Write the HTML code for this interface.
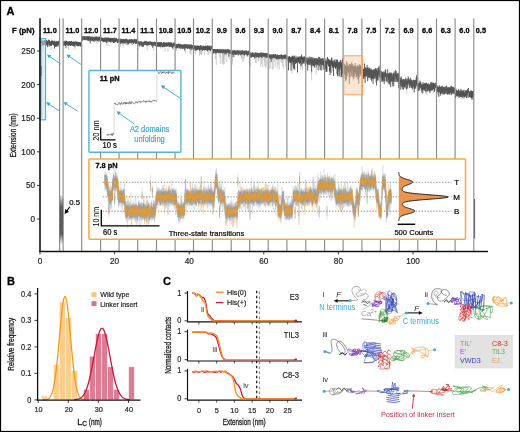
<!DOCTYPE html>
<html><head><meta charset="utf-8"><style>
html,body{margin:0;padding:0;background:#fff;}
svg{display:block;font-family:"Liberation Sans", sans-serif;will-change:transform;}
</style></head><body>
<svg width="520" height="432" viewBox="0 0 520 432">
<rect x="0" y="0" width="520" height="432" fill="#fff"/>
<path d="M40.5,45.3V49.1M42.0,45.2V50.2M51.0,44.8V50.0M68.5,45.3V50.1M75.0,46.6V49.8M96.8,39.8V44.4M98.3,39.8V42.2M106.5,41.9V45.3M108.0,41.4V46.2M120.6,43.5V46.8M123.1,43.1V47.7M138.2,44.0V49.8M147.2,44.7V50.4M153.7,45.0V51.0M160.5,46.3V48.7M165.0,45.7V51.4M168.0,45.6V51.7M173.5,45.5V49.5M176.6,47.4V51.4M180.6,46.8V50.3M185.6,47.5V53.2M190.1,48.3V54.1M191.1,49.7V54.6M195.5,49.1V54.4M199.5,50.2V55.9M200.0,49.5V53.4M200.5,49.3V54.3M201.5,49.2V54.5M202.0,49.4V55.0M204.5,49.7V55.4M208.0,49.2V55.0M209.0,49.2V53.8M215.3,53.2V59.0M216.3,53.0V65.1M219.8,51.9V58.0M220.3,52.1V64.0M222.3,52.9V64.3M222.8,52.1V63.3M223.3,52.5V64.8M223.8,52.1V60.2M224.8,53.8V64.0M225.3,51.7V55.9M226.8,52.9V62.1M229.3,52.5V59.7M232.2,54.3V64.5M232.7,53.4V62.6M234.2,53.4V57.7M241.2,53.9V58.3M241.7,53.9V58.0M242.2,53.9V62.3M243.7,53.8V61.2M244.2,54.8V58.8M249.2,54.8V60.4M250.2,56.1V67.0M255.2,57.0V63.0M256.2,56.1V63.1M258.2,56.3V60.9M258.7,57.1V61.0M260.7,55.8V66.7M261.7,57.1V63.9M262.7,55.7V67.0M264.2,56.5V60.5M264.7,56.0V66.2M265.7,57.2V68.3M266.2,57.0V66.2M269.2,57.5V68.8M270.2,58.4V68.6M272.2,58.0V69.8M273.2,57.8V68.9M274.2,57.1V61.6M275.2,57.3V67.3M277.2,58.4V68.4M278.2,58.1V64.8M279.2,58.5V70.0M280.7,57.8V62.4M281.7,58.5V62.6M282.7,58.1V66.8M283.7,58.4V69.0M285.7,58.0V66.8M292.0,64.1V73.8M292.5,61.1V66.8M293.0,61.5V70.1M295.0,60.2V70.8M300.5,62.6V69.5M301.5,59.6V67.5M302.5,61.9V70.7M305.0,61.9V66.1M311.2,65.8V73.6M311.7,71.2V80.4M316.2,66.8V74.3M330.5,67.9V72.9M332.5,67.3V71.4M338.0,71.1V77.9M339.5,69.6V74.2M353.2,78.2V81.5M354.2,75.5V79.7M354.7,73.1V78.4M360.7,72.9V76.6M364.6,76.6V79.2M368.1,77.1V80.5M379.1,73.6V77.8M379.6,76.8V81.7M388.7,79.5V84.4M392.7,85.0V87.2M406.7,88.9V93.8M425.9,91.6V94.0M426.9,90.4V94.8M433.4,88.7V93.2M462.0,95.1V100.0" stroke="#a6a6a6" stroke-width="0.55" fill="none"/>
<path d="M40.5,41.1V45.8M41.0,40.8V44.5M41.5,39.4V43.3M42.0,41.1V45.7M42.5,40.5V44.3M43.0,40.9V45.5M43.5,40.8V44.7M44.0,40.7V45.3M44.5,40.5V45.0M45.0,40.2V44.3M45.5,41.7V46.1M46.0,40.3V45.4M46.5,40.1V45.1M47.0,40.4V44.1M47.5,41.0V47.1M48.0,41.4V45.2M48.5,39.7V43.5M49.0,41.6V46.6M49.5,39.9V45.1M50.0,41.9V45.8M50.5,41.5V45.7M51.0,40.9V45.3M51.5,41.1V46.0M52.0,39.7V44.3M52.5,40.8V44.4M53.0,41.1V44.7M53.5,40.9V45.1M54.0,41.5V45.9M54.5,40.7V48.5M55.0,41.4V45.2M55.5,42.3V47.0M56.0,40.8V45.7M56.5,41.2V46.4M57.0,42.2V47.0M57.5,41.2V45.3M58.0,41.1V45.4M58.5,40.8V44.8M59.0,41.4V46.5M63.5,41.3V45.7M64.0,41.2V45.2M64.5,41.6V45.5M65.0,40.6V44.2M65.5,41.4V46.0M66.0,41.2V48.3M66.5,40.7V44.7M67.0,41.3V45.0M67.5,41.4V44.9M68.0,41.8V46.0M68.5,41.7V45.8M69.0,41.5V45.1M69.5,41.3V45.5M70.0,41.8V45.5M70.5,41.1V45.8M71.0,41.4V45.4M71.5,40.9V45.2M72.0,41.7V45.8M72.5,41.8V45.3M73.0,41.8V46.3M73.5,41.5V46.2M74.0,41.5V45.4M74.5,41.8V45.9M75.0,42.7V47.1M75.5,41.4V44.9M76.0,41.5V44.9M76.5,41.7V45.7M77.0,41.9V45.4M77.5,41.9V46.2M78.0,41.8V46.1M78.5,42.3V46.3M79.0,42.1V45.8M79.5,42.0V45.4M80.0,42.0V46.4M80.5,42.8V46.5M81.0,41.9V46.0M81.5,41.6V46.2M82.3,36.4V40.9M82.8,36.3V39.9M83.3,36.1V39.6M83.8,36.7V40.2M84.3,36.0V39.4M84.8,36.8V40.2M85.3,36.3V39.4M85.8,36.5V39.6M86.3,37.2V40.3M86.8,36.0V40.0M87.3,36.4V39.9M87.8,36.4V40.7M88.3,36.4V40.7M88.8,36.8V41.1M89.3,36.1V40.1M89.8,36.5V40.7M90.3,36.7V43.3M90.8,37.2V41.2M91.3,36.6V40.1M91.8,37.0V40.6M92.3,36.6V40.6M92.8,36.6V41.2M93.3,37.2V41.2M93.8,37.5V41.3M94.3,37.3V41.7M94.8,36.5V39.9M95.3,36.8V40.1M95.8,36.9V41.3M96.3,36.4V40.2M96.8,36.7V40.3M97.3,37.0V41.2M97.8,37.0V40.6M98.3,36.7V40.3M98.8,37.0V41.4M99.3,36.7V40.0M99.8,37.0V41.4M100.3,36.5V39.7M101.0,37.4V40.6M101.5,37.4V41.0M102.0,37.6V41.1M102.5,38.1V41.4M103.0,37.8V42.3M103.5,38.3V41.6M104.0,37.7V42.0M104.5,38.1V41.9M105.0,37.6V40.9M105.5,38.5V41.9M106.0,37.1V42.3M106.5,38.0V42.4M107.0,38.3V42.6M107.5,37.6V40.9M108.0,37.8V41.9M108.5,37.4V40.9M109.0,38.0V42.0M109.5,38.1V41.9M110.0,37.9V41.4M110.5,37.9V42.2M111.0,39.0V42.6M111.5,37.8V41.3M112.0,38.2V41.9M112.5,38.0V42.2M113.0,37.8V41.2M113.5,38.5V43.0M114.0,37.7V42.1M114.5,38.3V42.8M115.0,37.6V41.9M115.5,38.5V42.1M116.0,38.5V42.2M116.5,38.2V41.3M117.0,38.7V42.1M117.5,39.3V43.0M118.0,38.8V43.2M118.5,38.5V41.7M119.6,39.0V42.6M120.1,38.4V41.9M120.6,39.5V44.0M121.1,39.1V42.9M121.6,39.1V43.0M122.1,39.4V43.6M122.6,39.0V42.7M123.1,39.4V43.6M123.6,38.8V43.2M124.1,39.9V43.2M124.6,39.2V43.3M125.1,39.5V43.6M125.6,38.9V43.2M126.1,39.1V42.5M126.6,38.5V42.4M127.1,40.5V45.1M127.6,39.6V43.2M128.1,39.2V43.8M128.6,40.1V44.6M129.1,39.8V43.5M129.6,39.4V42.9M130.1,39.1V42.7M130.6,39.5V43.2M131.1,39.4V42.8M131.6,39.1V42.8M132.1,40.1V44.5M132.6,39.4V42.6M133.1,39.3V43.0M133.6,39.9V44.0M134.1,39.5V43.2M134.6,38.8V42.2M135.1,39.4V42.9M135.6,39.4V44.0M136.1,39.6V43.9M136.6,39.1V43.5M137.1,39.9V43.8M138.2,41.3V44.5M138.7,40.8V44.1M139.2,41.3V45.3M139.7,42.6V46.4M140.2,41.5V45.3M140.7,41.0V44.3M141.2,42.4V46.5M141.7,41.5V44.8M142.2,41.9V46.5M142.7,42.0V46.6M143.2,42.3V46.8M143.7,42.0V46.5M144.2,40.9V44.4M144.7,41.6V44.8M145.2,41.4V44.8M145.7,41.1V45.2M146.2,41.1V44.4M146.7,41.4V45.7M147.2,41.4V45.2M147.7,42.1V45.6M148.2,41.8V45.0M148.7,41.5V45.4M149.2,41.7V44.9M149.7,41.7V45.2M150.2,41.6V44.9M150.7,41.6V44.9M151.2,41.6V44.8M151.7,42.0V46.1M152.2,41.9V45.1M152.7,42.5V47.8M153.2,42.0V46.1M153.7,42.1V45.5M154.2,42.0V45.2M154.7,41.5V45.7M155.2,42.0V45.6M155.7,42.1V46.3M157.0,42.3V45.8M157.5,42.2V46.7M158.0,42.7V46.3M158.5,42.1V46.6M159.0,42.6V47.0M159.5,42.2V46.5M160.0,42.2V46.7M160.5,42.2V46.8M161.0,42.2V46.4M161.5,42.0V45.7M162.0,42.9V47.4M162.5,43.7V47.1M163.0,42.7V46.3M163.5,42.0V47.1M164.0,42.4V46.0M164.5,42.7V46.8M165.0,42.2V46.2M165.5,43.1V46.6M166.0,42.9V46.7M166.5,42.5V46.2M167.0,42.5V46.7M167.5,42.8V46.0M168.0,42.4V46.1M168.5,42.4V45.6M169.0,42.3V46.8M169.5,42.6V46.9M170.0,42.6V47.0M170.5,42.8V46.6M171.0,42.1V45.6M171.5,42.8V47.2M172.0,42.5V45.9M172.5,44.3V48.5M173.0,43.3V47.5M173.5,42.7V46.0M174.0,42.9V46.8M174.5,42.4V46.4M175.6,43.8V48.1M176.1,44.4V48.8M176.6,44.1V47.9M177.1,43.9V48.2M177.6,44.0V48.0M178.1,44.4V47.9M178.6,43.5V46.7M179.1,44.4V48.9M179.6,43.9V47.8M180.1,44.2V48.0M180.6,44.0V47.3M181.1,45.3V49.0M181.6,44.3V47.8M182.1,44.6V48.1M182.6,44.8V49.1M183.1,44.8V48.3M183.6,44.7V48.6M184.1,44.0V48.4M184.6,44.3V50.5M185.1,44.7V48.2M185.6,44.3V48.0M186.1,44.2V48.7M186.6,44.5V47.7M187.1,44.6V47.9M187.6,44.5V49.0M188.1,44.8V48.8M188.6,44.8V48.2M189.1,44.1V47.9M189.6,45.3V49.2M190.1,44.9V48.8M190.6,44.3V48.5M191.1,45.7V50.2M191.6,44.5V48.1M192.1,45.1V49.6M192.6,45.0V48.8M194.0,45.4V49.2M194.5,45.5V49.2M195.0,46.2V50.8M195.5,45.5V49.6M196.0,45.9V50.4M196.5,45.9V50.4M197.0,45.7V50.2M197.5,45.6V49.7M198.0,45.6V49.9M198.5,46.1V49.8M199.0,45.5V49.1M199.5,46.1V50.7M200.0,46.0V50.0M200.5,45.2V49.8M201.0,45.4V49.8M201.5,46.4V49.7M202.0,46.4V49.9M202.5,46.6V50.8M203.0,45.3V49.9M203.5,46.0V50.1M204.0,45.9V50.2M204.5,46.2V50.2M205.0,46.1V49.8M205.5,45.6V50.1M206.0,46.4V49.6M206.5,45.8V50.4M207.0,46.4V50.2M207.5,45.5V51.3M208.0,45.7V49.7M208.5,46.3V50.3M209.0,45.5V49.7M209.5,46.2V50.4M210.0,45.9V50.1M210.5,47.2V51.1M211.0,45.6V49.7M211.5,45.8V49.2M212.8,49.1V52.6M213.3,49.1V53.5M213.8,49.1V53.2M214.3,49.0V52.1M214.8,49.1V52.9M215.3,49.6V53.7M215.8,49.0V52.3M216.3,49.2V53.5M216.8,49.3V52.7M217.3,49.0V52.7M217.8,49.2V52.6M218.3,49.7V52.7M218.8,49.1V53.5M219.3,49.1V52.9M219.8,49.0V52.4M220.3,49.5V52.6M220.8,49.6V53.0M221.3,49.5V52.7M221.8,49.6V53.2M222.3,50.1V53.4M222.8,49.2V52.6M223.3,49.3V53.0M223.8,49.5V52.6M224.3,49.3V52.6M224.8,50.0V54.3M225.3,49.2V52.2M225.8,50.2V54.4M226.3,49.6V53.4M226.8,49.4V53.4M227.3,49.2V52.6M227.8,49.5V53.3M228.3,49.1V52.2M228.8,49.8V56.8M229.3,49.7V53.0M229.8,50.1V53.9M230.3,49.9V54.1M231.7,50.7V54.5M232.2,50.8V54.8M232.7,50.3V53.9M233.2,50.6V57.0M233.7,50.5V54.5M234.2,50.5V53.9M234.7,50.4V54.3M235.2,50.8V55.1M235.7,50.8V54.7M236.2,50.0V54.4M236.7,51.0V54.9M237.2,50.8V54.1M237.7,50.1V53.7M238.2,50.5V55.6M238.7,50.6V55.0M239.2,51.1V54.4M239.7,50.3V53.9M240.2,50.7V54.6M240.7,51.1V55.3M241.2,50.5V54.4M241.7,50.7V54.4M242.2,50.2V54.4M242.7,50.6V54.5M243.2,50.7V54.3M243.7,51.0V54.3M244.2,50.6V55.3M244.7,50.9V55.4M245.2,50.4V53.8M245.7,51.1V54.5M246.2,50.5V54.9M246.7,50.5V54.9M247.2,52.1V56.6M247.7,50.9V55.5M248.2,51.3V55.1M248.7,50.7V54.4M249.2,50.8V55.3M250.2,53.1V56.6M250.7,52.4V56.9M251.2,53.2V57.9M251.7,53.1V57.2M252.2,52.4V56.8M252.7,52.3V56.6M253.2,53.3V57.2M253.7,53.1V57.0M254.2,52.7V56.8M254.7,54.5V58.6M255.2,52.7V57.5M255.7,52.4V56.0M256.2,52.8V56.6M256.7,53.3V57.7M257.2,52.6V56.9M257.7,52.8V56.9M258.2,53.3V56.8M258.7,53.1V57.6M259.2,53.2V57.7M259.7,53.0V56.5M260.2,53.1V57.1M260.7,52.3V56.3M261.2,52.6V57.2M261.7,52.9V57.6M262.2,53.4V57.8M262.7,52.5V56.2M263.2,53.1V56.9M263.7,52.8V56.2M264.2,53.3V57.0M264.7,53.0V56.5M265.2,52.9V56.4M265.7,53.3V57.7M266.2,53.4V57.5M266.7,53.1V57.3M267.2,53.8V57.5M267.7,53.0V57.5M269.2,54.3V58.0M269.7,54.2V57.6M270.2,55.3V58.9M270.7,54.4V59.0M271.2,54.8V62.1M271.7,54.3V58.5M272.2,54.7V58.5M272.7,54.7V58.0M273.2,54.5V58.3M273.7,54.1V57.7M274.2,54.4V57.6M274.7,54.8V58.1M275.2,54.3V57.8M275.7,54.2V58.7M276.2,54.9V58.8M276.7,55.8V59.7M277.2,54.3V58.9M277.7,54.8V58.8M278.2,55.0V58.6M278.7,55.0V59.3M279.2,55.1V59.0M279.7,55.0V58.7M280.2,55.1V58.6M280.7,54.8V58.3M281.2,54.2V57.9M281.7,55.0V59.0M282.2,55.0V59.7M282.7,55.2V58.6M283.2,54.8V58.1M283.7,55.3V58.9M284.2,54.7V59.2M284.7,55.3V58.8M285.2,54.4V58.1M285.7,54.7V58.5M286.2,55.3V59.4M286.7,55.3V59.3M288.0,56.3V61.2M288.5,56.8V70.4M289.0,56.7V63.1M289.5,56.1V61.7M290.0,57.0V62.3M290.5,57.2V62.9M291.0,57.0V70.7M291.5,56.4V63.2M292.0,58.0V64.6M292.5,56.1V61.6M293.0,55.4V62.0M293.5,56.8V68.6M294.0,56.4V61.2M294.5,56.5V69.4M295.0,55.6V60.7M295.5,58.5V64.0M296.0,57.1V62.7M296.5,58.2V63.2M297.0,56.2V62.6M297.5,58.0V72.5M298.0,56.7V61.9M298.5,57.1V62.0M299.0,57.1V63.2M299.5,57.2V63.9M300.0,56.1V62.5M300.5,56.6V63.1M301.0,57.1V66.0M301.5,54.6V60.1M302.0,57.6V64.4M302.5,56.5V62.4M303.0,57.1V63.4M303.5,56.7V63.1M304.0,57.6V63.9M304.5,56.4V61.3M305.0,56.9V62.4M305.5,57.8V66.5M306.7,57.4V63.5M307.2,58.9V64.5M307.7,57.5V70.6M308.2,58.0V63.4M308.7,58.7V65.1M309.2,56.3V64.1M309.7,59.3V65.1M310.2,58.6V64.8M310.7,57.0V63.2M311.2,59.7V66.3M311.7,57.0V71.7M312.2,57.3V64.2M312.7,58.7V65.9M313.2,57.7V65.5M313.7,60.6V66.3M314.2,58.3V65.5M314.7,58.2V67.9M315.2,58.7V64.2M315.7,58.1V65.1M316.2,60.1V67.3M316.7,58.1V64.5M317.2,58.3V64.8M317.7,59.0V65.1M318.2,59.4V70.3M318.7,57.2V64.8M319.2,57.0V62.9M319.7,57.6V66.4M320.2,58.6V70.0M320.7,58.5V64.1M321.2,58.7V70.6M321.7,58.5V65.0M322.2,59.2V64.9M322.7,57.9V65.2M323.2,58.2V69.8M323.7,60.2V65.7M324.2,59.8V66.8M325.5,60.6V69.2M326.0,58.4V72.1M326.5,60.4V71.2M327.0,63.2V71.8M327.5,57.0V64.0M328.0,58.3V65.0M328.5,59.1V66.3M329.0,59.9V66.6M329.5,59.9V71.6M330.0,59.6V75.1M330.5,60.5V68.4M331.0,61.5V72.9M331.5,57.8V65.4M332.0,57.6V66.0M332.5,61.0V67.8M333.0,60.5V67.1M333.5,62.3V76.1M334.0,60.2V66.4M334.5,60.2V67.5M335.0,59.1V65.8M335.5,61.8V68.9M336.0,62.0V68.2M336.5,60.0V67.3M337.0,59.3V74.3M337.5,59.7V75.9M338.0,63.9V71.6M338.5,61.7V69.0M339.0,64.0V76.2M339.5,61.6V70.1M340.0,62.0V76.6M340.5,59.9V67.3M341.0,62.4V70.1M341.5,62.9V77.1M342.0,60.3V74.4M342.5,58.6V73.4M343.0,61.4V77.4M344.2,63.7V73.9M344.7,64.3V74.7M345.2,66.2V78.5M345.7,65.0V81.3M346.2,66.5V79.8M346.7,61.1V76.3M347.2,65.9V76.2M347.7,63.4V70.9M348.2,65.7V73.2M348.7,66.0V73.3M349.2,68.8V83.9M349.7,63.7V71.2M350.2,64.0V77.7M350.7,64.7V72.5M351.2,66.0V76.0M351.7,62.5V70.1M352.2,65.8V76.9M352.7,63.8V71.0M353.2,65.8V78.7M353.7,66.8V76.9M354.2,66.5V76.0M354.7,65.2V73.6M355.2,63.0V71.6M355.7,66.4V74.1M356.2,66.6V77.1M356.7,67.3V76.6M357.2,65.1V79.4M357.7,66.0V75.9M358.2,65.5V75.3M358.7,66.6V83.8M359.2,65.4V77.8M359.7,64.0V73.4M360.2,66.1V75.6M360.7,65.0V73.4M361.2,67.0V74.3M362.6,68.5V79.4M363.1,69.4V78.9M363.6,68.7V78.6M364.1,68.6V76.5M364.6,63.5V77.1M365.1,68.9V83.0M365.6,67.1V76.0M366.1,68.3V75.8M366.6,68.2V76.7M367.1,64.8V73.2M367.6,67.5V81.3M368.1,67.2V77.6M368.6,69.0V77.1M369.1,67.7V78.1M369.6,68.3V77.7M370.1,68.7V77.1M370.6,69.9V78.2M371.1,68.5V80.0M371.6,69.7V81.3M372.1,69.6V78.3M372.6,70.1V78.8M373.1,70.5V84.0M373.6,69.2V79.1M374.1,70.6V78.6M374.6,69.4V77.6M375.1,68.8V78.6M375.6,67.9V76.3M376.1,68.8V82.4M376.6,70.1V85.5M377.1,68.2V78.1M377.6,70.9V80.6M378.1,68.1V80.1M378.6,67.2V75.1M379.1,65.7V74.1M379.6,69.9V77.3M380.1,70.0V77.5M381.2,72.4V81.7M381.7,70.8V77.8M382.2,72.0V80.7M382.7,72.0V81.5M383.2,73.4V81.8M383.7,71.4V79.7M384.2,73.0V84.1M384.7,72.0V81.1M385.2,69.9V77.0M385.7,69.4V77.1M386.2,73.7V81.7M386.7,73.3V80.5M387.2,73.8V82.1M387.7,69.3V76.8M388.2,74.2V83.4M388.7,73.1V80.0M389.2,73.5V83.6M389.7,72.3V84.7M390.2,73.0V81.7M390.7,73.6V87.3M391.2,72.4V81.4M391.7,73.5V81.8M392.2,73.6V81.1M392.7,76.4V85.5M393.2,73.5V81.1M393.7,72.9V86.5M394.2,71.4V78.7M394.7,75.0V81.8M395.2,72.7V82.1M395.7,69.8V76.7M396.2,71.2V78.7M396.7,74.5V81.6M397.2,73.0V82.3M397.7,74.5V81.3M398.2,72.7V81.4M398.7,73.9V88.2M399.7,77.4V84.0M400.2,79.8V89.8M400.7,77.9V86.2M401.2,76.3V83.2M401.7,78.4V86.7M402.2,80.4V88.8M402.7,79.6V87.2M403.2,79.0V89.9M403.7,79.3V89.1M404.2,79.1V87.1M404.7,80.5V87.2M405.2,79.4V87.4M405.7,77.6V84.7M406.2,79.3V88.7M406.7,81.3V89.4M407.2,78.4V85.1M407.7,79.8V88.5M408.2,76.4V83.0M408.7,78.0V84.3M409.2,79.1V85.6M409.7,79.8V88.2M410.2,79.8V86.4M410.7,77.7V85.5M411.2,79.7V88.1M411.7,79.9V87.2M412.2,80.5V88.2M412.7,81.1V89.6M413.2,79.7V86.5M413.7,80.3V87.3M414.2,79.9V92.6M414.7,80.5V88.7M415.2,79.7V87.6M415.7,80.1V88.7M416.2,77.3V85.8M416.7,75.0V85.4M417.2,78.6V87.4M418.4,83.3V91.1M418.9,82.6V91.2M419.4,83.0V89.9M419.9,80.5V87.8M420.4,81.6V87.2M420.9,82.3V88.7M421.4,84.4V90.8M421.9,85.0V92.8M422.4,84.1V90.8M422.9,82.1V93.4M423.4,83.7V89.7M423.9,84.3V89.9M424.4,83.2V89.8M424.9,83.1V90.9M425.4,83.5V91.2M425.9,83.1V92.1M426.4,82.6V88.2M426.9,83.8V90.9M427.4,83.7V91.5M427.9,84.0V91.1M428.4,83.3V90.2M428.9,84.8V90.3M429.4,84.4V91.5M429.9,85.5V93.1M430.4,82.4V90.4M430.9,84.2V91.3M431.4,82.1V89.8M431.9,83.5V90.7M432.4,83.0V90.2M432.9,82.3V89.4M433.4,83.1V89.2M433.9,83.1V89.0M434.4,84.0V92.0M434.9,83.3V90.7M435.4,82.5V88.0M436.8,87.6V94.8M437.3,85.6V91.5M437.8,86.5V91.7M438.3,86.7V92.8M438.8,87.2V96.9M439.3,85.1V92.4M439.8,86.8V92.0M440.3,87.0V95.7M440.8,86.8V94.0M441.3,86.0V93.3M441.8,87.0V94.1M442.3,85.6V92.3M442.8,87.5V94.5M443.3,87.2V94.2M443.8,86.7V92.2M444.3,88.1V94.5M444.8,86.9V93.8M445.3,86.5V92.1M445.8,87.1V93.8M446.3,86.6V93.6M446.8,85.6V90.9M447.3,87.7V94.8M447.8,87.5V94.0M448.3,87.2V94.2M448.8,87.3V94.4M449.3,87.2V93.2M449.8,87.8V94.9M450.3,87.7V92.9M450.8,86.3V92.3M451.3,85.7V95.2M451.8,87.0V93.7M452.3,86.7V93.4M452.8,87.5V93.5M453.3,86.8V93.6M453.8,87.7V93.1M454.3,87.8V94.1M455.5,93.0V98.1M456.0,88.8V94.7M456.5,90.4V96.4M457.0,90.2V94.9M457.5,90.6V95.9M458.0,90.9V97.1M458.5,89.4V95.8M459.0,91.8V97.9M459.5,91.2V96.6M460.0,89.8V96.4M460.5,91.2V97.0M461.0,88.9V95.9M461.5,90.9V97.0M462.0,90.0V95.6M462.5,91.6V97.9M463.0,90.2V96.0M463.5,91.0V96.5M464.0,89.8V98.5M464.5,92.3V97.0M465.0,91.4V97.2M465.5,90.4V95.9M466.0,90.3V96.9M466.5,90.5V98.1M467.0,90.9V96.2M467.5,89.0V94.9M468.0,92.6V98.1M468.5,88.0V92.7M469.0,91.2V97.2M469.5,91.4V97.0M470.0,92.1V97.2M470.5,91.0V97.6M471.0,90.3V96.9M471.5,90.7V98.4M472.0,91.0V100.0M472.5,91.0V97.1M473.0,92.7V98.7M473.5,90.6V97.0" stroke="#4c4c4c" stroke-width="0.9" fill="none"/>
<line x1="474.6" y1="199" x2="474.6" y2="238.5" stroke="#333" stroke-width="0.9" />
<line x1="59.6" y1="18.5" x2="59.6" y2="251.4" stroke="#8c8c8c" stroke-width="1.15" />
<line x1="63.1" y1="18.5" x2="63.1" y2="251.4" stroke="#8c8c8c" stroke-width="1.15" />
<line x1="81.7" y1="18.5" x2="81.7" y2="251.4" stroke="#8c8c8c" stroke-width="1.15" />
<line x1="100.6" y1="18.5" x2="100.6" y2="251.4" stroke="#8c8c8c" stroke-width="1.15" />
<line x1="119.1" y1="18.5" x2="119.1" y2="251.4" stroke="#8c8c8c" stroke-width="1.15" />
<line x1="137.7" y1="18.5" x2="137.7" y2="251.4" stroke="#8c8c8c" stroke-width="1.15" />
<line x1="156.5" y1="18.5" x2="156.5" y2="251.4" stroke="#8c8c8c" stroke-width="1.15" />
<line x1="175.1" y1="18.5" x2="175.1" y2="251.4" stroke="#8c8c8c" stroke-width="1.15" />
<line x1="193.5" y1="18.5" x2="193.5" y2="251.4" stroke="#8c8c8c" stroke-width="1.15" />
<line x1="212.3" y1="18.5" x2="212.3" y2="251.4" stroke="#8c8c8c" stroke-width="1.15" />
<line x1="231.2" y1="18.5" x2="231.2" y2="251.4" stroke="#8c8c8c" stroke-width="1.15" />
<line x1="249.7" y1="18.5" x2="249.7" y2="251.4" stroke="#8c8c8c" stroke-width="1.15" />
<line x1="268.2" y1="18.5" x2="268.2" y2="251.4" stroke="#8c8c8c" stroke-width="1.15" />
<line x1="286.9" y1="18.5" x2="286.9" y2="251.4" stroke="#8c8c8c" stroke-width="1.15" />
<line x1="305.8" y1="18.5" x2="305.8" y2="251.4" stroke="#8c8c8c" stroke-width="1.15" />
<line x1="324.6" y1="18.5" x2="324.6" y2="251.4" stroke="#8c8c8c" stroke-width="1.15" />
<line x1="343.1" y1="18.5" x2="343.1" y2="251.4" stroke="#8c8c8c" stroke-width="1.15" />
<line x1="361.9" y1="18.5" x2="361.9" y2="251.4" stroke="#8c8c8c" stroke-width="1.15" />
<line x1="380.4" y1="18.5" x2="380.4" y2="251.4" stroke="#8c8c8c" stroke-width="1.15" />
<line x1="399.3" y1="18.5" x2="399.3" y2="251.4" stroke="#8c8c8c" stroke-width="1.15" />
<line x1="417.8" y1="18.5" x2="417.8" y2="251.4" stroke="#8c8c8c" stroke-width="1.15" />
<line x1="436.5" y1="18.5" x2="436.5" y2="251.4" stroke="#8c8c8c" stroke-width="1.15" />
<line x1="455.1" y1="18.5" x2="455.1" y2="251.4" stroke="#8c8c8c" stroke-width="1.15" />
<line x1="473.8" y1="18.5" x2="473.8" y2="251.4" stroke="#8c8c8c" stroke-width="1.15" />
<defs><linearGradient id="g05" x1="0" y1="0" x2="0" y2="1"><stop offset="0" stop-color="#777" stop-opacity="0"/><stop offset="0.12" stop-color="#666" stop-opacity="0.6"/><stop offset="0.25" stop-color="#555" stop-opacity="1"/><stop offset="0.8" stop-color="#555" stop-opacity="1"/><stop offset="1" stop-color="#777" stop-opacity="0"/></linearGradient></defs>
<rect x="59.6" y="195" width="3.6" height="49" fill="url(#g05)"/>
<path d="M60.6,196.0h0.9M60.4,196.7h0.8M60.1,197.4h0.9M61.1,198.1h0.6M62.4,198.8h0.4M62.4,199.5h0.9M60.0,200.2h0.9M61.3,200.9h0.9M61.4,201.6h0.7M62.4,202.3h0.5M61.9,203.0h0.5M60.4,203.7h0.5M62.2,204.4h0.7M61.8,205.1h0.6M61.8,205.8h0.8M59.9,206.5h0.7M61.8,207.2h0.5M61.6,207.9h0.6M60.7,208.6h1.0M62.4,209.3h1.0M60.9,210.0h0.7M62.0,210.7h0.9M61.0,211.4h0.9M60.8,212.1h1.0M61.0,212.8h0.5M61.8,213.5h0.5M61.6,214.2h0.4M62.6,214.9h0.7M61.8,215.6h0.5M61.5,216.3h0.6M60.3,217.0h0.9M59.7,217.7h0.7M59.9,218.4h0.9M62.3,219.1h0.4M61.0,219.8h0.7M61.8,220.5h0.8M60.6,221.2h1.0M60.2,221.9h0.5M62.0,222.6h0.5M60.2,223.3h0.7M60.6,224.0h0.5M62.4,224.7h0.7M62.0,225.4h0.6M62.3,226.1h0.5M62.3,226.8h0.8M62.5,227.5h0.9M61.5,228.2h0.7M62.2,228.9h0.7M59.9,229.6h0.9M62.0,230.3h0.8M61.8,231.0h0.5M61.0,231.7h0.9M62.5,232.4h1.0M60.1,233.1h0.8M61.3,233.8h0.6M60.1,234.5h0.5M61.0,235.2h0.7M60.4,235.9h0.6M61.3,236.6h0.9M61.4,237.3h0.5M62.3,238.0h0.6M62.5,238.7h1.0M60.0,239.4h0.7M62.5,240.1h0.6M61.2,240.8h0.6M59.7,241.5h0.5M60.0,242.2h0.6M61.5,242.9h0.7" stroke="#888" stroke-width="0.5" fill="none"/>
<rect x="39.6" y="38.6" width="6" height="81.2" fill="#b8dcef" fill-opacity="0.55" stroke="#4fb0d6" stroke-width="1.1"/>
<line x1="41.5" y1="44" x2="41.5" y2="118" stroke="#9ab" stroke-width="0.6" />
<line x1="41.5" y1="66" x2="41.5" y2="76" stroke="#777" stroke-width="0.8" />
<line x1="40" y1="18.3" x2="40" y2="252.1" stroke="#111" stroke-width="1.6" />
<line x1="37" y1="51.0" x2="40" y2="51.0" stroke="#222" stroke-width="0.9" />
<text x="35" y="53.9" font-size="8.2" fill="#1e1e1e" font-weight="normal" text-anchor="end" stroke="#1e1e1e" stroke-width="0.2" >250</text>
<line x1="37" y1="84.6" x2="40" y2="84.6" stroke="#222" stroke-width="0.9" />
<text x="35" y="87.5" font-size="8.2" fill="#1e1e1e" font-weight="normal" text-anchor="end" stroke="#1e1e1e" stroke-width="0.2" >200</text>
<line x1="37" y1="118.2" x2="40" y2="118.2" stroke="#222" stroke-width="0.9" />
<text x="35" y="121.10000000000001" font-size="8.2" fill="#1e1e1e" font-weight="normal" text-anchor="end" stroke="#1e1e1e" stroke-width="0.2" >150</text>
<line x1="37" y1="151.8" x2="40" y2="151.8" stroke="#222" stroke-width="0.9" />
<text x="35" y="154.70000000000002" font-size="8.2" fill="#1e1e1e" font-weight="normal" text-anchor="end" stroke="#1e1e1e" stroke-width="0.2" >100</text>
<line x1="37" y1="185.4" x2="40" y2="185.4" stroke="#222" stroke-width="0.9" />
<text x="35" y="188.3" font-size="8.2" fill="#1e1e1e" font-weight="normal" text-anchor="end" stroke="#1e1e1e" stroke-width="0.2" >50</text>
<line x1="37" y1="219.0" x2="40" y2="219.0" stroke="#222" stroke-width="0.9" />
<text x="35" y="221.9" font-size="8.2" fill="#1e1e1e" font-weight="normal" text-anchor="end" stroke="#1e1e1e" stroke-width="0.2" >0</text>
<text transform="translate(15.6,135.4) rotate(-90)" font-size="8.8" fill="#1a1a1a" stroke="#1a1a1a" stroke-width="0.3" text-anchor="middle" textLength="44" lengthAdjust="spacingAndGlyphs">Extension (nm)</text>
<line x1="39.2" y1="251.4" x2="488" y2="251.4" stroke="#111" stroke-width="1.5" />
<line x1="40.0" y1="251.4" x2="40.0" y2="254.4" stroke="#222" stroke-width="0.9" />
<text x="40.0" y="264" font-size="8.2" fill="#1e1e1e" font-weight="normal" text-anchor="middle" stroke="#1e1e1e" stroke-width="0.2" >0</text>
<line x1="114.6" y1="251.4" x2="114.6" y2="254.4" stroke="#222" stroke-width="0.9" />
<text x="114.6" y="264" font-size="8.2" fill="#1e1e1e" font-weight="normal" text-anchor="middle" stroke="#1e1e1e" stroke-width="0.2" >20</text>
<line x1="189.2" y1="251.4" x2="189.2" y2="254.4" stroke="#222" stroke-width="0.9" />
<text x="189.2" y="264" font-size="8.2" fill="#1e1e1e" font-weight="normal" text-anchor="middle" stroke="#1e1e1e" stroke-width="0.2" >40</text>
<line x1="263.8" y1="251.4" x2="263.8" y2="254.4" stroke="#222" stroke-width="0.9" />
<text x="263.8" y="264" font-size="8.2" fill="#1e1e1e" font-weight="normal" text-anchor="middle" stroke="#1e1e1e" stroke-width="0.2" >60</text>
<line x1="338.4" y1="251.4" x2="338.4" y2="254.4" stroke="#222" stroke-width="0.9" />
<text x="338.4" y="264" font-size="8.2" fill="#1e1e1e" font-weight="normal" text-anchor="middle" stroke="#1e1e1e" stroke-width="0.2" >80</text>
<line x1="413.0" y1="251.4" x2="413.0" y2="254.4" stroke="#222" stroke-width="0.9" />
<text x="413.0" y="264" font-size="8.2" fill="#1e1e1e" font-weight="normal" text-anchor="middle" stroke="#1e1e1e" stroke-width="0.2" >100</text>
<text x="6.6" y="15.0" font-size="11" fill="#000" font-weight="bold" text-anchor="start" stroke="#000" stroke-width="0.28" >A</text>
<text x="12" y="33" font-size="7.8" fill="#000" font-weight="bold" text-anchor="start" stroke="#000" stroke-width="0.28" >F (pN)</text>
<text x="49.8" y="32.9" font-size="7.3" fill="#000" font-weight="bold" text-anchor="middle" stroke="#000" stroke-width="0.28" >11.0</text>
<text x="72.4" y="32.9" font-size="7.3" fill="#000" font-weight="bold" text-anchor="middle" stroke="#000" stroke-width="0.28" >11.0</text>
<text x="91.15" y="32.9" font-size="7.3" fill="#000" font-weight="bold" text-anchor="middle" stroke="#000" stroke-width="0.28" >12.0</text>
<text x="109.85" y="32.9" font-size="7.3" fill="#000" font-weight="bold" text-anchor="middle" stroke="#000" stroke-width="0.28" >11.7</text>
<text x="128.39999999999998" y="32.9" font-size="7.3" fill="#000" font-weight="bold" text-anchor="middle" stroke="#000" stroke-width="0.28" >11.4</text>
<text x="147.1" y="32.9" font-size="7.3" fill="#000" font-weight="bold" text-anchor="middle" stroke="#000" stroke-width="0.28" >11.1</text>
<text x="165.8" y="32.9" font-size="7.3" fill="#000" font-weight="bold" text-anchor="middle" stroke="#000" stroke-width="0.28" >10.8</text>
<text x="184.3" y="32.9" font-size="7.3" fill="#000" font-weight="bold" text-anchor="middle" stroke="#000" stroke-width="0.28" >10.5</text>
<text x="202.9" y="32.9" font-size="7.3" fill="#000" font-weight="bold" text-anchor="middle" stroke="#000" stroke-width="0.28" >10.2</text>
<text x="221.75" y="32.9" font-size="7.3" fill="#000" font-weight="bold" text-anchor="middle" stroke="#000" stroke-width="0.28" >9.9</text>
<text x="240.45" y="32.9" font-size="7.3" fill="#000" font-weight="bold" text-anchor="middle" stroke="#000" stroke-width="0.28" >9.6</text>
<text x="258.95" y="32.9" font-size="7.3" fill="#000" font-weight="bold" text-anchor="middle" stroke="#000" stroke-width="0.28" >9.3</text>
<text x="277.54999999999995" y="32.9" font-size="7.3" fill="#000" font-weight="bold" text-anchor="middle" stroke="#000" stroke-width="0.28" >9.0</text>
<text x="296.35" y="32.9" font-size="7.3" fill="#000" font-weight="bold" text-anchor="middle" stroke="#000" stroke-width="0.28" >8.7</text>
<text x="315.20000000000005" y="32.9" font-size="7.3" fill="#000" font-weight="bold" text-anchor="middle" stroke="#000" stroke-width="0.28" >8.4</text>
<text x="333.85" y="32.9" font-size="7.3" fill="#000" font-weight="bold" text-anchor="middle" stroke="#000" stroke-width="0.28" >8.1</text>
<text x="352.5" y="32.9" font-size="7.3" fill="#000" font-weight="bold" text-anchor="middle" stroke="#000" stroke-width="0.28" >7.8</text>
<text x="371.15" y="32.9" font-size="7.3" fill="#000" font-weight="bold" text-anchor="middle" stroke="#000" stroke-width="0.28" >7.5</text>
<text x="389.85" y="32.9" font-size="7.3" fill="#000" font-weight="bold" text-anchor="middle" stroke="#000" stroke-width="0.28" >7.2</text>
<text x="408.55" y="32.9" font-size="7.3" fill="#000" font-weight="bold" text-anchor="middle" stroke="#000" stroke-width="0.28" >6.9</text>
<text x="427.15" y="32.9" font-size="7.3" fill="#000" font-weight="bold" text-anchor="middle" stroke="#000" stroke-width="0.28" >6.6</text>
<text x="445.8" y="32.9" font-size="7.3" fill="#000" font-weight="bold" text-anchor="middle" stroke="#000" stroke-width="0.28" >6.3</text>
<text x="464.45000000000005" y="32.9" font-size="7.3" fill="#000" font-weight="bold" text-anchor="middle" stroke="#000" stroke-width="0.28" >6.0</text>
<text x="475.8" y="32.9" font-size="7.3" fill="#000" font-weight="bold" text-anchor="start" stroke="#000" stroke-width="0.28" >0.5</text>
<line x1="60.8" y1="64.1" x2="49.779908482366146" y2="56.489001541778066" stroke="#3ea6d4" stroke-width="0.9" />
<polygon points="46.90,54.50 51.33,55.13 49.05,58.42" fill="#3ea6d4"/>
<line x1="81" y1="64.4" x2="69.29682353493233" y2="56.46428445176919" stroke="#3ea6d4" stroke-width="0.9" />
<polygon points="66.40,54.50 70.83,55.09 68.59,58.40" fill="#3ea6d4"/>
<line x1="59.4" y1="111" x2="49.02900562593625" y2="104.21596608613874" stroke="#3ea6d4" stroke-width="0.9" />
<polygon points="46.10,102.30 50.54,102.82 48.35,106.16" fill="#3ea6d4"/>
<line x1="77.8" y1="111.3" x2="66.3401378221907" y2="103.89883901016482" stroke="#3ea6d4" stroke-width="0.9" />
<polygon points="63.40,102.00 67.85,102.49 65.68,105.85" fill="#3ea6d4"/>
<rect x="343.7" y="55.8" width="18.8" height="39" fill="#f9c9a0" fill-opacity="0.45" stroke="#f3a35a" stroke-width="1"/>
<rect x="88.9" y="70.5" width="92" height="81.8" rx="1" fill="#fff" stroke="#55b4da" stroke-width="1.4"/>
<text x="99.8" y="80.9" font-size="7.4" fill="#000" font-weight="bold" text-anchor="start" stroke="#000" stroke-width="0.28" >11 pN</text>
<line x1="114.1" y1="133.5" x2="114.1" y2="104.8" stroke="#c4c4c4" stroke-width="0.6" />
<line x1="156.9" y1="101.5" x2="156.9" y2="74" stroke="#c4c4c4" stroke-width="0.6" />
<polyline points="106.7,135.5 107.2,134.8 107.6,133.9 108.1,135.5 108.5,134.6 109.0,134.4 109.4,135.2 109.9,134.7 110.3,133.9 110.8,134.6 111.2,133.8 111.7,135.5 112.1,133.6 112.6,135.5 113.0,133.2 113.5,133.0 113.9,134.4" fill="none" stroke="#5a5a5a" stroke-width="0.6"/>
<polyline points="114.3,103.2 114.8,104.0 115.2,102.9 115.7,104.8 116.1,104.3 116.6,104.3 117.0,104.9 117.5,105.0 117.9,104.2 118.4,104.2 118.8,102.4 119.3,102.5 119.7,103.4 120.2,104.8 120.6,103.0 121.1,103.7 121.5,102.2 122.0,103.2 122.4,104.4 122.9,103.6 123.3,104.2 123.8,102.0 124.2,102.5 124.7,102.4 125.1,104.1 125.6,102.1 126.0,104.2 126.5,102.5 126.9,104.0 127.4,103.1 127.8,102.5 128.3,104.2 128.7,102.7 129.2,103.4 129.6,101.7 130.1,103.7 130.5,104.0 131.0,101.7 131.4,103.4 131.8,102.1 132.3,101.7 132.7,102.3 133.2,103.0 133.6,103.7 134.1,103.8 134.5,103.8 135.0,102.8 135.4,102.8 135.9,101.5 136.3,102.9 136.8,102.4 137.2,101.9 137.7,103.3 138.1,101.6 138.6,101.2 139.0,101.2 139.5,101.2 139.9,102.3 140.4,102.8 140.8,101.1 141.3,102.0 141.7,102.1 142.2,102.1 142.6,101.6 143.1,101.9 143.5,100.5 144.0,100.6 144.4,101.5 144.9,101.0 145.3,102.3 145.8,101.0 146.2,102.4 146.7,100.9 147.1,100.5 147.6,101.4 148.0,101.2 148.5,101.0 148.9,102.1 149.4,100.6 149.8,101.8 150.3,102.2 150.7,101.1 151.2,101.2 151.6,102.3 152.1,101.4 152.5,100.3 153.0,100.0 153.4,100.0 153.9,100.6 154.3,99.9 154.8,101.3 155.2,100.7 155.7,100.4 156.1,100.9 156.6,102.0" fill="none" stroke="#5a5a5a" stroke-width="0.6"/>
<polyline points="157.0,72.1 157.4,71.9 157.9,72.3 158.3,72.3 158.8,73.9 159.2,73.3 159.7,72.6 160.1,71.9 160.6,71.6 161.0,71.8 161.5,73.7 161.9,73.2 162.4,71.9 162.8,73.1 163.3,71.7 163.7,72.8 164.2,72.4 164.6,71.8 165.1,73.4 165.5,73.4 166.0,72.8 166.4,71.9 166.9,73.2 167.3,72.6 167.8,73.2 168.2,71.7 168.7,73.8 169.1,71.5 169.6,72.1 170.0,72.5 170.5,72.0 170.9,71.7 171.4,73.3 171.8,74.1 172.3,72.4 172.7,72.2 173.2,73.2 173.6,72.1 174.1,72.5 174.5,73.3" fill="none" stroke="#5a5a5a" stroke-width="0.6"/>
<line x1="134.2" y1="124" x2="119.34371844358247" y2="113.34040814878516" stroke="#3ea6d4" stroke-width="0.9" />
<polygon points="116.50,111.30 120.92,112.01 118.58,115.26" fill="#3ea6d4"/>
<line x1="180.5" y1="98.5" x2="163.7076266701472" y2="87.24825746426104" stroke="#3ea6d4" stroke-width="0.9" />
<polygon points="160.80,85.30 165.24,85.87 163.01,89.19" fill="#3ea6d4"/>
<text x="149.6" y="132.2" font-size="8.2" fill="#3ea6d4" font-weight="normal" text-anchor="middle" textLength="39.4" lengthAdjust="spacingAndGlyphs" stroke="#3ea6d4" stroke-width="0.2" >A2 domains</text>
<text x="149.5" y="141.8" font-size="8.2" fill="#3ea6d4" font-weight="normal" text-anchor="middle" textLength="30.5" lengthAdjust="spacingAndGlyphs" stroke="#3ea6d4" stroke-width="0.2" >unfolding</text>
<path d="M100.7,127.6 V139.8 H115.5" fill="none" stroke="#000" stroke-width="1.2"/>
<text transform="translate(99.2,130.5) rotate(-90)" font-size="8.2" fill="#000" text-anchor="middle" textLength="20.6" lengthAdjust="spacingAndGlyphs">20 nm</text>
<text x="109.7" y="147.6" font-size="8.4" fill="#000" font-weight="normal" text-anchor="middle" textLength="14.4" lengthAdjust="spacingAndGlyphs" stroke="#000" stroke-width="0.2" >10 s</text>
<rect x="88.9" y="159" width="376.6" height="80.2" rx="1" fill="#fff" stroke="#f5a843" stroke-width="1.5"/>
<text x="95.4" y="167.8" font-size="7.4" fill="#000" font-weight="bold" text-anchor="start" stroke="#000" stroke-width="0.28" >7.8 pN</text>
<line x1="102.7" y1="182.3" x2="451.5" y2="182.3" stroke="#444" stroke-width="0.6" stroke-dasharray="1.4,1.5"/>
<line x1="102.7" y1="196.9" x2="451.5" y2="196.9" stroke="#444" stroke-width="0.6" stroke-dasharray="1.4,1.5"/>
<line x1="102.7" y1="211.2" x2="451.5" y2="211.2" stroke="#444" stroke-width="0.6" stroke-dasharray="1.4,1.5"/>
<path d="M104.8,173.9V191.6M105.1,170.3V189.0M105.4,170.6V188.2M105.7,173.1V186.2M106.0,176.8V188.4M106.3,175.1V192.1M106.6,173.2V191.3M106.9,175.0V188.8M107.2,176.9V190.2M107.5,175.7V190.5M107.8,183.8V196.0M108.0,181.1V197.6M108.3,182.9V197.5M108.6,187.3V207.2M108.9,204.7V218.8M109.2,189.7V203.3M109.5,191.8V206.0M109.8,188.9V206.0M110.1,186.7V205.8M110.4,188.5V204.8M110.7,189.0V203.2M111.0,188.8V205.7M111.3,185.7V204.3M111.6,189.6V203.7M111.9,187.8V202.1M112.2,188.4V200.6M112.5,184.2V200.2M112.5,178.2V195.2M112.8,180.6V195.8M113.1,175.2V188.0M113.4,174.0V188.6M113.7,177.6V190.2M114.0,177.1V190.4M114.3,175.7V191.6M114.6,192.2V207.6M114.9,174.8V191.1M115.2,177.6V191.7M115.5,176.8V193.5M115.8,172.5V184.8M116.1,177.2V189.5M116.4,173.5V191.6M116.7,175.2V190.4M117.0,172.4V187.5M117.3,175.4V193.3M117.6,177.8V190.5M117.9,181.1V195.4M118.0,181.9V200.0M118.3,184.8V200.2M118.6,189.1V202.4M118.9,189.6V206.0M119.2,187.2V203.1M119.5,190.4V206.7M119.8,191.2V202.1M120.1,189.4V204.0M120.4,187.8V204.3M120.7,190.6V205.9M121.0,188.2V203.4M121.3,190.5V207.1M121.6,191.0V204.9M121.9,186.8V202.6M122.2,192.2V205.8M122.5,191.9V207.5M122.8,193.3V207.5M123.1,192.3V206.0M123.4,188.2V204.6M123.7,190.0V202.2M124.0,188.9V201.1M124.3,187.8V203.9M124.6,193.5V205.4M124.9,195.8V208.5M125.0,200.0V213.0M125.3,200.0V212.6M125.6,204.6V217.0M125.9,203.1V219.3M126.2,204.0V220.1M126.5,205.5V217.6M126.8,201.6V216.2M127.1,205.6V217.1M127.4,200.4V217.8M127.7,205.6V220.6M128.0,200.9V218.6M128.3,201.2V218.3M128.6,205.7V220.2M128.9,204.8V220.9M129.2,207.0V218.8M129.5,205.7V220.8M129.8,201.8V216.9M130.1,204.6V218.9M130.4,205.3V219.3M130.7,202.9V220.1M131.0,203.4V219.4M131.3,205.6V218.5M131.6,203.9V219.9M131.9,203.6V218.7M132.2,206.5V217.0M132.5,203.9V215.2M132.8,200.9V219.2M133.1,203.8V218.8M133.4,205.9V220.1M133.7,200.5V216.9M134.0,202.5V218.6M134.3,204.1V218.0M134.6,204.1V218.6M134.9,204.4V219.6M135.2,204.9V220.3M135.5,203.9V219.0M135.8,205.0V217.3M136.1,203.2V219.4M136.4,203.5V217.0M136.7,206.5V221.4M137.0,204.5V219.5M137.3,204.3V220.2M137.6,206.3V223.3M137.9,206.2V223.2M138.2,205.5V220.8M138.5,201.8V217.8M138.8,200.2V216.1M139.1,199.9V216.9M139.4,202.1V219.7M139.7,202.2V220.3M140.0,202.0V219.5M140.3,205.0V219.9M140.6,203.2V216.3M140.9,202.5V218.2M141.2,201.2V219.1M141.5,202.5V221.6M141.8,202.2V217.1M142.1,186.9V201.8M142.4,204.5V218.8M142.7,203.6V219.2M143.0,204.0V216.7M143.3,201.2V219.4M143.6,204.2V219.7M143.9,201.6V216.3M144.2,198.8V217.6M144.5,205.1V220.2M144.8,201.3V220.5M145.1,205.4V219.1M145.4,205.0V218.9M145.7,205.0V217.9M146.0,204.9V222.3M146.3,201.2V217.2M146.6,202.4V216.5M146.9,201.2V218.7M147.2,200.2V215.3M147.5,202.5V217.1M147.8,200.2V218.9M148.1,205.8V220.7M148.4,203.1V213.9M148.7,202.4V219.0M149.0,202.3V214.6M149.3,204.6V222.0M149.6,205.6V221.3M149.9,206.2V221.1M150.2,202.0V219.6M150.5,174.4V190.4M150.8,207.8V223.2M151.1,201.4V218.2M151.4,202.8V219.0M151.7,205.7V220.5M152.0,207.1V220.0M152.3,186.1V198.0M152.6,205.5V219.5M152.9,203.7V218.8M153.2,204.4V219.6M153.5,200.2V218.6M153.8,202.5V216.5M154.1,204.5V216.8M154.4,203.8V219.0M154.7,205.3V223.2M155.0,202.0V217.9M155.3,201.3V215.9M155.6,201.3V216.2M155.9,197.1V211.7M156.0,195.3V208.5M156.3,189.5V204.7M156.6,191.1V204.7M156.9,185.8V199.5M157.2,190.0V203.3M157.5,192.1V204.3M157.8,187.1V201.2M158.1,190.1V202.1M158.4,188.3V205.8M158.7,191.4V202.4M159.0,188.9V204.8M159.3,187.2V201.7M159.6,188.3V206.3M159.9,192.2V203.7M160.2,189.9V205.5M160.5,189.1V205.8M160.8,190.0V206.0M161.1,186.9V203.8M161.4,189.3V203.1M161.7,189.4V204.5M162.0,189.3V205.0M162.3,188.9V206.3M162.6,187.2V202.7M162.9,190.3V206.1M163.2,189.8V207.0M163.5,187.3V206.4M163.8,185.8V205.1M164.1,188.8V203.0M164.4,190.7V205.6M164.7,189.1V204.8M165.0,192.9V206.1M165.3,188.0V207.7M165.6,190.7V204.4M165.9,188.0V207.0M166.2,188.5V205.2M166.5,186.0V204.2M166.8,185.8V200.9M167.1,190.5V205.4M167.4,189.9V203.2M167.7,190.1V205.0M168.0,190.0V205.7M168.3,190.2V202.6M168.6,188.6V206.2M168.9,187.6V205.5M169.2,193.2V204.4M169.5,187.2V203.0M169.8,186.8V203.0M170.1,191.4V207.2M170.4,188.0V202.4M170.7,190.1V205.5M171.0,190.0V203.8M171.3,190.3V205.5M171.6,192.4V204.7M171.9,190.3V206.4M172.2,188.2V205.2M172.5,190.5V204.7M172.8,189.0V207.1M173.1,189.9V205.8M173.4,188.3V202.1M173.7,191.1V209.5M174.0,187.2V204.9M174.3,189.8V205.9M174.6,191.8V205.6M174.9,189.5V203.4M175.2,188.0V204.5M175.5,189.7V207.6M175.8,189.8V201.5M176.1,188.3V207.2M176.4,191.3V204.1M176.7,193.0V208.2M177.0,199.3V214.9M177.3,202.5V217.2M177.6,201.8V216.7M177.9,199.5V214.9M178.2,206.7V217.7M178.5,202.0V217.4M178.8,205.2V222.7M179.1,203.6V216.0M179.4,202.6V216.8M179.7,203.9V218.8M180.0,205.4V219.5M180.3,201.1V218.7M180.6,206.8V217.9M180.9,200.6V213.9M181.2,205.0V218.4M181.5,202.6V218.6M181.8,199.3V215.1M182.1,205.0V219.4M182.4,203.1V218.4M182.7,203.5V219.2M183.0,201.8V216.6M183.3,204.4V219.3M183.6,203.1V221.4M183.9,201.3V216.1M184.2,202.0V218.5M184.5,199.9V215.8M184.8,197.7V215.7M185.0,189.2V201.6M185.3,192.4V203.1M185.6,177.6V192.7M185.9,192.9V205.9M186.2,191.3V205.3M186.5,189.8V205.5M186.8,191.1V205.9M187.1,191.8V205.5M187.4,188.8V206.2M187.7,190.6V205.3M188.0,187.9V204.5M188.3,189.1V204.5M188.6,190.8V204.3M188.9,191.2V203.1M189.2,195.5V209.4M189.5,189.5V203.3M189.8,191.7V204.4M190.1,189.8V204.9M190.4,190.9V202.6M190.7,190.7V202.8M191.0,192.2V205.8M191.3,190.9V209.4M191.6,190.5V204.0M191.9,187.7V202.7M192.2,188.9V203.1M192.5,186.5V204.6M192.8,191.3V204.9M193.1,187.7V204.5M193.4,189.8V202.8M193.7,191.8V203.6M194.0,187.9V203.5M194.3,188.1V203.4M194.6,190.2V203.6M194.9,188.6V206.3M195.2,186.9V202.2M195.5,190.2V204.9M195.8,188.1V206.2M196.1,185.7V204.7M196.4,191.6V206.4M196.7,188.7V204.9M197.0,190.8V203.3M197.3,189.2V204.5M197.6,186.6V203.0M197.9,186.8V201.3M198.2,187.5V202.9M198.5,189.1V206.9M198.8,191.3V203.4M199.1,189.9V206.3M199.4,187.6V205.1M199.7,186.9V206.2M200.0,189.5V202.9M200.3,189.6V204.0M200.6,188.6V200.9M200.9,185.2V203.3M201.2,177.0V189.2M201.5,189.4V204.6M201.8,190.8V205.4M202.1,188.6V203.1M202.4,190.3V206.0M202.7,189.9V204.8M203.0,188.6V204.3M203.3,192.1V206.8M203.6,188.5V202.2M203.9,187.6V199.9M204.2,191.4V204.5M204.5,192.4V205.9M204.8,190.3V206.0M205.1,189.5V206.1M205.4,188.8V203.4M205.7,188.5V204.3M206.0,188.5V205.8M206.3,189.0V202.9M206.6,188.1V205.5M206.9,189.2V203.6M207.2,186.5V201.9M207.5,187.4V201.6M207.8,190.1V207.0M208.1,190.9V205.6M208.4,189.2V206.5M208.7,186.0V202.9M209.0,187.3V204.8M209.3,189.3V202.4M209.6,190.0V204.6M209.9,188.1V207.1M210.2,186.1V205.8M210.5,190.5V203.9M210.8,188.4V201.8M211.1,191.0V205.3M211.4,189.2V203.0M211.7,187.4V201.3M212.0,191.4V209.2M212.3,188.2V207.3M212.6,191.6V202.6M212.9,191.1V204.7M213.2,189.7V204.3M213.5,192.7V206.1M213.8,190.6V203.9M214.1,190.1V204.7M214.4,188.3V205.4M214.7,181.7V199.9M215.0,181.3V194.5M215.3,173.4V188.1M215.6,171.9V188.0M215.9,173.8V189.4M216.2,171.7V187.1M216.5,173.4V189.5M216.8,175.6V187.9M217.1,173.6V189.9M217.4,180.3V197.3M217.7,178.8V196.4M218.0,181.7V198.6M218.3,187.1V204.0M218.6,189.9V203.3M218.9,186.6V202.6M219.2,185.0V200.7M219.5,202.0V218.6M219.8,190.3V201.6M220.1,187.4V200.4M220.4,187.3V203.1M220.7,192.9V208.9M221.0,189.5V204.9M221.3,190.2V203.0M221.6,190.0V207.6M221.9,189.9V202.4M222.2,190.4V202.6M222.5,190.5V206.5M222.8,192.4V204.5M223.1,186.7V204.6M223.4,190.0V202.2M223.7,190.2V204.4M224.0,189.3V203.2M224.3,189.0V206.0M224.6,195.0V209.5M224.9,196.2V210.9M225.0,195.4V214.7M225.3,204.0V216.1M225.6,203.0V219.1M225.9,205.1V218.5M226.2,207.8V222.4M226.5,201.1V216.0M226.8,206.2V221.2M227.1,207.5V219.1M227.4,206.4V221.6M227.7,203.0V216.4M228.0,202.5V220.0M228.3,205.5V220.8M228.6,203.8V218.4M228.9,202.1V218.1M229.2,204.7V221.0M229.5,207.8V219.9M229.8,204.9V219.3M230.1,207.6V221.5M230.4,201.6V220.8M230.7,201.1V217.2M231.0,201.9V219.3M231.3,203.6V217.5M231.6,203.7V218.0M231.9,204.2V221.0M232.2,202.4V219.1M232.5,204.4V219.3M232.8,201.4V218.9M233.1,204.0V218.6M233.4,204.4V218.8M233.7,207.3V221.6M234.0,202.6V218.0M234.3,202.9V218.0M234.6,206.4V219.9M234.9,202.9V216.9M235.2,202.5V218.2M235.5,202.8V217.7M235.8,201.5V217.6M236.1,201.0V217.5M236.4,202.1V218.6M236.7,205.4V218.6M237.0,204.5V217.3M237.3,200.9V220.2M237.6,198.3V212.7M237.9,173.8V189.0M238.0,193.0V208.2M238.3,194.6V211.4M238.6,188.4V207.1M238.9,191.0V207.5M239.2,193.5V208.5M239.5,190.8V202.6M239.8,193.2V203.7M240.1,190.9V207.0M240.4,190.7V206.0M240.7,190.2V201.8M241.0,188.7V205.7M241.3,186.6V203.9M241.6,190.5V202.9M241.9,192.4V204.6M242.2,190.6V204.1M242.5,187.8V204.2M242.8,190.4V202.9M243.1,188.1V201.7M243.4,187.0V202.1M243.7,189.0V203.5M244.0,191.4V209.3M244.3,191.9V207.0M244.6,189.5V203.0M244.9,187.9V206.1M245.2,188.6V202.9M245.5,190.9V205.8M245.8,188.6V203.8M246.1,188.6V202.8M246.4,185.6V204.0M246.7,190.6V206.5M247.0,190.6V201.6M247.3,188.0V204.5M247.6,188.6V204.1M247.9,191.9V203.6M248.2,189.6V204.6M248.5,188.8V206.4M248.8,191.1V204.7M249.1,193.4V205.3M249.4,186.6V201.6M249.7,191.3V206.2M250.0,204.7V220.9M250.3,189.3V204.0M250.6,191.4V205.9M250.9,189.0V204.8M251.2,189.6V202.7M251.5,186.7V205.8M251.8,190.4V204.7M252.1,187.3V203.0M252.4,188.2V202.2M252.7,191.0V203.2M253.0,189.6V205.1M253.3,187.4V204.3M253.6,192.0V205.2M253.9,190.5V206.3M254.2,189.3V207.3M254.5,189.0V205.6M254.8,188.0V201.3M255.1,188.7V200.4M255.4,189.1V202.1M255.7,191.2V201.9M256.0,190.9V205.5M256.3,187.5V202.8M256.6,185.5V205.1M256.9,192.5V206.6M257.2,188.0V206.1M257.5,191.4V201.7M257.8,191.0V207.5M258.1,188.8V203.8M258.4,190.8V206.1M258.7,188.6V206.3M259.0,190.5V202.2M259.3,188.9V202.2M259.6,190.6V206.4M259.9,190.7V207.0M260.2,186.7V205.4M260.5,189.2V203.6M260.8,193.3V209.8M261.1,188.8V205.5M261.4,189.7V204.3M261.7,188.1V204.0M262.0,186.3V203.7M262.3,191.3V202.6M262.6,188.8V204.6M262.9,189.7V205.5M263.2,187.7V201.1M263.5,193.2V204.6M263.8,186.7V200.6M264.1,190.1V203.7M264.4,191.6V205.0M264.7,191.2V205.4M265.0,188.7V203.0M265.3,191.1V206.3M265.6,190.4V205.7M265.9,188.5V205.0M266.2,188.2V205.4M266.5,190.6V203.3M266.8,190.0V205.8M267.1,184.3V200.9M267.4,191.0V203.2M267.7,188.9V204.6M268.0,191.6V206.6M268.3,190.7V205.6M268.6,193.6V204.6M268.9,190.9V202.9M269.2,190.9V205.4M269.5,191.3V205.4M269.8,189.9V206.1M270.1,191.3V202.7M270.4,190.7V207.5M270.7,188.0V203.4M271.0,188.4V204.9M271.3,190.2V203.6M271.6,187.1V205.7M271.9,190.5V206.3M272.2,189.2V204.0M272.5,192.4V204.6M272.8,183.5V198.4M273.1,188.0V200.9M273.4,189.1V203.4M273.7,191.3V203.6M274.0,190.4V200.8M274.3,191.4V205.7M274.6,190.1V201.2M274.9,187.7V203.0M275.2,191.2V203.0M275.5,191.5V209.7M275.8,193.6V206.9M276.1,190.8V207.6M276.4,191.2V206.2M276.7,189.9V202.9M277.0,188.3V207.3M277.3,191.6V202.5M277.6,192.5V208.7M277.9,191.8V206.6M278.0,196.7V214.2M278.3,199.6V216.4M278.6,204.6V220.6M278.9,200.7V219.0M279.2,203.0V215.1M279.5,205.0V218.4M279.8,201.7V220.0M280.1,203.9V221.1M280.4,206.1V221.5M280.7,205.0V219.2M281.0,204.8V220.2M281.3,203.9V218.5M281.6,203.9V218.8M281.9,200.3V215.4M282.0,196.8V214.0M282.3,188.4V203.6M282.6,191.7V203.8M282.9,191.5V204.1M283.2,192.8V206.8M283.5,190.3V205.4M283.8,192.9V212.4M284.0,197.5V213.1M284.3,197.9V211.6M284.6,206.0V220.3M284.9,199.1V216.7M285.2,205.2V219.6M285.5,204.6V217.4M285.8,204.3V220.3M286.1,203.0V217.5M286.4,201.9V218.1M286.7,204.0V217.7M287.0,203.2V220.9M287.3,203.4V219.3M287.6,204.8V219.9M287.9,204.2V216.7M288.2,205.8V220.1M288.5,203.0V216.2M288.8,204.5V219.8M289.1,206.6V221.9M289.4,203.6V217.0M289.7,206.3V219.0M290.0,202.0V217.1M290.3,201.8V217.6M290.6,200.2V216.2M290.9,205.2V219.6M291.2,202.4V214.7M291.5,200.8V216.1M291.8,205.7V218.6M292.1,205.0V218.3M292.4,199.6V214.8M292.7,200.8V214.0M293.0,194.2V209.1M293.3,191.3V207.0M293.6,191.3V207.5M293.9,189.9V204.9M294.2,187.8V203.2M294.5,186.7V202.1M294.8,186.7V203.5M295.1,203.5V218.5M295.4,186.1V202.0M295.7,189.2V207.9M296.0,188.3V207.0M296.3,186.6V205.6M296.6,192.9V206.2M296.9,186.7V204.4M297.2,188.7V203.9M297.5,191.5V205.6M297.8,191.7V203.2M298.1,189.3V203.4M298.4,188.7V204.8M298.7,191.9V205.2M299.0,202.7V220.1M299.3,186.4V201.5M299.6,177.3V190.8M299.9,190.8V205.1M300.2,190.9V204.9M300.5,191.6V202.9M300.8,188.8V202.2M301.1,188.1V204.7M301.4,188.6V203.0M301.7,186.7V201.3M302.0,188.5V205.5M302.3,190.9V205.0M302.6,191.8V204.4M302.9,190.0V205.9M303.2,192.6V206.7M303.5,189.0V204.7M303.8,190.2V202.9M304.1,191.2V201.4M304.4,187.6V202.0M304.7,188.6V206.0M305.0,189.0V206.9M305.3,188.1V205.9M305.6,189.7V205.3M305.9,188.1V199.3M306.2,188.6V205.2M306.5,187.2V202.7M306.8,187.3V204.4M307.1,186.8V206.2M307.4,188.9V203.9M307.7,193.0V206.4M308.0,187.8V204.9M308.3,187.7V204.1M308.6,191.0V202.5M308.9,191.8V206.1M309.2,190.6V205.9M309.5,186.3V204.2M309.8,187.5V202.7M310.1,187.8V202.2M310.4,189.6V201.4M310.7,188.2V200.9M311.0,189.5V201.4M311.3,189.7V202.8M311.6,190.0V203.5M311.9,190.8V207.6M312.2,191.3V204.0M312.5,191.2V206.8M312.8,189.8V204.5M313.1,178.4V194.4M313.4,188.0V202.9M313.7,188.7V203.7M314.0,191.1V206.3M314.3,189.4V201.4M314.6,188.0V203.2M314.9,188.2V203.7M315.2,190.4V204.3M315.5,188.2V203.6M315.8,190.2V205.0M316.1,190.0V206.0M316.4,192.4V206.2M316.7,188.8V205.8M317.0,188.1V204.7M317.3,190.4V202.9M317.6,187.3V197.7M317.9,187.2V202.3M318.0,181.6V199.5M318.3,182.7V198.3M318.6,177.0V191.9M318.9,177.4V192.7M319.2,205.0V219.5M319.5,178.0V193.4M319.8,178.5V193.4M320.1,180.2V191.1M320.4,179.3V193.0M320.7,175.3V190.3M321.0,180.0V192.2M321.3,176.9V192.6M321.6,182.1V194.2M321.9,175.8V191.2M322.2,174.4V188.2M322.5,178.8V191.7M322.8,179.1V193.7M323.1,178.0V191.9M323.4,179.7V192.0M323.7,177.6V195.6M324.0,177.7V192.2M324.3,175.0V192.1M324.6,180.3V192.9M324.9,176.7V194.5M325.2,174.1V190.2M325.5,177.4V195.1M325.8,178.6V193.9M326.1,179.3V192.9M326.4,177.8V192.3M326.7,176.8V192.0M327.0,202.1V219.7M327.3,178.6V194.0M327.6,179.7V190.8M327.9,177.9V190.6M328.2,178.6V193.5M328.5,180.5V194.4M328.8,179.4V190.8M329.1,176.0V188.2M329.4,177.4V192.5M329.7,176.6V193.4M330.0,178.2V196.1M330.3,178.0V195.4M330.6,174.2V190.5M330.9,180.1V192.3M331.2,177.3V192.6M331.5,176.8V190.2M331.8,179.9V192.9M332.1,176.1V194.7M332.4,179.1V193.3M332.7,176.9V196.0M333.0,177.5V195.2M333.3,175.2V189.1M333.6,178.6V191.8M333.9,180.5V193.5M334.2,174.7V194.0M334.5,178.6V196.5M334.8,186.6V201.7M335.0,181.1V198.2M335.3,183.4V198.5M335.6,186.9V202.0M335.9,194.3V208.0M336.2,187.4V201.0M336.5,190.0V205.1M336.8,189.5V207.0M337.1,190.7V203.2M337.4,193.1V204.6M337.7,190.6V205.7M338.0,187.9V207.1M338.3,190.7V207.4M338.6,190.7V207.1M338.9,188.2V203.7M339.2,187.4V204.1M339.5,189.7V203.2M339.8,190.6V208.0M340.1,189.1V200.6M340.4,188.3V206.1M340.7,188.5V203.4M341.0,190.3V204.9M341.3,187.8V207.4M341.6,189.5V201.9M341.9,189.3V203.9M342.2,190.5V203.9M342.5,190.0V204.8M342.8,187.9V204.8M343.1,187.5V201.5M343.4,185.6V201.1M343.7,189.6V208.8M344.0,187.9V204.6M344.3,191.1V206.6M344.6,189.9V203.0M344.9,189.6V203.0M345.2,191.7V207.0M345.5,192.3V203.6M345.8,187.5V200.7M346.1,190.5V204.7M346.4,190.1V206.5M346.7,191.3V206.0M347.0,192.5V204.7M347.3,193.2V207.3M347.6,191.0V204.2M347.9,188.2V202.5M348.2,190.2V205.2M348.5,191.6V205.7M348.8,190.1V203.5M349.1,189.9V201.5M349.4,188.8V202.3M349.7,187.3V204.7M350.0,189.3V201.0M350.3,184.3V199.5M350.6,187.1V205.4M350.9,191.4V206.6M351.2,185.4V204.3M351.5,188.7V205.8M351.8,186.9V205.0M352.1,186.3V202.8M352.4,195.3V206.7M352.7,197.3V212.2M353.0,197.7V213.8M353.3,198.7V216.0M353.6,199.1V214.3M353.9,202.2V217.3M354.2,205.5V219.5M354.5,204.5V219.6M354.8,201.3V217.0M355.1,205.4V221.9M355.4,200.4V216.2M355.7,200.3V217.3M356.0,197.8V212.6M356.3,190.9V205.2M356.6,188.7V204.9M356.9,187.2V203.7M357.2,186.3V204.0M357.5,189.4V205.4M357.8,190.5V205.3M358.1,201.5V213.3M358.4,201.3V217.2M358.7,190.3V206.1M359.0,192.4V205.4M359.3,192.4V205.1M359.6,184.6V201.9M359.9,186.2V201.4M360.0,180.1V193.7M360.3,174.8V192.5M360.6,175.9V189.3M360.9,175.5V189.6M361.2,175.3V190.0M361.5,175.2V187.5M361.8,173.2V189.5M362.1,174.3V187.9M362.4,176.4V191.2M362.7,173.4V185.4M363.0,174.2V187.7M363.3,172.3V186.7M363.6,173.1V187.7M363.9,170.9V186.6M364.2,176.1V189.8M364.5,175.6V187.2M364.8,172.4V187.4M365.1,175.8V190.1M365.4,174.6V194.5M365.7,177.8V190.4M366.0,171.8V190.5M366.3,174.6V188.2M366.6,173.3V192.7M366.9,172.1V191.1M367.2,190.0V202.1M367.5,179.7V190.9M367.8,170.2V188.5M368.1,176.8V192.1M368.4,171.2V186.8M368.7,172.8V188.1M369.0,173.5V191.3M369.3,177.2V191.6M369.6,175.7V189.8M369.9,174.6V189.7M370.2,174.5V191.2M370.5,175.5V190.4M370.8,173.9V188.8M371.1,173.4V190.3M371.4,172.5V191.1M371.7,172.4V190.8M372.0,171.7V188.5M372.3,173.7V186.9M372.6,174.5V187.0M372.9,175.1V188.6M373.2,173.5V189.9M373.5,174.4V191.3M373.8,174.1V190.8M374.1,173.6V192.0M374.4,171.2V186.7M374.7,174.6V187.2M375.0,175.2V188.8M375.3,173.4V191.6M375.6,177.0V193.7M375.9,179.1V195.7M376.0,183.7V199.3M376.3,188.9V200.0M376.6,192.7V203.0M376.9,188.8V206.2M377.2,190.2V206.4M377.5,190.1V207.2M377.8,189.8V204.4M378.1,188.7V202.2M378.4,188.9V207.0M378.7,196.1V212.6M379.0,199.1V217.1M379.3,201.6V218.3M379.6,203.6V218.3M379.9,205.4V217.1M380.2,203.0V219.0M380.5,206.6V218.3M380.8,202.2V220.4M381.1,204.0V218.0M381.4,196.6V213.5M381.7,194.8V207.5M382.0,187.8V199.5M382.3,178.5V195.9M382.6,175.0V190.5M382.9,174.9V188.0M383.2,173.7V189.2M383.5,174.0V187.0M383.8,173.4V189.1M384.1,176.0V188.9M384.4,175.7V192.4M384.7,172.9V190.8M385.0,175.5V193.8M385.3,176.9V193.4M385.6,182.9V199.0M385.9,190.1V204.5M386.0,190.0V205.6M386.3,197.4V212.1M386.6,204.4V216.5M386.9,206.2V222.8M387.2,204.7V216.3M387.5,203.4V217.4M387.8,196.2V211.8M388.0,194.5V211.2M388.3,192.0V206.3M388.6,191.4V205.8M388.9,189.5V204.7M389.2,187.8V205.1M389.5,191.7V204.8M389.8,190.7V204.8M390.1,188.9V204.4M390.4,186.1V199.3M390.7,184.7V201.2M391.0,190.2V202.0M391.3,191.5V203.2" stroke="#d0d3d7" stroke-width="0.5" fill="none"/>
<path d="M106.6,183.2V173.6M107.2,182.9V191.7M108.0,190.4V198.3M108.3,191.3V200.6M108.6,197.2V182.6M108.9,210.2V197.4M109.5,197.0V186.4M110.4,198.1V208.7M110.7,196.8V182.7M111.0,195.9V211.3M111.6,195.4V207.5M112.5,192.7V179.2M112.5,185.9V179.0M113.4,181.7V172.4M114.0,182.9V165.2M114.9,183.9V200.3M115.8,179.2V166.4M117.3,183.8V199.7M117.6,183.5V176.7M117.9,187.6V202.3M118.6,194.8V207.6M121.0,197.5V183.6M121.6,198.0V191.0M122.2,198.0V214.2M122.8,199.5V192.8M124.0,195.5V203.2M124.3,196.5V202.9M124.6,199.7V183.1M126.8,210.7V222.0M127.1,210.7V200.8M127.7,211.2V228.2M128.9,211.5V202.5M131.0,210.2V192.5M131.3,211.7V226.6M132.5,210.0V218.2M134.9,210.9V220.8M135.8,211.6V197.2M136.1,212.5V202.4M136.4,211.1V226.3M139.4,211.4V225.6M140.3,212.1V205.9M140.9,212.1V227.8M141.5,212.0V220.7M142.4,212.5V204.2M143.6,211.7V196.8M144.8,210.7V221.1M145.1,213.3V221.5M145.4,210.5V218.5M146.0,213.0V205.8M146.3,210.6V226.5M148.1,212.4V224.1M148.4,208.3V225.2M151.7,212.8V200.3M152.0,213.0V203.9M152.3,192.7V185.5M153.2,212.5V198.9M154.4,210.1V200.5M161.1,196.6V204.6M162.3,196.8V184.6M163.5,196.6V187.8M163.8,195.4V205.2M164.1,195.7V183.7M165.0,198.5V209.3M165.9,197.9V189.7M166.5,196.0V208.1M167.7,197.6V215.0M168.6,197.9V214.3M168.9,197.4V185.8M171.9,196.7V179.3M173.1,196.5V203.2M175.5,198.4V215.2M179.1,208.6V223.7M180.0,211.4V222.2M180.9,208.9V193.6M181.2,210.7V198.4M181.8,209.1V198.8M183.6,211.6V202.4M184.5,208.3V199.2M185.3,197.6V180.7M186.5,196.6V212.3M187.1,198.0V188.0M190.1,198.2V180.6M192.2,198.0V205.1M192.5,196.1V183.4M194.0,197.6V189.3M194.3,198.1V210.6M195.2,196.7V183.5M197.9,193.8V202.1M198.2,196.4V210.5M200.9,195.1V211.7M201.5,195.6V204.8M204.2,198.7V180.7M205.4,196.5V186.2M207.8,197.3V204.3M208.4,198.0V184.3M210.5,197.2V184.1M211.1,198.0V187.3M212.6,197.0V214.0M212.9,197.0V190.3M213.2,198.7V214.8M213.5,200.5V207.7M214.1,198.3V208.1M214.4,196.8V190.0M215.9,183.6V169.4M216.5,181.8V167.9M218.0,189.8V200.8M219.2,193.9V181.6M219.8,195.8V183.0M220.4,195.8V211.6M221.0,197.7V180.7M221.3,197.0V184.4M222.8,197.5V210.4M223.1,195.4V201.4M224.9,202.4V187.1M225.3,209.1V225.1M226.2,213.6V223.6M227.4,212.7V205.2M229.8,213.7V223.4M231.3,211.3V224.9M231.6,212.1V199.5M232.8,210.5V219.2M233.4,211.6V226.7M234.3,211.7V223.3M237.0,211.9V228.8M237.3,210.7V221.4M238.6,197.4V206.1M239.5,197.2V209.0M240.1,198.0V180.2M240.4,199.0V209.0M241.0,197.8V204.9M241.9,198.4V210.5M245.5,196.1V210.8M247.3,195.1V208.4M247.6,196.9V209.0M248.2,198.0V209.6M248.8,198.5V210.9M249.1,199.7V206.8M250.3,196.8V206.4M251.2,195.6V178.5M251.8,198.4V187.6M252.4,196.6V214.0M253.0,196.4V204.4M253.6,198.9V185.2M253.9,198.4V182.9M254.5,196.4V182.7M255.1,193.7V186.5M257.5,196.6V188.2M257.8,198.3V186.9M258.1,197.5V180.9M259.0,195.7V208.7M263.2,195.8V202.3M263.5,198.4V187.4M265.9,196.4V181.7M268.0,199.2V191.5M268.9,196.9V205.7M272.2,196.2V184.8M273.1,194.6V211.9M274.9,193.1V204.9M275.5,199.9V187.9M275.8,198.7V215.2M277.6,200.1V215.9M277.9,201.4V183.9M279.8,210.5V194.3M280.1,211.7V195.5M281.3,210.9V196.9M282.0,204.5V186.9M282.3,196.8V204.0M283.8,202.9V209.1M285.2,210.7V201.7M286.1,211.9V218.5M287.6,211.2V197.9M287.9,210.5V196.2M289.1,212.1V220.0M290.9,210.4V219.1M291.5,210.7V196.4M293.0,202.6V185.6M295.4,195.9V185.8M296.9,196.4V185.0M297.2,196.2V188.2M298.1,197.5V183.3M299.6,183.0V172.0M302.3,197.3V211.6M303.8,195.4V205.7M305.0,197.3V215.1M305.3,196.9V180.1M305.6,196.8V179.7M307.7,198.1V206.3M309.8,195.2V202.7M310.1,194.6V204.0M310.4,196.3V186.4M311.6,197.2V187.5M314.3,196.2V183.1M315.5,197.9V185.6M316.7,198.0V188.2M317.0,197.9V180.6M317.3,197.5V213.1M318.0,189.8V173.2M318.9,187.2V201.6M319.8,186.9V202.2M320.4,186.0V195.4M320.7,183.6V171.4M323.7,186.9V196.2M324.0,186.8V169.0M325.2,182.3V192.5M325.8,185.0V194.7M326.1,184.4V194.5M328.2,186.3V196.4M330.3,185.5V195.8M331.2,184.0V201.0M331.5,184.3V200.0M332.4,185.4V199.0M334.2,184.2V199.8M335.0,190.7V174.4M336.2,195.6V205.7M336.5,196.3V205.0M338.0,197.3V186.7M338.6,198.1V184.4M338.9,196.3V183.5M339.5,196.3V188.3M340.4,196.8V212.1M341.3,197.8V181.4M342.2,197.7V215.3M342.5,196.8V211.0M343.7,199.0V208.5M344.6,197.2V182.4M345.8,195.0V181.1M347.6,196.9V182.4M349.7,195.6V207.1M355.4,209.5V220.2M356.0,202.9V188.7M356.6,197.7V208.7M359.6,194.2V207.7M361.5,182.2V173.2M361.8,180.3V190.2M362.1,182.0V166.2M364.5,182.1V171.4M366.0,181.0V196.2M368.1,183.7V175.5M371.4,182.3V169.6M372.3,181.3V168.2M375.3,182.8V175.6M378.1,195.7V208.5M379.3,209.5V198.3M379.9,211.0V202.2M380.8,211.1V219.9M382.9,182.0V165.1M383.8,182.6V175.7M384.4,182.7V192.1M385.3,184.2V173.7M386.3,205.3V222.4M388.3,198.7V215.3M389.8,196.6V208.3M390.1,197.1V214.8M390.4,194.1V182.1" stroke="#b3b8be" stroke-width="0.5" fill="none"/>
<path d="M104.8,174.4V185.5M105.1,174.5V184.0M105.4,175.2V184.0M105.7,176.2V185.9M106.0,178.1V189.3M106.3,175.6V189.1M106.6,177.0V187.2M106.9,175.4V188.1M107.2,178.0V187.6M107.5,180.4V189.1M107.8,183.8V196.9M108.0,185.2V195.2M108.3,187.6V195.5M108.6,192.2V201.5M108.9,203.3V214.7M109.2,191.3V203.3M109.5,190.2V201.5M109.8,192.1V203.6M110.1,191.7V203.4M110.4,193.1V204.4M110.7,190.2V202.8M111.0,190.9V201.0M111.3,191.5V200.3M111.6,189.2V200.0M111.9,191.9V201.2M112.2,188.0V200.4M112.5,188.6V199.4M112.5,181.6V193.0M112.8,183.3V191.5M113.1,179.2V187.6M113.4,175.0V188.5M113.7,176.4V188.4M114.0,175.7V190.1M114.3,178.6V187.1M114.6,192.8V204.4M114.9,177.7V191.2M115.2,176.2V187.2M115.5,178.0V188.0M115.8,172.5V186.7M116.1,176.4V187.8M116.4,178.3V188.8M116.7,175.6V188.8M117.0,177.8V185.8M117.3,178.6V187.4M117.6,180.0V188.2M117.9,180.9V191.6M118.0,186.6V195.9M118.3,187.8V199.1M118.6,189.6V202.1M118.9,191.0V204.8M119.2,189.6V200.2M119.5,191.6V202.7M119.8,191.3V202.3M120.1,192.0V202.5M120.4,190.2V202.3M120.7,190.9V201.2M121.0,193.0V203.5M121.3,190.3V202.7M121.6,192.9V202.0M121.9,189.6V201.6M122.2,193.6V202.8M122.5,190.7V202.3M122.8,194.2V204.7M123.1,190.7V203.7M123.4,190.2V202.8M123.7,189.2V202.8M124.0,189.6V202.3M124.3,192.8V203.3M124.6,196.0V204.8M124.9,198.3V205.7M125.0,202.9V212.4M125.3,201.1V212.9M125.6,202.6V214.6M125.9,205.2V218.9M126.2,206.9V215.2M126.5,204.9V218.1M126.8,205.4V217.7M127.1,205.3V218.0M127.4,206.4V217.1M127.7,207.1V215.9M128.0,203.7V216.5M128.3,205.8V214.9M128.6,204.7V216.0M128.9,207.4V215.3M129.2,207.7V218.8M129.5,207.7V216.9M129.8,202.1V213.6M130.1,205.1V219.0M130.4,207.6V218.3M130.7,206.3V217.5M131.0,205.9V216.7M131.3,205.5V217.9M131.6,207.3V217.7M131.9,205.0V217.9M132.2,205.5V218.0M132.5,204.6V213.7M132.8,206.4V216.8M133.1,205.9V214.3M133.4,206.2V217.4M133.7,202.4V214.5M134.0,205.3V218.2M134.3,206.3V217.7M134.6,206.0V216.5M134.9,204.6V216.6M135.2,205.5V216.3M135.5,207.1V217.4M135.8,204.6V217.6M136.1,208.8V218.7M136.4,204.4V215.0M136.7,208.9V218.0M137.0,205.8V214.8M137.3,205.8V218.0M137.6,206.2V220.8M137.9,209.5V217.8M138.2,207.0V215.1M138.5,202.8V215.8M138.8,202.0V214.6M139.1,203.8V216.8M139.4,204.4V215.8M139.7,203.9V215.3M140.0,203.8V216.0M140.3,207.2V217.2M140.6,206.5V217.1M140.9,205.9V217.4M141.2,202.9V214.5M141.5,206.0V215.9M141.8,205.7V218.5M142.1,191.5V199.1M142.4,205.8V216.6M142.7,205.8V220.1M143.0,203.3V217.5M143.3,202.9V214.0M143.6,204.3V218.5M143.9,204.9V217.9M144.2,203.7V215.4M144.5,209.0V219.6M144.8,205.1V215.3M145.1,208.3V217.1M145.4,203.8V215.6M145.7,206.7V218.3M146.0,207.2V218.9M146.3,206.5V217.1M146.6,206.2V214.7M146.9,204.3V216.7M147.2,205.7V216.0M147.5,205.8V218.0M147.8,203.8V214.7M148.1,206.1V219.8M148.4,204.5V214.1M148.7,202.4V214.2M149.0,203.9V213.2M149.3,207.4V219.2M149.6,210.2V220.2M149.9,207.1V217.8M150.2,206.5V217.2M150.5,180.6V191.4M150.8,210.5V219.2M151.1,206.0V217.1M151.4,202.7V217.3M151.7,205.9V217.0M152.0,207.1V218.2M152.3,188.1V197.1M152.6,208.0V217.2M152.9,206.8V219.5M153.2,208.2V217.8M153.5,203.6V215.9M153.8,202.6V215.1M154.1,206.1V217.7M154.4,206.6V214.6M154.7,209.6V221.3M155.0,204.8V217.1M155.3,204.2V214.6M155.6,202.2V211.9M155.9,197.3V209.5M156.0,199.2V207.9M156.3,194.0V202.2M156.6,193.4V205.0M156.9,190.7V198.3M157.2,192.2V203.2M157.5,193.5V205.3M157.8,188.3V202.2M158.1,190.9V199.8M158.4,191.2V200.6M158.7,190.8V200.7M159.0,191.4V200.7M159.3,190.5V199.5M159.6,193.2V203.2M159.9,191.8V203.3M160.2,193.0V205.1M160.5,190.3V205.0M160.8,193.3V204.9M161.1,191.7V200.2M161.4,191.8V202.6M161.7,189.7V200.6M162.0,191.5V200.7M162.3,192.0V201.9M162.6,192.7V203.8M162.9,191.7V204.1M163.2,193.5V203.1M163.5,190.8V200.3M163.8,191.3V198.9M164.1,191.2V202.2M164.4,191.3V202.2M164.7,191.7V203.1M165.0,193.1V205.0M165.3,190.9V201.9M165.6,190.4V203.3M165.9,193.7V202.2M166.2,192.5V204.8M166.5,191.7V201.8M166.8,191.4V199.4M167.1,192.0V201.7M167.4,191.9V200.2M167.7,191.3V202.8M168.0,192.7V205.3M168.3,188.5V201.3M168.6,191.2V201.8M168.9,190.4V201.3M169.2,192.3V204.7M169.5,191.1V200.9M169.8,190.0V201.4M170.1,193.2V203.1M170.4,189.8V199.1M170.7,190.4V202.4M171.0,193.2V204.0M171.3,193.5V202.4M171.6,194.1V203.4M171.9,193.0V203.6M172.2,188.8V200.7M172.5,190.0V201.6M172.8,190.8V204.5M173.1,189.9V201.2M173.4,188.7V201.2M173.7,195.2V205.2M174.0,190.2V202.6M174.3,190.7V204.6M174.6,193.9V205.0M174.9,191.1V202.0M175.2,190.9V203.6M175.5,193.0V205.6M175.8,189.6V201.4M176.1,194.4V202.0M176.4,192.7V203.0M176.7,196.1V207.9M177.0,201.4V211.9M177.3,204.3V215.0M177.6,205.3V217.1M177.9,203.6V214.6M178.2,205.4V217.9M178.5,203.4V217.2M178.8,207.5V221.0M179.1,204.7V215.5M179.4,206.1V215.5M179.7,205.2V217.3M180.0,204.0V215.9M180.3,205.5V214.7M180.6,206.1V219.4M180.9,203.0V215.6M181.2,207.1V218.1M181.5,206.1V217.1M181.8,205.4V215.6M182.1,205.0V214.3M182.4,208.1V215.5M182.7,204.7V214.6M183.0,202.7V213.0M183.3,204.9V215.9M183.6,206.2V218.1M183.9,203.9V215.2M184.2,203.7V215.0M184.5,202.5V214.5M184.8,199.7V211.2M185.0,189.5V202.0M185.3,193.2V204.6M185.6,179.1V190.4M185.9,192.6V204.1M186.2,189.7V202.7M186.5,192.7V203.6M186.8,189.5V200.7M187.1,194.4V202.5M187.4,192.3V203.7M187.7,189.9V202.1M188.0,190.0V199.8M188.3,190.5V202.7M188.6,191.0V202.6M188.9,192.0V201.7M189.2,193.9V206.3M189.5,191.2V203.0M189.8,194.0V201.9M190.1,194.6V205.1M190.4,191.0V203.6M190.7,193.0V202.3M191.0,192.9V204.5M191.3,194.5V205.8M191.6,189.1V199.9M191.9,191.9V204.5M192.2,191.0V204.7M192.5,190.6V199.9M192.8,193.0V204.3M193.1,190.0V198.4M193.4,188.5V199.2M193.7,193.5V203.0M194.0,190.1V203.4M194.3,193.9V201.9M194.6,190.8V201.4M194.9,192.6V204.0M195.2,191.8V204.1M195.5,195.3V204.7M195.8,192.6V203.0M196.1,188.8V200.5M196.4,191.3V206.2M196.7,188.9V202.1M197.0,192.4V201.4M197.3,191.9V200.6M197.6,190.1V202.4M197.9,189.9V200.3M198.2,190.5V201.2M198.5,190.1V204.2M198.8,193.2V204.2M199.1,191.9V202.2M199.4,189.4V202.6M199.7,190.4V203.8M200.0,190.6V199.7M200.3,191.9V203.5M200.6,190.4V199.8M200.9,189.0V199.2M201.2,176.0V188.8M201.5,188.9V199.6M201.8,191.1V201.5M202.1,190.0V202.3M202.4,195.3V204.0M202.7,192.4V202.0M203.0,190.4V204.2M203.3,194.3V203.7M203.6,191.3V201.4M203.9,187.3V196.8M204.2,195.1V203.3M204.5,194.2V204.2M204.8,189.6V201.9M205.1,191.8V202.1M205.4,193.0V202.1M205.7,193.0V203.7M206.0,192.3V203.7M206.3,189.9V199.4M206.6,191.5V200.7M206.9,191.3V202.1M207.2,189.4V201.0M207.5,191.7V200.8M207.8,192.8V204.1M208.1,189.4V203.2M208.4,193.4V201.7M208.7,189.3V201.4M209.0,193.3V202.8M209.3,188.8V202.1M209.6,193.2V204.0M209.9,190.8V201.4M210.2,188.6V202.5M210.5,190.2V204.3M210.8,189.8V202.1M211.1,193.7V203.3M211.4,191.0V202.2M211.7,188.5V202.3M212.0,192.1V205.9M212.3,193.7V203.7M212.6,191.1V201.0M212.9,191.6V202.3M213.2,193.2V206.2M213.5,195.7V207.4M213.8,189.7V203.4M214.1,192.0V202.3M214.4,190.7V200.4M214.7,187.0V197.7M215.0,181.9V194.0M215.3,175.6V188.6M215.6,177.2V187.2M215.9,180.1V188.7M216.2,173.8V185.6M216.5,176.6V187.9M216.8,174.3V184.8M217.1,174.4V187.3M217.4,182.1V193.5M217.7,184.5V193.6M218.0,185.2V194.0M218.3,190.2V199.3M218.6,190.6V201.9M218.9,190.1V203.1M219.2,188.5V199.7M219.5,205.1V217.4M219.8,190.9V201.3M220.1,188.2V200.7M220.4,189.5V202.8M220.7,194.9V204.8M221.0,191.4V204.3M221.3,190.0V200.8M221.6,193.4V201.9M221.9,189.4V202.8M222.2,189.9V202.6M222.5,193.8V202.7M222.8,191.8V201.2M223.1,190.1V200.7M223.4,192.8V203.5M223.7,191.4V201.1M224.0,191.9V202.3M224.3,191.5V202.9M224.6,196.0V204.8M224.9,197.4V207.9M225.0,199.0V210.4M225.3,204.6V215.0M225.6,203.1V214.9M225.9,203.8V217.8M226.2,207.5V217.4M226.5,205.2V214.2M226.8,207.7V219.0M227.1,206.2V219.7M227.4,207.4V217.0M227.7,205.6V214.3M228.0,205.0V215.2M228.3,207.2V217.4M228.6,204.7V217.4M228.9,203.2V217.2M229.2,203.9V216.8M229.5,208.6V219.7M229.8,208.7V218.5M230.1,207.0V218.1M230.4,206.3V216.3M230.7,203.9V214.9M231.0,205.2V216.3M231.3,206.5V217.0M231.6,206.9V216.5M231.9,207.9V219.2M232.2,208.1V216.8M232.5,207.6V217.3M232.8,205.9V215.6M233.1,205.4V216.1M233.4,207.2V215.6M233.7,207.5V216.9M234.0,207.2V217.4M234.3,206.1V217.2M234.6,207.3V215.9M234.9,205.5V216.6M235.2,204.2V217.2M235.5,206.4V216.0M235.8,203.0V213.8M236.1,205.3V214.9M236.4,205.9V217.6M236.7,206.6V216.0M237.0,205.0V217.3M237.3,206.1V217.3M237.6,201.3V210.1M237.9,177.1V185.3M238.0,197.6V207.8M238.3,196.4V209.4M238.6,190.0V202.4M238.9,191.0V204.0M239.2,193.8V206.4M239.5,191.6V203.8M239.8,192.9V202.4M240.1,191.8V202.0M240.4,192.1V203.8M240.7,191.5V200.9M241.0,191.8V202.4M241.3,190.4V202.4M241.6,191.8V202.2M241.9,194.7V203.8M242.2,193.8V203.9M242.5,193.6V201.6M242.8,190.6V203.4M243.1,191.7V202.2M243.4,190.3V200.8M243.7,191.2V200.9M244.0,194.5V206.9M244.3,189.9V204.2M244.6,190.1V200.7M244.9,192.6V202.5M245.2,192.4V202.7M245.5,190.7V202.7M245.8,191.8V203.7M246.1,191.7V203.1M246.4,190.3V199.9M246.7,192.1V201.3M247.0,190.9V199.9M247.3,189.0V201.0M247.6,192.0V203.9M247.9,192.2V203.0M248.2,193.0V204.4M248.5,191.0V202.4M248.8,194.7V203.3M249.1,193.0V203.7M249.4,189.2V200.5M249.7,190.6V203.9M250.0,205.9V219.9M250.3,193.0V202.8M250.6,191.7V203.2M250.9,191.8V200.7M251.2,188.5V202.9M251.5,190.6V201.6M251.8,192.0V203.9M252.1,189.6V202.2M252.4,191.4V202.1M252.7,191.9V202.2M253.0,192.4V202.8M253.3,191.9V202.7M253.6,193.3V206.2M253.9,192.6V202.6M254.2,191.5V203.5M254.5,192.4V202.8M254.8,190.1V199.2M255.1,189.6V197.9M255.4,191.6V202.1M255.7,191.3V201.1M256.0,192.0V205.0M256.3,192.5V201.5M256.6,188.8V202.0M256.9,194.4V203.8M257.2,190.6V202.6M257.5,190.2V203.5M257.8,194.3V203.2M258.1,193.9V204.2M258.4,192.5V203.4M258.7,189.8V203.2M259.0,191.2V202.5M259.3,188.9V203.3M259.6,190.9V202.6M259.9,193.1V205.1M260.2,190.2V200.1M260.5,191.5V202.8M260.8,192.8V203.6M261.1,192.8V204.0M261.4,194.9V202.5M261.7,189.2V200.0M262.0,188.0V199.0M262.3,193.0V203.5M262.6,191.1V202.6M262.9,192.5V201.4M263.2,192.2V200.2M263.5,192.8V203.0M263.8,190.7V200.9M264.1,190.9V201.5M264.4,193.5V205.8M264.7,190.5V201.9M265.0,190.0V201.5M265.3,192.4V201.1M265.6,190.1V201.4M265.9,192.0V200.4M266.2,192.4V202.3M266.5,191.7V202.8M266.8,190.3V202.7M267.1,188.6V201.0M267.4,192.3V203.8M267.7,191.1V201.0M268.0,192.6V206.1M268.3,189.4V203.4M268.6,192.1V205.0M268.9,190.6V204.2M269.2,193.9V203.2M269.5,193.5V202.0M269.8,190.8V202.7M270.1,192.2V201.7M270.4,191.7V202.5M270.7,189.7V202.3M271.0,189.7V201.8M271.3,190.7V202.1M271.6,189.9V201.2M271.9,192.4V201.8M272.2,189.0V200.9M272.5,195.3V206.2M272.8,186.6V200.7M273.1,190.0V201.6M273.4,190.2V203.4M273.7,189.6V201.6M274.0,190.6V199.9M274.3,194.0V202.5M274.6,191.5V199.7M274.9,186.5V196.9M275.2,192.4V201.9M275.5,196.0V206.8M275.8,192.9V203.0M276.1,191.9V205.2M276.4,193.2V203.3M276.7,192.5V204.4M277.0,193.2V203.1M277.3,191.2V202.1M277.6,196.6V205.6M277.9,194.3V206.3M278.0,197.7V211.4M278.3,204.0V213.7M278.6,206.4V217.4M278.9,205.4V215.3M279.2,204.6V215.2M279.5,204.2V216.8M279.8,206.9V216.4M280.1,205.1V218.0M280.4,206.8V218.1M280.7,204.3V217.0M281.0,205.5V215.3M281.3,205.4V215.4M281.6,205.1V215.0M281.9,198.8V212.0M282.0,198.6V210.8M282.3,192.1V202.6M282.6,191.2V201.9M282.9,192.7V201.2M283.2,194.0V205.5M283.5,190.9V202.8M283.8,198.6V209.9M284.0,199.7V210.0M284.3,200.6V213.1M284.6,207.2V215.0M284.9,205.5V215.6M285.2,203.5V215.9M285.5,205.1V215.4M285.8,207.0V219.1M286.1,205.6V216.1M286.4,203.9V215.4M286.7,207.8V219.5M287.0,206.9V214.6M287.3,207.9V218.7M287.6,205.8V217.8M287.9,206.6V215.2M288.2,206.8V217.1M288.5,205.2V214.6M288.8,205.7V216.3M289.1,206.2V219.3M289.4,204.7V218.4M289.7,209.3V218.8M290.0,204.1V214.6M290.3,207.3V215.5M290.6,202.2V214.8M290.9,202.9V216.9M291.2,204.5V216.4M291.5,204.6V214.4M291.8,207.8V217.9M292.1,206.1V218.9M292.4,203.2V215.1M292.7,199.4V210.2M293.0,198.9V206.8M293.3,191.8V203.4M293.6,191.1V202.9M293.9,189.4V199.6M294.2,193.0V202.7M294.5,190.3V201.3M294.8,191.9V201.7M295.1,207.2V218.5M295.4,190.4V201.1M295.7,193.4V204.8M296.0,191.4V201.2M296.3,190.8V199.9M296.6,193.3V205.3M296.9,190.7V200.7M297.2,192.6V200.1M297.5,190.3V202.5M297.8,190.0V202.7M298.1,191.5V202.0M298.4,191.0V203.0M298.7,195.0V206.3M299.0,204.7V216.4M299.3,190.3V201.2M299.6,175.7V189.5M299.9,192.4V202.9M300.2,191.9V202.5M300.5,192.6V201.9M300.8,189.3V202.8M301.1,191.4V203.3M301.4,189.1V202.8M301.7,191.2V201.0M302.0,192.4V202.6M302.3,191.4V204.7M302.6,191.5V204.0M302.9,192.1V203.7M303.2,192.0V204.9M303.5,189.8V202.1M303.8,191.8V200.1M304.1,192.2V200.8M304.4,191.7V200.1M304.7,192.8V202.7M305.0,192.1V203.7M305.3,190.8V202.3M305.6,192.0V201.6M305.9,188.8V198.9M306.2,192.6V205.0M306.5,192.0V202.4M306.8,192.1V201.6M307.1,191.3V201.7M307.4,193.3V202.8M307.7,192.2V204.4M308.0,192.1V199.9M308.3,189.0V201.7M308.6,192.0V203.4M308.9,194.1V202.0M309.2,193.4V203.2M309.5,190.2V200.4M309.8,188.8V201.4M310.1,189.5V198.1M310.4,189.6V201.3M310.7,186.8V197.5M311.0,192.2V200.9M311.3,189.0V202.3M311.6,189.9V202.0M311.9,195.4V205.3M312.2,192.4V204.4M312.5,193.0V204.9M312.8,188.7V200.3M313.1,177.0V189.4M313.4,188.2V199.6M313.7,193.5V203.5M314.0,194.3V203.0M314.3,189.7V200.6M314.6,189.8V200.1M314.9,189.1V199.3M315.2,191.6V203.8M315.5,193.1V203.5M315.8,188.9V202.6M316.1,190.1V204.4M316.4,192.6V202.1M316.7,191.7V203.0M317.0,194.1V201.9M317.3,190.8V203.5M317.6,185.5V198.1M317.9,191.4V199.5M318.0,184.1V196.8M318.3,184.0V194.3M318.6,180.5V189.4M318.9,181.6V193.7M319.2,206.0V216.9M319.5,179.3V188.4M319.8,182.8V192.7M320.1,180.2V192.7M320.4,179.6V190.2M320.7,178.7V188.3M321.0,180.7V193.1M321.3,179.1V190.0M321.6,180.6V194.5M321.9,177.6V188.3M322.2,175.6V186.7M322.5,180.4V191.0M322.8,181.3V190.3M323.1,182.2V192.8M323.4,177.7V191.9M323.7,181.3V193.8M324.0,180.5V191.2M324.3,177.1V188.8M324.6,181.4V192.6M324.9,180.0V190.3M325.2,175.4V186.2M325.5,180.9V190.1M325.8,178.7V188.7M326.1,177.2V191.2M326.4,182.1V191.1M326.7,182.0V189.5M327.0,206.3V215.6M327.3,180.2V189.3M327.6,178.3V191.9M327.9,179.3V190.4M328.2,179.1V191.7M328.5,179.6V192.3M328.8,177.6V189.1M329.1,175.9V188.9M329.4,179.8V188.2M329.7,181.2V191.8M330.0,182.3V190.2M330.3,181.2V192.1M330.6,179.2V187.7M330.9,182.3V191.4M331.2,177.6V190.2M331.5,178.2V188.3M331.8,181.2V190.9M332.1,182.2V192.5M332.4,178.5V190.4M332.7,182.2V191.9M333.0,179.8V190.1M333.3,177.6V187.7M333.6,180.1V189.2M333.9,179.7V189.0M334.2,180.5V189.4M334.5,181.6V193.8M334.8,187.7V196.4M335.0,184.1V194.5M335.3,188.7V198.3M335.6,190.0V199.5M335.9,193.4V203.9M336.2,191.1V200.1M336.5,190.7V203.3M336.8,193.7V204.9M337.1,189.6V202.9M337.4,194.3V202.5M337.7,193.0V203.5M338.0,192.2V204.7M338.3,191.4V203.7M338.6,191.1V201.6M338.9,191.9V203.1M339.2,190.4V202.3M339.5,189.3V203.8M339.8,193.6V205.7M340.1,189.7V200.2M340.4,190.3V200.5M340.7,189.7V200.3M341.0,193.2V200.8M341.3,193.0V205.0M341.6,189.5V203.4M341.9,190.9V199.5M342.2,192.4V202.1M342.5,193.0V203.9M342.8,190.7V202.0M343.1,189.1V201.3M343.4,189.2V200.0M343.7,194.5V203.3M344.0,191.3V203.1M344.3,190.0V203.9M344.6,193.5V202.4M344.9,189.1V201.8M345.2,194.0V202.9M345.5,191.1V203.7M345.8,188.1V201.3M346.1,193.7V203.3M346.4,190.6V201.6M346.7,192.7V202.7M347.0,194.0V202.1M347.3,193.5V205.9M347.6,192.2V200.9M347.9,192.1V204.5M348.2,192.4V203.6M348.5,193.4V205.3M348.8,192.5V201.3M349.1,190.5V202.5M349.4,191.3V201.8M349.7,192.0V202.4M350.0,187.5V200.9M350.3,187.6V197.8M350.6,191.5V201.8M350.9,192.8V204.4M351.2,189.8V200.2M351.5,191.3V205.0M351.8,189.4V199.9M352.1,189.0V200.7M352.4,197.3V208.0M352.7,197.7V209.1M353.0,200.8V212.2M353.3,200.4V214.6M353.6,202.0V215.7M353.9,204.4V214.7M354.2,209.7V219.1M354.5,206.9V217.0M354.8,205.6V216.3M355.1,205.5V216.1M355.4,202.7V214.0M355.7,202.4V211.9M356.0,198.2V208.2M356.3,195.3V204.3M356.6,191.4V204.8M356.9,188.5V201.2M357.2,190.7V202.5M357.5,192.0V203.7M357.8,193.2V205.2M358.1,200.8V214.9M358.4,204.2V217.0M358.7,192.8V204.0M359.0,192.5V204.9M359.3,193.0V205.0M359.6,187.0V199.1M359.9,186.1V198.9M360.0,182.6V192.1M360.3,179.1V187.8M360.6,178.1V189.4M360.9,178.0V189.3M361.2,178.9V190.6M361.5,177.1V186.2M361.8,175.0V185.9M362.1,174.7V186.2M362.4,179.1V190.1M362.7,173.1V186.3M363.0,176.7V186.9M363.3,177.4V186.5M363.6,175.0V184.2M363.9,174.6V186.4M364.2,176.6V188.8M364.5,178.0V189.2M364.8,177.2V187.0M365.1,173.6V184.4M365.4,178.5V191.5M365.7,179.1V189.0M366.0,175.2V187.5M366.3,175.0V188.9M366.6,178.8V187.9M366.9,174.6V186.0M367.2,193.0V204.2M367.5,178.9V192.7M367.8,174.8V185.2M368.1,178.2V190.9M368.4,172.7V187.3M368.7,177.1V187.2M369.0,174.8V186.2M369.3,177.3V189.5M369.6,176.5V187.3M369.9,176.2V186.4M370.2,179.2V188.6M370.5,176.7V189.8M370.8,175.7V185.8M371.1,175.9V188.8M371.4,175.8V185.9M371.7,174.8V186.2M372.0,175.7V187.5M372.3,176.5V185.1M372.6,176.4V186.9M372.9,179.0V189.3M373.2,175.4V188.8M373.5,178.3V188.2M373.8,177.2V187.8M374.1,178.0V188.9M374.4,176.5V185.4M374.7,178.5V188.6M375.0,174.3V185.7M375.3,175.6V187.1M375.6,179.6V190.7M375.9,182.6V193.3M376.0,185.5V197.1M376.3,186.9V200.6M376.6,191.9V202.5M376.9,189.3V201.5M377.2,195.0V202.8M377.5,193.2V204.3M377.8,189.7V203.0M378.1,188.9V202.3M378.4,193.2V204.6M378.7,199.2V207.4M379.0,200.0V214.5M379.3,205.5V213.4M379.6,204.5V216.6M379.9,204.9V216.7M380.2,204.3V216.1M380.5,208.1V217.3M380.8,206.1V218.0M381.1,207.9V216.3M381.4,200.4V210.6M381.7,196.5V205.8M382.0,186.2V198.8M382.3,181.7V194.3M382.6,176.0V188.7M382.9,175.5V185.8M383.2,178.9V189.9M383.5,177.2V187.1M383.8,178.1V188.0M384.1,179.1V190.4M384.4,177.8V189.7M384.7,175.2V185.3M385.0,179.8V187.7M385.3,178.2V189.7M385.6,182.2V196.0M385.9,190.1V202.2M386.0,193.5V202.5M386.3,200.6V210.8M386.6,204.7V217.7M386.9,206.2V217.9M387.2,205.6V216.3M387.5,202.0V216.2M387.8,200.2V209.7M388.0,197.4V209.0M388.3,194.5V204.0M388.6,191.0V203.0M388.9,191.3V204.6M389.2,190.0V200.6M389.5,192.1V203.5M389.8,190.2V201.7M390.1,189.9V202.8M390.4,188.5V198.4M390.7,189.2V200.3M391.0,189.6V202.9M391.3,193.1V203.9" stroke="#8d949c" stroke-width="0.5" fill="none"/>
<path d="M104.8,179.4V183.4M105.1,178.6V182.9M105.4,175.5V181.2M105.7,179.4V184.6M106.0,180.8V185.3M106.3,179.4V182.8M106.6,181.5V186.4M106.9,179.5V183.4M107.2,179.0V185.1M107.5,179.4V185.6M107.8,188.1V191.9M108.3,187.7V193.3M108.6,195.3V198.6M108.9,206.8V213.4M109.2,192.4V197.9M109.5,195.7V201.8M110.1,196.5V199.0M110.4,195.9V200.2M110.7,193.5V200.0M111.0,193.0V197.4M111.6,194.1V198.2M111.9,193.7V200.7M112.2,192.5V195.1M112.5,189.7V196.9M112.5,185.3V188.4M113.1,181.7V186.7M113.7,181.2V186.3M114.0,178.6V183.9M114.3,179.6V184.0M114.6,197.6V202.9M114.9,182.1V186.0M115.2,181.1V184.8M115.5,182.7V188.1M115.8,175.7V182.3M116.1,183.4V186.7M116.4,180.5V184.1M116.7,178.3V183.2M117.3,181.5V185.3M117.6,181.0V186.4M117.9,185.9V190.7M118.0,187.3V190.8M118.3,191.1V196.5M118.9,194.5V199.9M119.2,191.9V197.7M119.5,194.1V200.4M119.8,194.5V199.2M120.1,193.8V196.8M121.0,194.3V199.6M121.3,197.1V201.6M121.6,195.9V200.4M121.9,192.4V197.6M122.2,195.6V200.0M122.5,195.6V200.6M122.8,199.3V202.8M123.1,193.9V198.6M123.4,194.0V200.8M123.7,194.3V200.8M124.0,192.9V199.3M124.3,194.9V198.3M124.6,196.0V200.9M124.9,200.6V206.2M125.0,206.4V210.1M125.3,203.3V208.6M125.6,208.9V212.9M125.9,210.3V215.9M126.2,208.9V213.3M126.5,207.7V214.4M127.1,208.6V214.8M128.3,210.2V215.0M128.6,210.7V215.7M128.9,209.8V213.9M129.2,208.4V214.0M129.5,209.2V215.4M129.8,209.0V212.7M130.1,211.3V215.5M130.7,207.1V212.0M131.0,206.5V212.8M131.3,209.3V212.8M131.6,210.4V216.2M131.9,209.4V213.4M132.2,211.2V214.2M132.5,207.3V211.2M132.8,208.6V212.5M133.1,207.7V212.1M133.4,210.1V214.8M133.7,204.7V209.0M134.0,208.7V215.0M134.6,209.8V212.7M134.9,208.8V216.2M135.2,206.6V211.6M135.5,209.1V214.1M135.8,207.0V214.1M136.1,211.0V215.8M136.4,208.1V212.9M136.7,211.4V215.3M137.0,207.3V212.6M137.3,208.4V212.0M137.6,211.2V217.3M138.2,208.8V213.2M138.5,209.1V212.6M139.1,208.6V211.6M139.4,208.7V214.5M139.7,209.5V213.9M140.0,206.4V211.9M140.3,210.7V216.5M140.9,211.0V214.6M141.2,209.2V213.7M141.5,207.8V214.5M141.8,206.6V210.8M142.1,194.2V197.6M142.4,209.7V215.5M142.7,209.8V212.9M143.0,206.8V214.1M143.3,206.3V210.9M143.6,209.0V214.9M143.9,208.5V213.4M144.2,206.7V212.2M144.5,210.0V214.4M144.8,207.7V213.7M145.1,211.4V215.9M145.4,209.2V213.9M145.7,209.6V214.6M146.0,211.8V217.2M146.3,207.2V211.2M146.6,208.3V213.7M146.9,209.6V214.3M147.2,207.1V213.3M147.5,208.9V214.9M147.8,208.2V213.8M148.1,210.7V215.7M148.4,208.4V212.4M148.7,207.2V211.8M149.0,206.1V209.0M149.3,210.2V215.9M149.9,210.6V217.3M150.2,209.2V215.2M150.5,181.6V186.2M151.1,208.3V210.9M151.4,206.2V213.0M152.0,213.2V217.4M152.3,188.1V192.6M152.6,210.0V212.8M152.9,210.9V216.4M153.2,212.0V216.5M153.5,206.2V209.7M154.1,208.3V213.9M154.4,207.5V213.3M154.7,212.0V217.5M155.3,207.6V214.2M155.9,198.8V205.5M156.0,200.5V206.4M156.3,195.9V201.2M156.6,196.3V198.8M157.2,192.1V198.0M157.5,194.4V199.7M157.8,194.6V198.6M158.1,192.4V197.0M158.7,194.0V198.4M159.0,189.9V197.2M159.3,194.0V198.5M159.6,196.4V199.5M159.9,195.8V199.7M160.2,193.6V200.7M160.5,195.6V199.5M160.8,198.3V203.2M161.1,194.6V198.3M161.4,194.4V197.9M162.0,194.5V199.5M162.3,194.3V198.7M162.6,195.5V200.9M162.9,195.0V198.1M163.2,196.5V199.5M163.8,193.7V199.1M164.4,193.7V198.5M164.7,198.2V200.7M165.0,198.0V201.2M165.3,194.9V200.4M165.6,195.1V199.9M165.9,195.9V199.4M166.2,196.0V200.2M166.5,194.3V199.6M166.8,191.8V197.3M167.1,194.9V198.8M167.4,194.2V198.7M167.7,195.1V198.2M168.0,196.9V199.2M168.3,193.3V198.2M168.6,195.7V201.0M168.9,195.9V199.3M169.2,196.0V201.7M169.5,194.1V197.2M169.8,194.0V199.8M170.1,197.8V201.1M170.4,194.0V198.9M170.7,194.3V199.4M171.0,193.1V198.0M171.3,196.4V202.0M172.2,193.2V199.2M172.5,196.3V200.1M172.8,195.9V202.5M173.4,194.1V199.9M173.7,197.2V202.9M174.0,194.0V199.1M174.3,193.6V198.5M174.6,195.8V200.0M175.2,197.4V199.9M175.5,196.2V199.5M176.4,194.2V200.3M176.7,201.9V205.5M177.0,204.1V208.3M177.3,206.6V212.7M177.6,206.9V214.1M177.9,208.1V213.5M178.2,210.9V214.3M178.5,205.9V210.3M178.8,211.8V217.2M179.1,204.8V209.9M179.4,208.1V214.3M179.7,207.9V212.6M180.0,208.5V214.2M180.3,208.4V211.7M180.6,209.8V214.2M180.9,205.8V211.8M181.2,208.5V214.4M181.5,207.9V213.1M181.8,207.4V211.5M182.1,209.3V212.2M182.4,208.5V214.2M182.7,207.0V211.2M183.0,207.1V211.5M183.6,209.3V213.2M183.9,206.8V213.6M184.2,207.6V212.7M184.5,204.7V208.6M185.0,193.6V199.9M185.3,196.4V200.1M185.9,196.0V203.1M186.5,193.7V199.3M186.8,193.8V200.7M187.1,195.1V199.4M187.4,196.4V200.5M187.7,193.1V199.4M188.3,195.5V198.9M188.6,192.1V198.0M188.9,193.0V198.0M189.8,196.6V200.8M190.1,197.0V201.7M190.4,192.2V199.0M190.7,193.2V200.0M191.0,194.2V198.4M191.3,198.1V202.6M191.6,193.3V197.0M191.9,191.0V196.2M192.2,195.3V199.0M192.5,193.2V198.4M192.8,194.6V200.9M193.7,195.1V201.0M194.0,196.1V200.2M194.3,195.0V201.8M194.6,193.4V199.3M194.9,196.0V199.0M195.5,196.5V200.9M195.8,196.4V199.0M196.1,193.8V198.3M196.4,195.3V202.7M196.7,193.4V197.3M197.0,196.2V199.5M197.3,194.6V199.0M197.6,195.2V197.9M197.9,192.9V197.8M198.5,195.6V198.6M198.8,191.2V196.6M199.1,195.4V199.1M199.4,196.2V199.5M199.7,194.9V197.7M200.6,191.2V197.9M200.9,193.6V199.7M201.2,180.8V185.9M201.5,193.9V197.6M201.8,193.2V198.8M202.1,194.5V198.4M202.4,199.5V204.5M202.7,194.1V199.6M203.0,192.4V197.4M203.3,196.6V200.5M203.6,194.0V199.8M203.9,189.9V195.2M204.5,194.7V201.5M204.8,195.6V199.7M205.1,195.2V201.5M205.4,197.2V202.6M205.7,192.6V198.3M206.0,193.3V200.4M206.3,192.5V198.6M207.2,193.0V197.7M207.5,193.4V199.4M207.8,196.2V200.6M208.1,194.8V200.3M208.4,194.1V201.5M208.7,191.5V198.0M209.0,194.1V198.8M209.3,194.2V199.3M209.6,195.3V198.0M210.5,195.5V200.0M210.8,194.0V199.4M212.0,195.2V200.2M212.3,198.0V202.0M212.6,194.5V200.2M212.9,194.7V198.9M213.2,193.5V200.8M213.5,197.6V201.3M213.8,196.2V199.5M214.1,195.8V201.0M214.4,193.0V197.7M215.0,186.8V191.8M215.3,180.8V185.2M215.9,182.6V186.2M216.2,178.4V183.4M216.5,178.2V181.7M216.8,178.9V183.6M217.1,178.0V184.1M217.4,184.8V190.5M217.7,186.0V191.9M218.0,188.0V190.9M218.3,189.4V194.2M218.6,193.4V197.0M218.9,191.9V197.3M219.2,190.6V196.3M219.5,208.2V215.0M220.1,191.7V198.1M220.4,195.2V199.9M220.7,196.2V202.9M221.0,195.7V200.2M221.6,195.8V201.1M221.9,193.0V197.7M222.5,196.6V201.9M223.1,193.2V199.0M223.4,194.3V198.7M223.7,195.1V200.7M224.3,194.7V201.6M224.6,199.7V202.3M225.0,203.4V209.4M225.3,205.6V209.1M225.6,207.1V210.7M225.9,208.6V213.3M226.2,213.2V215.8M226.5,206.5V212.1M226.8,209.3V212.8M227.1,211.1V216.1M227.4,209.2V213.5M228.0,208.6V213.4M228.3,209.4V214.9M228.6,207.9V213.5M228.9,209.2V214.5M229.5,211.8V216.9M229.8,210.1V216.1M230.1,210.0V214.1M230.4,208.6V215.4M231.0,206.3V211.1M231.3,209.6V212.2M231.6,209.3V214.1M231.9,209.4V214.0M232.2,210.5V213.6M232.5,209.7V215.1M233.1,208.2V212.9M233.4,208.8V212.6M233.7,210.5V215.0M234.0,208.5V214.2M234.3,209.1V214.0M234.6,209.7V214.5M234.9,208.9V211.4M235.2,206.8V213.9M235.5,208.6V214.7M235.8,206.4V210.2M236.1,206.9V213.1M236.4,210.2V213.6M236.7,210.4V213.6M237.9,179.6V184.3M238.3,199.5V203.2M238.6,196.8V202.1M238.9,195.8V201.0M239.2,197.5V202.6M239.5,193.6V199.9M240.1,195.9V199.5M240.4,196.5V201.9M240.7,193.6V198.1M241.0,194.0V199.5M241.3,192.4V198.9M241.6,194.4V198.2M241.9,194.8V198.6M242.2,195.8V200.5M242.8,197.1V200.8M243.1,193.2V196.0M244.0,197.9V201.7M244.3,194.9V200.9M244.6,192.7V199.4M244.9,195.5V198.2M245.2,193.2V198.6M245.5,193.4V197.3M245.8,195.3V199.2M246.1,191.9V198.5M246.4,192.9V198.3M246.7,193.6V199.6M247.0,192.6V199.0M247.3,192.1V195.4M247.6,194.8V200.0M247.9,196.6V202.4M248.2,195.3V200.1M248.5,192.6V197.9M248.8,196.1V200.5M249.1,198.2V202.6M249.4,193.5V197.0M249.7,194.4V199.4M250.0,210.4V214.9M250.3,193.7V199.3M250.6,193.3V199.8M250.9,195.4V199.0M251.2,194.4V198.6M251.5,192.0V196.9M251.8,197.1V201.9M252.1,194.2V199.8M252.4,194.0V198.3M252.7,195.1V200.4M253.0,193.0V200.0M253.3,194.4V199.1M253.6,195.1V202.6M253.9,194.5V200.9M254.2,198.2V202.4M254.5,192.8V198.6M254.8,192.8V197.2M255.1,190.0V195.7M255.4,192.4V196.4M255.7,196.7V201.0M256.0,196.3V200.2M256.6,192.6V197.3M256.9,195.2V200.1M257.5,193.4V199.9M257.8,194.9V200.1M258.1,193.9V200.4M258.4,192.5V197.5M258.7,194.7V198.7M259.0,193.8V199.4M259.6,193.5V197.5M259.9,195.2V199.2M260.2,193.2V198.7M260.5,192.9V196.6M260.8,198.4V202.9M261.1,194.7V199.9M261.4,197.1V201.1M262.0,191.4V196.8M262.3,195.0V201.0M262.9,194.2V200.3M263.2,194.2V197.1M263.5,196.9V201.0M263.8,191.5V197.5M264.4,195.8V199.7M264.7,192.6V197.8M265.0,197.2V199.9M265.3,195.1V197.9M265.6,193.3V198.0M265.9,193.7V197.1M266.2,195.3V199.9M266.5,193.6V199.3M266.8,192.8V199.5M267.1,192.1V196.2M267.4,196.9V202.0M267.7,193.0V197.1M268.0,197.4V202.8M268.6,197.0V201.3M268.9,198.0V201.1M269.2,196.1V200.1M269.5,196.2V199.1M269.8,197.2V201.2M270.1,195.3V199.6M270.4,195.5V199.2M270.7,193.0V199.8M271.0,194.0V199.4M271.3,195.2V200.4M271.6,195.0V198.4M271.9,196.9V200.4M272.8,189.3V195.5M273.1,193.0V199.0M273.4,194.0V200.8M273.7,194.5V201.8M274.3,197.3V202.1M274.6,194.2V198.3M274.9,190.6V194.3M275.2,192.4V198.1M275.5,196.9V201.7M275.8,196.3V201.9M276.1,198.2V201.2M276.4,195.9V202.2M276.7,193.7V197.9M277.0,195.9V199.3M277.3,195.4V198.7M277.6,197.8V204.0M277.9,199.1V202.6M278.0,201.0V207.3M278.3,206.4V212.3M278.6,206.9V213.6M278.9,209.5V214.3M279.2,207.6V214.2M279.5,211.0V215.1M279.8,206.4V210.8M280.1,210.6V215.2M280.4,211.7V215.2M280.7,210.6V213.9M281.0,207.9V212.1M281.6,207.1V212.8M281.9,203.9V209.6M282.0,202.5V206.3M283.5,197.8V202.4M283.8,199.5V205.8M284.0,204.8V208.1M284.3,201.0V206.1M284.6,210.6V215.0M285.2,207.2V213.9M285.5,208.2V213.2M285.8,210.3V213.7M286.1,207.7V214.9M286.4,204.8V210.2M286.7,209.8V214.6M287.0,207.2V213.4M287.3,210.2V214.0M287.6,208.0V213.4M287.9,208.1V213.0M288.2,209.0V214.6M288.5,206.2V211.9M289.1,208.4V214.0M289.4,209.7V213.5M289.7,209.9V217.0M290.3,207.6V214.4M290.6,206.7V211.1M290.9,207.1V211.4M291.2,207.6V211.2M292.1,209.3V213.3M292.7,205.2V211.2M293.6,194.5V201.7M293.9,193.1V199.4M294.2,194.2V199.2M294.5,192.8V197.6M294.8,193.4V198.3M295.1,209.3V214.2M295.4,192.6V199.5M295.7,194.3V201.7M296.0,197.0V200.8M296.3,193.3V197.5M296.6,195.4V201.7M296.9,194.4V198.5M297.2,194.5V200.9M297.5,195.1V200.7M297.8,194.2V199.4M298.1,195.2V199.3M298.4,194.0V197.7M298.7,197.5V203.6M299.3,193.9V198.8M299.6,179.4V184.3M299.9,197.2V202.1M300.5,193.0V198.4M300.8,192.8V198.3M301.1,194.2V198.7M301.4,194.0V198.7M301.7,193.2V197.2M302.0,196.3V200.8M302.3,195.0V200.4M302.9,194.5V200.8M303.2,195.8V199.5M303.8,192.4V197.6M304.7,194.3V199.0M305.0,194.6V198.9M305.3,193.1V200.2M305.6,195.7V200.5M306.2,196.0V200.2M306.5,193.1V197.8M306.8,194.0V199.2M307.1,193.4V197.9M307.7,195.5V199.2M308.0,194.0V197.9M308.3,195.0V198.0M308.6,193.7V200.2M308.9,195.8V201.4M309.5,193.5V199.4M310.1,193.5V198.6M310.4,193.6V197.6M310.7,192.2V196.8M311.0,192.8V198.8M311.3,191.9V196.6M311.6,196.3V199.6M311.9,199.3V203.4M312.5,197.8V204.2M312.8,193.0V198.0M313.4,192.0V197.0M313.7,195.2V201.0M314.0,197.7V203.0M314.3,193.4V197.6M314.9,194.5V198.1M315.2,195.6V200.9M315.5,196.0V199.8M315.8,191.9V196.0M316.1,196.1V200.9M316.7,195.7V200.1M317.0,196.0V200.1M317.3,194.7V199.9M317.6,191.6V194.8M317.9,194.3V197.3M318.0,187.4V192.4M318.3,187.3V191.7M318.6,182.2V186.9M318.9,186.1V190.9M319.2,209.6V213.2M319.5,183.0V186.3M319.8,183.4V189.2M320.1,183.4V189.1M320.4,184.7V188.1M320.7,179.9V186.3M321.3,183.3V188.3M321.6,184.9V190.9M321.9,180.3V186.5M322.2,180.5V186.2M322.5,182.1V186.8M322.8,180.6V185.6M323.1,182.1V189.1M323.4,182.9V188.0M324.3,182.2V187.3M324.6,185.2V188.8M324.9,182.0V187.4M325.2,179.3V184.1M325.5,181.9V189.3M325.8,185.1V187.9M326.1,181.1V188.2M326.4,183.8V188.0M326.7,183.8V188.1M327.3,182.7V188.1M327.6,184.5V187.3M327.9,182.9V188.1M328.2,183.3V190.1M328.5,185.5V189.5M328.8,185.8V189.7M329.1,177.3V182.5M329.7,184.6V190.2M330.0,183.3V187.6M330.3,185.1V188.8M330.9,182.0V187.6M331.2,180.4V185.0M331.5,184.0V188.5M331.8,184.7V188.4M332.1,183.9V187.0M332.4,182.7V188.1M332.7,182.4V187.2M333.0,185.6V188.5M333.3,180.7V184.8M333.6,182.8V187.1M333.9,182.8V189.3M334.2,181.7V183.8M334.5,185.3V191.6M334.8,190.9V195.2M335.0,187.8V193.7M335.3,188.8V193.4M335.6,191.8V196.3M335.9,196.9V201.3M336.2,193.5V196.4M336.5,195.0V198.4M336.8,195.3V199.2M337.4,195.4V199.3M337.7,196.0V200.8M338.9,194.5V200.2M339.2,195.2V198.9M339.5,194.4V197.7M339.8,196.0V202.5M340.1,192.8V198.6M340.7,194.6V199.9M341.3,195.9V201.0M341.6,194.0V199.0M341.9,193.5V198.3M342.2,193.3V197.9M342.5,193.9V200.8M342.8,195.1V200.2M343.1,195.4V200.3M343.4,193.7V197.1M343.7,198.0V200.3M344.0,194.7V198.8M344.3,195.7V199.5M344.6,194.6V199.9M344.9,193.6V197.9M345.2,197.3V201.3M345.5,196.6V200.2M345.8,193.3V196.1M346.1,195.4V200.0M346.7,194.7V200.0M347.0,195.1V199.9M347.3,197.8V200.8M347.6,196.3V198.8M347.9,195.8V199.0M348.2,195.0V199.1M348.5,197.5V202.1M348.8,192.8V199.0M349.1,195.8V200.7M349.4,195.0V198.7M349.7,194.0V196.6M350.0,191.9V197.1M350.3,193.2V198.1M350.6,193.0V200.1M351.2,192.7V198.0M351.5,195.3V201.2M351.8,192.2V198.3M352.1,193.0V198.6M352.4,199.5V202.7M353.0,202.1V207.7M353.3,204.4V209.6M353.6,206.1V211.9M353.9,207.4V211.7M354.2,211.7V215.4M354.5,210.8V215.4M354.8,208.5V213.6M355.1,210.6V215.4M355.7,203.6V208.4M356.3,199.2V202.9M356.6,195.2V200.2M356.9,192.1V196.8M357.2,191.4V196.4M358.1,205.0V211.0M358.4,206.6V211.3M358.7,197.0V200.9M359.0,196.2V199.3M359.3,196.9V200.3M359.6,190.3V195.6M359.9,189.9V194.8M360.0,186.3V191.6M360.3,181.7V186.3M360.6,179.8V183.7M360.9,178.0V182.6M361.2,180.5V185.2M361.5,179.6V183.5M361.8,179.1V184.1M362.7,177.7V183.0M363.0,179.7V184.0M363.3,178.0V184.8M363.6,177.1V182.7M363.9,177.2V182.8M364.2,182.0V186.5M364.5,179.3V183.6M364.8,179.4V183.1M365.1,177.4V183.9M365.4,181.4V184.9M365.7,181.7V186.4M366.0,180.0V183.4M366.6,180.9V185.8M366.9,177.6V182.3M367.5,184.9V189.7M367.8,175.5V179.8M368.1,180.4V186.5M368.4,178.3V182.8M368.7,178.2V182.5M369.0,178.3V182.0M369.3,179.0V184.6M369.9,181.4V184.5M370.2,179.9V186.7M370.8,179.7V183.9M371.1,179.8V185.1M371.4,180.6V184.6M371.7,180.3V187.1M372.0,176.7V182.7M372.3,178.8V183.7M372.6,178.7V184.1M372.9,181.2V186.9M373.2,180.0V183.3M373.5,180.6V185.1M373.8,181.0V186.4M374.1,180.3V186.1M374.4,180.0V185.4M375.3,180.7V185.3M375.6,183.5V188.4M375.9,186.5V189.1M376.0,189.6V194.3M376.3,193.3V199.1M376.6,196.3V200.3M377.2,196.8V200.8M377.5,195.9V199.3M377.8,194.7V198.5M378.1,190.8V196.1M378.4,198.0V201.5M379.0,205.8V210.2M379.3,208.5V211.3M379.6,208.7V212.4M379.9,208.4V211.7M380.2,209.1V214.0M380.5,211.2V214.7M380.8,208.4V212.2M381.1,209.4V214.4M382.0,190.2V195.5M382.3,186.4V189.7M382.6,182.3V186.6M382.9,178.2V184.4M383.2,181.6V185.1M383.5,179.5V183.5M384.1,182.7V186.2M384.4,180.7V184.4M384.7,177.4V184.5M385.6,186.1V192.5M385.9,192.8V200.1M386.0,195.6V199.9M386.3,202.8V207.3M386.6,209.4V212.4M386.9,210.0V213.3M387.2,207.6V212.4M387.5,207.0V211.9M387.8,203.1V208.6M388.0,202.0V205.4M388.3,196.4V200.5M388.9,195.5V200.0M389.2,194.8V199.3M389.8,194.2V200.2M390.1,195.8V198.5M390.4,191.3V195.6M390.7,190.7V197.5M391.0,194.4V198.8M391.3,194.9V199.2" stroke="#f39a22" stroke-width="0.5" fill="none"/>
<path d="M105.4,179.2V190.8M111.3,195.3V186.8M116.4,182.3V190.6M118.3,193.3V179.2M125.0,207.9V217.3M128.0,209.7V196.5M131.9,211.1V225.0M132.8,210.5V203.9M134.3,210.5V214.8M135.2,211.6V222.6M137.0,210.7V205.8M137.9,214.1V209.7M138.8,209.0V204.1M139.1,209.4V214.7M140.6,210.1V219.2M144.5,213.6V223.9M146.6,211.0V221.1M146.9,210.5V196.4M147.8,210.0V223.7M150.2,210.5V204.1M150.8,214.1V206.0M157.8,195.8V208.8M159.0,195.4V201.6M164.7,198.7V213.4M165.6,196.4V189.5M169.2,198.9V184.9M174.6,197.9V208.7M177.3,209.5V202.3M178.2,212.1V202.8M182.4,211.7V218.8M183.0,209.2V203.0M184.8,206.7V215.6M187.7,196.3V205.6M190.7,196.6V181.9M193.1,194.7V208.6M194.9,197.6V185.5M195.8,197.9V203.8M198.8,197.0V203.1M200.3,196.9V185.0M201.8,197.8V208.4M203.3,199.3V213.6M207.2,196.0V208.6M209.0,196.8V190.0M211.7,194.9V181.3M213.8,197.1V211.5M215.0,189.3V179.5M217.4,188.4V196.0M221.6,198.2V186.6M223.4,196.7V190.4M223.7,197.4V207.2M226.8,212.0V226.7M232.5,213.0V227.3M235.5,210.6V214.8M236.1,210.4V223.1M236.7,210.4V200.9M237.6,205.5V191.6M238.3,202.4V206.5M238.9,197.7V207.5M239.2,200.2V193.7M239.8,198.6V208.1M241.3,196.3V186.8M245.8,197.0V204.1M246.4,195.3V199.9M247.9,198.2V209.1M249.4,195.5V188.5M258.4,196.8V186.8M259.9,197.7V189.9M260.2,195.8V188.7M265.0,197.3V183.5M265.3,196.9V207.7M265.6,195.9V201.4M266.8,196.3V203.6M267.1,193.7V184.7M268.3,196.2V185.0M269.2,198.3V190.9M269.5,198.3V193.1M269.8,197.4V190.2M276.1,198.3V189.1M278.0,204.7V218.1M278.3,208.3V216.3M278.6,211.1V196.5M279.2,210.1V214.9M281.0,211.5V223.4M281.9,206.0V194.8M283.5,198.3V194.1M284.3,206.0V201.9M286.7,212.1V216.2M287.0,210.9V202.9M290.3,211.1V215.7M296.3,196.2V189.2M297.8,197.0V206.6M299.0,211.2V225.1M300.5,196.9V201.7M301.1,196.2V204.4M301.4,195.9V208.8M304.4,196.5V211.4M306.8,196.5V182.9M308.3,196.3V187.6M312.2,198.2V204.8M312.5,199.6V205.6M312.8,195.2V210.2M316.4,197.8V207.7M317.9,195.3V181.7M322.8,186.5V192.1M327.3,184.1V176.3M327.6,185.3V172.9M327.9,184.8V176.7M329.4,184.3V189.4M330.0,186.2V198.1M330.9,185.9V192.8M339.8,198.2V210.6M341.0,196.9V211.6M342.8,197.5V202.4M343.4,195.1V185.9M344.9,196.2V187.3M346.7,198.4V193.9M347.3,199.5V192.0M348.8,196.0V207.0M352.4,201.0V190.0M354.2,213.6V228.0M357.2,195.2V188.9M359.9,191.9V201.5M362.4,183.1V171.1M363.0,180.8V174.9M369.6,182.9V192.5M371.7,182.0V170.2M374.4,181.1V176.9M374.7,182.0V171.4M376.9,196.4V210.0M378.7,203.2V217.8M381.1,212.4V202.6M381.4,204.5V216.8M385.6,189.5V198.0M386.0,198.6V185.2M387.8,205.3V193.8M388.6,196.8V183.7M389.5,198.7V212.1" stroke="#f39a22" stroke-width="0.5" fill="none" stroke-opacity="0.85"/>
<path d="M101.3,209.8 V225.8 H159.6" fill="none" stroke="#000" stroke-width="1.3"/>
<text transform="translate(99.2,216.7) rotate(-90)" font-size="8.2" fill="#000" text-anchor="middle" textLength="19.5" lengthAdjust="spacingAndGlyphs">10 nm</text>
<text x="110.1" y="235.3" font-size="8.4" fill="#000" font-weight="normal" text-anchor="middle" textLength="14.3" lengthAdjust="spacingAndGlyphs" stroke="#000" stroke-width="0.2" >60 s</text>
<text x="206.5" y="236.3" font-size="7.6" fill="#000" font-weight="normal" text-anchor="middle" stroke="#000" stroke-width="0.2" >Three-state transitions</text>
<path d="M398.80,172.00 L398.81,172.00 L398.81,172.25 L398.82,172.50 L398.82,172.75 L398.83,173.00 L398.85,173.25 L398.87,173.50 L398.89,173.75 L398.92,174.00 L398.96,174.25 L399.01,174.50 L399.08,174.75 L399.16,175.00 L399.27,175.25 L399.40,175.50 L399.56,175.75 L399.75,176.00 L399.98,176.25 L400.25,176.50 L400.57,176.75 L400.94,177.00 L401.36,177.25 L401.84,177.50 L402.38,177.75 L402.97,178.00 L403.61,178.25 L404.30,178.50 L405.04,178.75 L405.81,179.00 L406.60,179.25 L407.40,179.50 L408.20,179.75 L408.97,180.00 L409.72,180.25 L410.41,180.50 L411.03,180.75 L411.58,181.00 L412.02,181.25 L412.37,181.50 L412.60,181.75 L412.71,182.00 L412.70,182.25 L412.57,182.50 L412.33,182.75 L411.99,183.00 L411.55,183.25 L411.03,183.50 L410.45,183.75 L409.82,184.00 L409.15,184.25 L408.47,184.50 L407.78,184.75 L407.11,185.00 L406.46,185.25 L405.85,185.50 L405.28,185.75 L404.75,186.00 L404.28,186.25 L403.87,186.50 L403.50,186.75 L403.19,187.00 L402.93,187.25 L402.71,187.50 L402.54,187.75 L402.40,188.00 L402.30,188.25 L402.22,188.50 L402.17,188.75 L402.13,189.00 L402.12,189.25 L402.14,189.50 L402.17,189.75 L402.23,190.00 L402.32,190.25 L402.46,190.50 L402.66,190.75 L402.92,191.00 L403.28,191.25 L403.75,191.50 L404.35,191.75 L405.12,192.00 L406.07,192.25 L407.25,192.50 L408.66,192.75 L410.33,193.00 L412.27,193.25 L414.48,193.50 L416.97,193.75 L419.69,194.00 L422.64,194.25 L425.74,194.50 L428.94,194.75 L432.16,195.00 L435.32,195.25 L438.32,195.50 L441.07,195.75 L443.47,196.00 L445.43,196.25 L446.89,196.50 L447.79,196.75 L448.10,197.00 L447.79,197.25 L446.89,197.50 L445.43,197.75 L443.47,198.00 L441.07,198.25 L438.32,198.50 L435.32,198.75 L432.17,199.00 L428.94,199.25 L425.74,199.50 L422.64,199.75 L419.70,200.00 L416.97,200.25 L414.49,200.50 L412.27,200.75 L410.33,201.00 L408.66,201.25 L407.26,201.50 L406.09,201.75 L405.14,202.00 L404.38,202.25 L403.79,202.50 L403.33,202.75 L402.99,203.00 L402.75,203.25 L402.59,203.50 L402.49,203.75 L402.45,204.00 L402.45,204.25 L402.48,204.50 L402.56,204.75 L402.68,205.00 L402.83,205.25 L403.03,205.50 L403.27,205.75 L403.56,206.00 L403.90,206.25 L404.30,206.50 L404.75,206.75 L405.27,207.00 L405.85,207.25 L406.48,207.50 L407.16,207.75 L407.89,208.00 L408.65,208.25 L409.43,208.50 L410.23,208.75 L411.01,209.00 L411.77,209.25 L412.48,209.50 L413.14,209.75 L413.71,210.00 L414.18,210.25 L414.55,210.50 L414.79,210.75 L414.90,211.00 L414.88,211.25 L414.71,211.50 L414.42,211.75 L413.99,212.00 L413.44,212.25 L412.79,212.50 L412.05,212.75 L411.24,213.00 L410.37,213.25 L409.46,213.50 L408.54,213.75 L407.61,214.00 L406.70,214.25 L405.82,214.50 L404.98,214.75 L404.20,215.00 L403.46,215.25 L402.80,215.50 L402.19,215.75 L401.65,216.00 L401.18,216.25 L400.76,216.50 L400.41,216.75 L400.10,217.00 L399.85,217.25 L399.63,217.50 L399.46,217.75 L399.31,218.00 L399.20,218.25 L399.11,218.50 L399.03,218.75 L398.97,219.00 L398.93,219.25 L398.90,219.50 L398.87,219.75 L398.85,220.00 L398.84,220.25 L398.83,220.50 L398.82,220.75 L398.81,221.00 L398.80,221.00 Z" fill="#e9954e" stroke="none"/>
<polyline points="398.81,172.00 398.81,172.25 398.82,172.50 398.82,172.75 398.83,173.00 398.85,173.25 398.87,173.50 398.89,173.75 398.92,174.00 398.96,174.25 399.01,174.50 399.08,174.75 399.16,175.00 399.27,175.25 399.40,175.50 399.56,175.75 399.75,176.00 399.98,176.25 400.25,176.50 400.57,176.75 400.94,177.00 401.36,177.25 401.84,177.50 402.38,177.75 402.97,178.00 403.61,178.25 404.30,178.50 405.04,178.75 405.81,179.00 406.60,179.25 407.40,179.50 408.20,179.75 408.97,180.00 409.72,180.25 410.41,180.50 411.03,180.75 411.58,181.00 412.02,181.25 412.37,181.50 412.60,181.75 412.71,182.00 412.70,182.25 412.57,182.50 412.33,182.75 411.99,183.00 411.55,183.25 411.03,183.50 410.45,183.75 409.82,184.00 409.15,184.25 408.47,184.50 407.78,184.75 407.11,185.00 406.46,185.25 405.85,185.50 405.28,185.75 404.75,186.00 404.28,186.25 403.87,186.50 403.50,186.75 403.19,187.00 402.93,187.25 402.71,187.50 402.54,187.75 402.40,188.00 402.30,188.25 402.22,188.50 402.17,188.75 402.13,189.00 402.12,189.25 402.14,189.50 402.17,189.75 402.23,190.00 402.32,190.25 402.46,190.50 402.66,190.75 402.92,191.00 403.28,191.25 403.75,191.50 404.35,191.75 405.12,192.00 406.07,192.25 407.25,192.50 408.66,192.75 410.33,193.00 412.27,193.25 414.48,193.50 416.97,193.75 419.69,194.00 422.64,194.25 425.74,194.50 428.94,194.75 432.16,195.00 435.32,195.25 438.32,195.50 441.07,195.75 443.47,196.00 445.43,196.25 446.89,196.50 447.79,196.75 448.10,197.00 447.79,197.25 446.89,197.50 445.43,197.75 443.47,198.00 441.07,198.25 438.32,198.50 435.32,198.75 432.17,199.00 428.94,199.25 425.74,199.50 422.64,199.75 419.70,200.00 416.97,200.25 414.49,200.50 412.27,200.75 410.33,201.00 408.66,201.25 407.26,201.50 406.09,201.75 405.14,202.00 404.38,202.25 403.79,202.50 403.33,202.75 402.99,203.00 402.75,203.25 402.59,203.50 402.49,203.75 402.45,204.00 402.45,204.25 402.48,204.50 402.56,204.75 402.68,205.00 402.83,205.25 403.03,205.50 403.27,205.75 403.56,206.00 403.90,206.25 404.30,206.50 404.75,206.75 405.27,207.00 405.85,207.25 406.48,207.50 407.16,207.75 407.89,208.00 408.65,208.25 409.43,208.50 410.23,208.75 411.01,209.00 411.77,209.25 412.48,209.50 413.14,209.75 413.71,210.00 414.18,210.25 414.55,210.50 414.79,210.75 414.90,211.00 414.88,211.25 414.71,211.50 414.42,211.75 413.99,212.00 413.44,212.25 412.79,212.50 412.05,212.75 411.24,213.00 410.37,213.25 409.46,213.50 408.54,213.75 407.61,214.00 406.70,214.25 405.82,214.50 404.98,214.75 404.20,215.00 403.46,215.25 402.80,215.50 402.19,215.75 401.65,216.00 401.18,216.25 400.76,216.50 400.41,216.75 400.10,217.00 399.85,217.25 399.63,217.50 399.46,217.75 399.31,218.00 399.20,218.25 399.11,218.50 399.03,218.75 398.97,219.00 398.93,219.25 398.90,219.50 398.87,219.75 398.85,220.00 398.84,220.25 398.83,220.50 398.82,220.75 398.81,221.00" fill="none" stroke="#111" stroke-width="0.9"/>
<line x1="397.6" y1="224.3" x2="415.2" y2="224.3" stroke="#000" stroke-width="1.5" />
<text x="413.8" y="234.9" font-size="7.6" fill="#000" font-weight="normal" text-anchor="middle" stroke="#000" stroke-width="0.2" >500 Counts</text>
<text x="456.6" y="185.20000000000002" font-size="8" fill="#000" font-weight="normal" text-anchor="middle" stroke="#000" stroke-width="0.2" >T</text>
<text x="456.6" y="199.8" font-size="8" fill="#000" font-weight="normal" text-anchor="middle" stroke="#000" stroke-width="0.2" >M</text>
<text x="456.6" y="214.1" font-size="8" fill="#000" font-weight="normal" text-anchor="middle" stroke="#000" stroke-width="0.2" >B</text>
<text x="69.2" y="204.7" font-size="7.8" fill="#000" font-weight="normal" text-anchor="start" stroke="#000" stroke-width="0.2" >0.5</text>
<line x1="69.8" y1="206.8" x2="66.84530957921626" y2="210.8342888437624" stroke="#000" stroke-width="1.1" />
<polygon points="64.60,213.90 65.29,209.07 69.00,211.79" fill="#000"/>
<text x="7" y="284.5" font-size="11" fill="#000" font-weight="bold" text-anchor="start" stroke="#000" stroke-width="0.28" >B</text>
<rect x="41.21" y="395.92" width="6.02" height="3.98" fill="#fcc47a" fill-opacity="0.85" stroke="#fff" stroke-width="0.6"/>
<rect x="53.25" y="364.12" width="6.02" height="35.77" fill="#fcc47a" fill-opacity="0.85" stroke="#fff" stroke-width="0.6"/>
<rect x="59.27" y="301.85" width="6.02" height="98.05" fill="#fcc47a" fill-opacity="0.85" stroke="#fff" stroke-width="0.6"/>
<rect x="65.29" y="317.75" width="6.02" height="82.15" fill="#fcc47a" fill-opacity="0.85" stroke="#fff" stroke-width="0.6"/>
<rect x="71.31" y="370.75" width="6.02" height="29.15" fill="#fcc47a" fill-opacity="0.85" stroke="#fff" stroke-width="0.6"/>
<rect x="83.35" y="393.80" width="6.02" height="6.10" fill="#fcc47a" fill-opacity="0.85" stroke="#fff" stroke-width="0.6"/>
<rect x="83.35" y="389.30" width="6.02" height="10.60" fill="#d2506e" fill-opacity="0.75" stroke="#fff" stroke-width="0.6"/>
<rect x="89.37" y="356.17" width="6.02" height="43.73" fill="#d2506e" fill-opacity="0.75" stroke="#fff" stroke-width="0.6"/>
<rect x="95.39" y="333.65" width="6.02" height="66.25" fill="#d2506e" fill-opacity="0.75" stroke="#fff" stroke-width="0.6"/>
<rect x="101.41" y="333.65" width="6.02" height="66.25" fill="#d2506e" fill-opacity="0.75" stroke="#fff" stroke-width="0.6"/>
<rect x="107.43" y="366.77" width="6.02" height="33.12" fill="#d2506e" fill-opacity="0.75" stroke="#fff" stroke-width="0.6"/>
<rect x="113.45" y="389.30" width="6.02" height="10.60" fill="#d2506e" fill-opacity="0.75" stroke="#fff" stroke-width="0.6"/>
<rect x="128.50" y="366.77" width="6.02" height="33.12" fill="#d2506e" fill-opacity="0.75" stroke="#fff" stroke-width="0.6"/>
<polyline points="42.72,399.87 43.02,399.86 43.32,399.85 43.62,399.83 43.92,399.82 44.22,399.80 44.52,399.78 44.82,399.75 45.12,399.72 45.42,399.68 45.72,399.64 46.03,399.59 46.33,399.52 46.63,399.45 46.93,399.36 47.23,399.26 47.53,399.14 47.83,399.00 48.13,398.84 48.43,398.66 48.73,398.44 49.04,398.19 49.34,397.91 49.64,397.59 49.94,397.22 50.24,396.80 50.54,396.33 50.84,395.80 51.14,395.20 51.44,394.54 51.74,393.79 52.05,392.96 52.35,392.05 52.65,391.03 52.95,389.92 53.25,388.70 53.55,387.36 53.85,385.91 54.15,384.34 54.45,382.64 54.75,380.81 55.06,378.84 55.36,376.75 55.66,374.51 55.96,372.15 56.26,369.65 56.56,367.02 56.86,364.27 57.16,361.40 57.46,358.43 57.76,355.35 58.07,352.18 58.37,348.94 58.67,345.64 58.97,342.29 59.27,338.91 59.57,335.52 59.87,332.14 60.17,328.80 60.47,325.50 60.78,322.28 61.08,319.16 61.38,316.16 61.68,313.30 61.98,310.60 62.28,308.08 62.58,305.78 62.88,303.69 63.18,301.85 63.48,300.26 63.79,298.94 64.09,297.90 64.39,297.15 64.69,296.70 64.99,296.55 65.29,296.70 65.59,297.15 65.89,297.90 66.19,298.94 66.49,300.26 66.80,301.85 67.10,303.69 67.40,305.78 67.70,308.08 68.00,310.60 68.30,313.30 68.60,316.16 68.90,319.16 69.20,322.28 69.50,325.50 69.81,328.80 70.11,332.14 70.41,335.52 70.71,338.91 71.01,342.29 71.31,345.64 71.61,348.94 71.91,352.18 72.21,355.35 72.51,358.43 72.82,361.40 73.12,364.27 73.42,367.02 73.72,369.65 74.02,372.15 74.32,374.51 74.62,376.75 74.92,378.84 75.22,380.81 75.52,382.64 75.83,384.34 76.13,385.91 76.43,387.36 76.73,388.70 77.03,389.92 77.33,391.03 77.63,392.05 77.93,392.96 78.23,393.79 78.53,394.54 78.84,395.20 79.14,395.80 79.44,396.33 79.74,396.80 80.04,397.22 80.34,397.59 80.64,397.91 80.94,398.19 81.24,398.44 81.54,398.66 81.85,398.84 82.15,399.00 82.45,399.14 82.75,399.26 83.05,399.36 83.35,399.45 83.65,399.52 83.95,399.59 84.25,399.64 84.55,399.68 84.86,399.72 85.16,399.75 85.46,399.78 85.76,399.80 86.06,399.82 86.36,399.83 86.66,399.85 86.96,399.86 87.26,399.87 87.56,399.87 87.87,399.88 88.17,399.88 88.47,399.89 88.77,399.89 89.07,399.89" fill="none" stroke="#f39a1e" stroke-width="1.3"/>
<polyline points="74.32,399.73 74.62,399.70 74.92,399.68 75.22,399.65 75.52,399.61 75.83,399.57 76.13,399.53 76.43,399.48 76.73,399.43 77.03,399.37 77.33,399.30 77.63,399.23 77.93,399.15 78.23,399.06 78.53,398.96 78.84,398.85 79.14,398.73 79.44,398.60 79.74,398.45 80.04,398.29 80.34,398.12 80.64,397.92 80.94,397.72 81.24,397.49 81.54,397.24 81.85,396.97 82.15,396.68 82.45,396.37 82.75,396.03 83.05,395.66 83.35,395.27 83.65,394.84 83.95,394.39 84.25,393.90 84.55,393.38 84.86,392.82 85.16,392.23 85.46,391.60 85.76,390.93 86.06,390.22 86.36,389.47 86.66,388.67 86.96,387.83 87.26,386.95 87.56,386.03 87.87,385.06 88.17,384.04 88.47,382.98 88.77,381.87 89.07,380.72 89.37,379.52 89.67,378.28 89.97,377.00 90.27,375.67 90.57,374.31 90.88,372.90 91.18,371.46 91.48,369.99 91.78,368.48 92.08,366.95 92.38,365.39 92.68,363.80 92.98,362.20 93.28,360.58 93.58,358.96 93.89,357.32 94.19,355.68 94.49,354.05 94.79,352.42 95.09,350.81 95.39,349.21 95.69,347.63 95.99,346.08 96.29,344.57 96.59,343.09 96.90,341.66 97.20,340.27 97.50,338.94 97.80,337.67 98.10,336.46 98.40,335.32 98.70,334.26 99.00,333.27 99.30,332.36 99.60,331.54 99.91,330.80 100.21,330.16 100.51,329.61 100.81,329.16 101.11,328.81 101.41,328.55 101.71,328.40 102.01,328.35 102.31,328.40 102.61,328.55 102.92,328.81 103.22,329.16 103.52,329.61 103.82,330.16 104.12,330.80 104.42,331.54 104.72,332.36 105.02,333.27 105.32,334.26 105.62,335.32 105.93,336.46 106.23,337.67 106.53,338.94 106.83,340.27 107.13,341.66 107.43,343.09 107.73,344.57 108.03,346.08 108.33,347.63 108.63,349.21 108.94,350.81 109.24,352.42 109.54,354.05 109.84,355.68 110.14,357.32 110.44,358.96 110.74,360.58 111.04,362.20 111.34,363.80 111.64,365.39 111.95,366.95 112.25,368.48 112.55,369.99 112.85,371.46 113.15,372.90 113.45,374.31 113.75,375.67 114.05,377.00 114.35,378.28 114.65,379.52 114.96,380.72 115.26,381.87 115.56,382.98 115.86,384.04 116.16,385.06 116.46,386.03 116.76,386.95 117.06,387.83 117.36,388.67 117.66,389.47 117.97,390.22 118.27,390.93 118.57,391.60 118.87,392.23 119.17,392.82 119.47,393.38 119.77,393.90 120.07,394.39 120.37,394.84 120.67,395.27 120.98,395.66 121.28,396.03 121.58,396.37 121.88,396.68 122.18,396.97 122.48,397.24 122.78,397.49 123.08,397.72 123.38,397.92 123.68,398.12 123.99,398.29 124.29,398.45 124.59,398.60 124.89,398.73 125.19,398.85 125.49,398.96 125.79,399.06 126.09,399.15 126.39,399.23 126.69,399.30 127.00,399.37 127.30,399.43 127.60,399.48 127.90,399.53 128.20,399.57 128.50,399.61 128.80,399.65 129.10,399.68 129.40,399.70 129.70,399.73" fill="none" stroke="#c8183f" stroke-width="1.3"/>
<line x1="37.6" y1="288" x2="37.6" y2="401" stroke="#111" stroke-width="1.3" />
<line x1="37" y1="400.2" x2="140.5" y2="400.2" stroke="#111" stroke-width="1.3" />
<line x1="34.5" y1="293.9" x2="37.5" y2="293.9" stroke="#222" stroke-width="0.9" />
<text x="31.3" y="296.5" font-size="8.2" fill="#1e1e1e" font-weight="normal" text-anchor="end" textLength="10.26" lengthAdjust="spacingAndGlyphs" stroke="#1e1e1e" stroke-width="0.2" >0.4</text>
<line x1="34.5" y1="320.4" x2="37.5" y2="320.4" stroke="#222" stroke-width="0.9" />
<text x="31.3" y="323.0" font-size="8.2" fill="#1e1e1e" font-weight="normal" text-anchor="end" textLength="10.26" lengthAdjust="spacingAndGlyphs" stroke="#1e1e1e" stroke-width="0.2" >0.3</text>
<line x1="34.5" y1="346.9" x2="37.5" y2="346.9" stroke="#222" stroke-width="0.9" />
<text x="31.3" y="349.5" font-size="8.2" fill="#1e1e1e" font-weight="normal" text-anchor="end" textLength="10.26" lengthAdjust="spacingAndGlyphs" stroke="#1e1e1e" stroke-width="0.2" >0.2</text>
<line x1="34.5" y1="373.4" x2="37.5" y2="373.4" stroke="#222" stroke-width="0.9" />
<text x="31.3" y="376.0" font-size="8.2" fill="#1e1e1e" font-weight="normal" text-anchor="end" textLength="10.26" lengthAdjust="spacingAndGlyphs" stroke="#1e1e1e" stroke-width="0.2" >0.1</text>
<line x1="34.5" y1="399.9" x2="37.5" y2="399.9" stroke="#222" stroke-width="0.9" />
<text x="31.3" y="402.5" font-size="8.2" fill="#1e1e1e" font-weight="normal" text-anchor="end" textLength="4.1" lengthAdjust="spacingAndGlyphs" stroke="#1e1e1e" stroke-width="0.2" >0</text>
<line x1="38.2" y1="399.9" x2="38.2" y2="402.9" stroke="#222" stroke-width="0.9" />
<text x="38.6" y="412.3" font-size="8.1" fill="#1e1e1e" font-weight="normal" text-anchor="middle" textLength="8.11" lengthAdjust="spacingAndGlyphs" stroke="#1e1e1e" stroke-width="0.2" >10</text>
<line x1="68.3" y1="399.9" x2="68.3" y2="402.9" stroke="#222" stroke-width="0.9" />
<text x="68.7" y="412.3" font-size="8.1" fill="#1e1e1e" font-weight="normal" text-anchor="middle" textLength="8.11" lengthAdjust="spacingAndGlyphs" stroke="#1e1e1e" stroke-width="0.2" >20</text>
<line x1="98.4" y1="399.9" x2="98.4" y2="402.9" stroke="#222" stroke-width="0.9" />
<text x="98.80000000000001" y="412.3" font-size="8.1" fill="#1e1e1e" font-weight="normal" text-anchor="middle" textLength="8.11" lengthAdjust="spacingAndGlyphs" stroke="#1e1e1e" stroke-width="0.2" >30</text>
<line x1="128.5" y1="399.9" x2="128.5" y2="402.9" stroke="#222" stroke-width="0.9" />
<text x="128.9" y="412.3" font-size="8.1" fill="#1e1e1e" font-weight="normal" text-anchor="middle" textLength="8.11" lengthAdjust="spacingAndGlyphs" stroke="#1e1e1e" stroke-width="0.2" >40</text>
<text transform="translate(14.2,344.2) rotate(-90)" font-size="8.8" fill="#1a1a1a" stroke="#1a1a1a" stroke-width="0.3" text-anchor="middle" textLength="53" lengthAdjust="spacingAndGlyphs">Relative frequency</text>
<text x="77.3" y="424.6" font-size="9" fill="#1a1a1a" stroke="#1a1a1a" stroke-width="0.3">L<tspan font-size="6.5" dy="1.5">C</tspan><tspan dy="-1.5" textLength="15" lengthAdjust="spacingAndGlyphs"> (nm)</tspan></text>
<rect x="91.5" y="292.2" width="5" height="4.8" fill="#fcc47a"/>
<rect x="91.5" y="301.2" width="5" height="4.8" fill="#d9708a"/>
<text x="100.2" y="297.3" font-size="8" fill="#222" font-weight="normal" text-anchor="start" textLength="29.2" lengthAdjust="spacingAndGlyphs" stroke="#222" stroke-width="0.2" >Wild type</text>
<text x="100.2" y="306.9" font-size="8" fill="#222" font-weight="normal" text-anchor="start" textLength="37.3" lengthAdjust="spacingAndGlyphs" stroke="#222" stroke-width="0.2" >Linker insert</text>
<text x="163" y="284.5" font-size="11" fill="#000" font-weight="bold" text-anchor="start" stroke="#000" stroke-width="0.28" >C</text>
<path d="M187.5,290.90000000000003 V321.9 H302" fill="none" stroke="#111" stroke-width="1.15" stroke-linejoin="round"/>
<line x1="184.5" y1="293.1" x2="187.5" y2="293.1" stroke="#222" stroke-width="0.9" />
<line x1="184.5" y1="320.9" x2="187.5" y2="320.9" stroke="#222" stroke-width="0.9" />
<text x="181.4" y="295.6" font-size="8.2" fill="#1e1e1e" font-weight="normal" text-anchor="end" textLength="4.1" lengthAdjust="spacingAndGlyphs" stroke="#1e1e1e" stroke-width="0.2" >1</text>
<text x="181.4" y="323.4" font-size="8.2" fill="#1e1e1e" font-weight="normal" text-anchor="end" textLength="4.1" lengthAdjust="spacingAndGlyphs" stroke="#1e1e1e" stroke-width="0.2" >0</text>
<line x1="198.9" y1="321.9" x2="198.9" y2="324.4" stroke="#222" stroke-width="0.8" />
<line x1="216.65" y1="321.9" x2="216.65" y2="324.4" stroke="#222" stroke-width="0.8" />
<line x1="234.4" y1="321.9" x2="234.4" y2="324.4" stroke="#222" stroke-width="0.8" />
<line x1="252.15" y1="321.9" x2="252.15" y2="324.4" stroke="#222" stroke-width="0.8" />
<line x1="269.9" y1="321.9" x2="269.9" y2="324.4" stroke="#222" stroke-width="0.8" />
<line x1="287.65" y1="321.9" x2="287.65" y2="324.4" stroke="#222" stroke-width="0.8" />
<text x="299" y="299.8" font-size="8.6" fill="#1e1e1e" font-weight="normal" text-anchor="end" textLength="9.26" lengthAdjust="spacingAndGlyphs" stroke="#1e1e1e" stroke-width="0.2" >E3</text>
<path d="M187.5,329.5 V361.0 H302" fill="none" stroke="#111" stroke-width="1.15" stroke-linejoin="round"/>
<line x1="184.5" y1="331.7" x2="187.5" y2="331.7" stroke="#222" stroke-width="0.9" />
<line x1="184.5" y1="359.7" x2="187.5" y2="359.7" stroke="#222" stroke-width="0.9" />
<text x="181.4" y="334.2" font-size="8.2" fill="#1e1e1e" font-weight="normal" text-anchor="end" textLength="4.1" lengthAdjust="spacingAndGlyphs" stroke="#1e1e1e" stroke-width="0.2" >1</text>
<text x="181.4" y="362.2" font-size="8.2" fill="#1e1e1e" font-weight="normal" text-anchor="end" textLength="4.1" lengthAdjust="spacingAndGlyphs" stroke="#1e1e1e" stroke-width="0.2" >0</text>
<line x1="198.9" y1="361.0" x2="198.9" y2="363.5" stroke="#222" stroke-width="0.8" />
<line x1="216.65" y1="361.0" x2="216.65" y2="363.5" stroke="#222" stroke-width="0.8" />
<line x1="234.4" y1="361.0" x2="234.4" y2="363.5" stroke="#222" stroke-width="0.8" />
<line x1="252.15" y1="361.0" x2="252.15" y2="363.5" stroke="#222" stroke-width="0.8" />
<line x1="269.9" y1="361.0" x2="269.9" y2="363.5" stroke="#222" stroke-width="0.8" />
<line x1="287.65" y1="361.0" x2="287.65" y2="363.5" stroke="#222" stroke-width="0.8" />
<text x="299" y="338.4" font-size="8.6" fill="#1e1e1e" font-weight="normal" text-anchor="end" textLength="15.14" lengthAdjust="spacingAndGlyphs" stroke="#1e1e1e" stroke-width="0.2" >TIL3</text>
<path d="M187.5,368.7 V400.1 H302" fill="none" stroke="#111" stroke-width="1.15" stroke-linejoin="round"/>
<line x1="184.5" y1="370.9" x2="187.5" y2="370.9" stroke="#222" stroke-width="0.9" />
<line x1="184.5" y1="398.8" x2="187.5" y2="398.8" stroke="#222" stroke-width="0.9" />
<text x="181.4" y="373.4" font-size="8.2" fill="#1e1e1e" font-weight="normal" text-anchor="end" textLength="4.1" lengthAdjust="spacingAndGlyphs" stroke="#1e1e1e" stroke-width="0.2" >1</text>
<text x="181.4" y="401.3" font-size="8.2" fill="#1e1e1e" font-weight="normal" text-anchor="end" textLength="4.1" lengthAdjust="spacingAndGlyphs" stroke="#1e1e1e" stroke-width="0.2" >0</text>
<line x1="198.9" y1="400.1" x2="198.9" y2="402.6" stroke="#222" stroke-width="0.8" />
<line x1="216.65" y1="400.1" x2="216.65" y2="402.6" stroke="#222" stroke-width="0.8" />
<line x1="234.4" y1="400.1" x2="234.4" y2="402.6" stroke="#222" stroke-width="0.8" />
<line x1="252.15" y1="400.1" x2="252.15" y2="402.6" stroke="#222" stroke-width="0.8" />
<line x1="269.9" y1="400.1" x2="269.9" y2="402.6" stroke="#222" stroke-width="0.8" />
<line x1="287.65" y1="400.1" x2="287.65" y2="402.6" stroke="#222" stroke-width="0.8" />
<text x="299" y="377.59999999999997" font-size="8.6" fill="#1e1e1e" font-weight="normal" text-anchor="end" textLength="16.4" lengthAdjust="spacingAndGlyphs" stroke="#1e1e1e" stroke-width="0.2" >C8-3</text>
<text x="198.9" y="412.6" font-size="8.1" fill="#1e1e1e" font-weight="normal" text-anchor="middle" textLength="4.05" lengthAdjust="spacingAndGlyphs" stroke="#1e1e1e" stroke-width="0.2" >0</text>
<text x="216.65" y="412.6" font-size="8.1" fill="#1e1e1e" font-weight="normal" text-anchor="middle" textLength="4.05" lengthAdjust="spacingAndGlyphs" stroke="#1e1e1e" stroke-width="0.2" >5</text>
<text x="234.4" y="412.6" font-size="8.1" fill="#1e1e1e" font-weight="normal" text-anchor="middle" textLength="8.11" lengthAdjust="spacingAndGlyphs" stroke="#1e1e1e" stroke-width="0.2" >10</text>
<text x="252.15" y="412.6" font-size="8.1" fill="#1e1e1e" font-weight="normal" text-anchor="middle" textLength="8.11" lengthAdjust="spacingAndGlyphs" stroke="#1e1e1e" stroke-width="0.2" >15</text>
<text x="269.9" y="412.6" font-size="8.1" fill="#1e1e1e" font-weight="normal" text-anchor="middle" textLength="8.11" lengthAdjust="spacingAndGlyphs" stroke="#1e1e1e" stroke-width="0.2" >20</text>
<text x="287.65" y="412.6" font-size="8.1" fill="#1e1e1e" font-weight="normal" text-anchor="middle" textLength="8.11" lengthAdjust="spacingAndGlyphs" stroke="#1e1e1e" stroke-width="0.2" >25</text>
<text transform="translate(170.8,345.3) rotate(-90)" font-size="9" fill="#1a1a1a" stroke="#1a1a1a" stroke-width="0.3" text-anchor="middle" textLength="57" lengthAdjust="spacingAndGlyphs">Normalized contacts</text>
<text x="244.2" y="424.7" font-size="8.9" fill="#1a1a1a" stroke="#1a1a1a" stroke-width="0.3" text-anchor="middle" textLength="42.9" lengthAdjust="spacingAndGlyphs">Extension (nm)</text>
<line x1="256.7" y1="290.7" x2="256.7" y2="399" stroke="#111" stroke-width="1.2" stroke-dasharray="2.6,2.4"/>
<line x1="259.4" y1="291.5" x2="259.4" y2="399" stroke="#555" stroke-width="0.75" stroke-dasharray="2.6,2.4"/>
<line x1="215.8" y1="292.3" x2="223.5" y2="292.3" stroke="#f7941d" stroke-width="1.4" />
<text x="227" y="294.7" font-size="8" fill="#1e1e1e" font-weight="normal" text-anchor="start" textLength="19.3" lengthAdjust="spacingAndGlyphs" stroke="#1e1e1e" stroke-width="0.2" >His(0)</text>
<line x1="215.8" y1="302.6" x2="223.5" y2="302.6" stroke="#c8194a" stroke-width="1.4" />
<text x="227" y="305.4" font-size="8" fill="#1e1e1e" font-weight="normal" text-anchor="start" textLength="19.3" lengthAdjust="spacingAndGlyphs" stroke="#1e1e1e" stroke-width="0.2" >His(+)</text>
<path d="M192.20,293.30C192.58,293.32 193.82,292.96 194.50,293.40C195.18,293.84 195.75,295.83 196.30,295.96C196.85,296.09 197.18,294.25 197.80,294.19C198.42,294.12 199.30,295.01 200.00,295.57C200.70,296.13 201.40,297.23 202.00,297.54C202.60,297.85 203.07,296.96 203.60,297.44C204.13,297.92 204.75,299.00 205.20,300.40C205.65,301.79 205.97,303.93 206.30,305.82C206.63,307.71 206.87,310.25 207.20,311.73C207.53,313.21 207.90,314.06 208.30,314.69C208.70,315.31 209.07,314.90 209.60,315.48C210.13,316.05 210.85,317.38 211.50,318.14C212.15,318.89 212.75,319.58 213.50,320.01C214.25,320.44 208.25,320.57 216.00,320.70C223.75,320.83 247.33,320.78 260.00,320.80C272.67,320.82 286.33,320.80 292.00,320.80C297.67,320.80 293.42,320.90 294.00,320.80C294.58,320.70 295.00,320.25 295.50,320.20C296.00,320.15 296.75,320.45 297.00,320.50" fill="none" stroke="#c8194a" stroke-width="1.3" stroke-linejoin="round"/>
<path d="M192.20,293.30C192.58,293.30 193.82,292.82 194.50,293.30C195.18,293.78 195.75,296.08 196.30,296.16C196.85,296.24 197.22,293.86 197.80,293.79C198.38,293.73 199.13,294.99 199.80,295.76C200.47,296.54 201.23,297.47 201.80,298.43C202.37,299.38 202.70,300.86 203.20,301.48C203.70,302.11 204.37,301.45 204.80,302.17C205.23,302.89 205.50,304.22 205.80,305.82C206.10,307.41 206.32,310.17 206.60,311.73C206.88,313.29 207.10,314.23 207.50,315.18C207.90,316.13 208.42,316.78 209.00,317.45C209.58,318.12 210.25,318.71 211.00,319.22C211.75,319.73 212.58,320.24 213.50,320.50C214.42,320.77 208.75,320.75 216.50,320.80C224.25,320.85 247.03,320.80 260.00,320.80C272.97,320.80 288.58,320.80 294.30,320.80" fill="none" stroke="#f7941d" stroke-width="1.3" stroke-linejoin="round"/>
<path d="M192.20,332.20C194.50,332.22 203.37,332.04 206.00,332.30C208.63,332.56 207.25,333.48 208.00,333.75C208.75,334.03 209.67,333.75 210.50,333.95C211.33,334.14 212.25,334.53 213.00,334.92C213.75,335.31 214.42,335.75 215.00,336.28C215.58,336.82 215.92,336.73 216.50,338.13C217.08,339.52 217.83,342.26 218.50,344.64C219.17,347.02 219.83,350.26 220.50,352.41C221.17,354.57 221.75,356.40 222.50,357.56C223.25,358.73 224.25,359.05 225.00,359.41C225.75,359.76 221.17,359.65 227.00,359.70C232.83,359.75 249.17,359.70 260.00,359.70C270.83,359.70 286.33,359.70 292.00,359.70C297.67,359.70 293.42,359.80 294.00,359.70C294.58,359.60 295.00,359.15 295.50,359.10C296.00,359.05 296.75,359.35 297.00,359.40" fill="none" stroke="#c8194a" stroke-width="1.3" stroke-linejoin="round"/>
<path d="M192.20,332.20C194.50,332.20 203.37,332.04 206.00,332.20C208.63,332.36 207.33,333.04 208.00,333.17C208.67,333.30 209.17,332.94 210.00,332.98C210.83,333.01 212.17,333.12 213.00,333.37C213.83,333.61 214.28,333.93 215.00,334.43C215.72,334.94 216.63,335.00 217.30,336.38C217.97,337.76 218.47,340.51 219.00,342.69C219.53,344.88 220.00,347.39 220.50,349.50C221.00,351.60 221.50,353.84 222.00,355.33C222.50,356.82 222.83,357.72 223.50,358.44C224.17,359.15 225.25,359.39 226.00,359.60C226.75,359.81 222.33,359.68 228.00,359.70C233.67,359.72 248.95,359.70 260.00,359.70C271.05,359.70 288.58,359.70 294.30,359.70" fill="none" stroke="#f7941d" stroke-width="1.3" stroke-linejoin="round"/>
<path d="M192.20,371.60C192.40,371.70 193.00,372.09 193.40,372.19C193.80,372.29 194.20,372.32 194.60,372.20C195.00,372.08 195.40,371.54 195.80,371.48C196.20,371.41 196.60,371.79 197.00,371.81C197.40,371.84 197.80,371.54 198.20,371.63C198.60,371.72 199.00,372.39 199.40,372.36C199.80,372.34 200.20,371.66 200.60,371.48C201.00,371.29 201.40,371.25 201.80,371.25C202.20,371.24 202.60,371.29 203.00,371.46C203.40,371.64 203.80,372.24 204.20,372.31C204.60,372.39 205.00,371.97 205.40,371.93C205.80,371.89 206.20,372.09 206.60,372.07C207.00,372.04 207.40,371.78 207.80,371.78C208.20,371.77 208.60,372.05 209.00,372.03C209.40,372.02 209.80,371.74 210.20,371.71C210.60,371.67 211.00,371.78 211.40,371.82C211.80,371.87 212.20,371.92 212.60,371.97C213.00,372.02 213.40,372.08 213.80,372.14C214.20,372.20 214.60,372.34 215.00,372.31C215.40,372.28 215.80,371.98 216.20,371.96C216.60,371.93 217.00,372.27 217.40,372.18C217.80,372.08 218.20,371.51 218.60,371.39C219.00,371.27 219.40,371.29 219.80,371.44C220.20,371.59 220.60,372.31 221.00,372.28C221.40,372.25 221.80,371.37 222.20,371.28C222.60,371.19 223.00,371.71 223.40,371.74C223.80,371.78 224.20,371.47 224.60,371.49C225.00,371.50 225.50,371.66 225.80,371.84C226.10,372.03 225.87,372.23 226.40,372.58C226.93,372.93 227.98,373.32 229.00,373.96C230.02,374.60 231.58,375.47 232.50,376.42C233.42,377.38 233.83,378.48 234.50,379.68C235.17,380.88 235.83,382.68 236.50,383.62C237.17,384.56 237.83,384.34 238.50,385.30C239.17,386.25 239.87,387.61 240.50,389.34C241.13,391.06 241.72,394.20 242.30,395.65C242.88,397.09 243.30,397.49 244.00,398.01C244.70,398.54 243.83,398.67 246.50,398.80C249.17,398.93 252.42,398.80 260.00,398.80C267.58,398.80 286.33,398.80 292.00,398.80C297.67,398.80 293.42,398.90 294.00,398.80C294.58,398.70 295.00,398.25 295.50,398.20C296.00,398.15 296.75,398.45 297.00,398.50" fill="none" stroke="#c8194a" stroke-width="1.3" stroke-linejoin="round"/>
<path d="M192.70,371.16C192.90,371.28 193.50,371.92 193.90,371.88C194.30,371.84 194.70,370.94 195.10,370.93C195.50,370.91 195.90,371.61 196.30,371.78C196.70,371.95 197.10,372.02 197.50,371.94C197.90,371.85 198.30,371.31 198.70,371.29C199.10,371.26 199.50,371.72 199.90,371.76C200.30,371.80 200.70,371.65 201.10,371.54C201.50,371.42 201.90,371.09 202.30,371.07C202.70,371.05 203.10,371.44 203.50,371.42C203.90,371.40 204.30,371.00 204.70,370.96C205.10,370.91 205.50,371.18 205.90,371.17C206.30,371.16 206.70,370.92 207.10,370.89C207.50,370.87 207.90,370.86 208.30,371.02C208.70,371.18 209.10,371.79 209.50,371.85C209.90,371.92 210.30,371.41 210.70,371.41C211.10,371.40 211.50,371.84 211.90,371.83C212.30,371.82 212.70,371.46 213.10,371.35C213.50,371.24 213.90,371.16 214.30,371.17C214.70,371.18 215.10,371.37 215.50,371.38C215.90,371.39 216.30,371.14 216.70,371.23C217.10,371.33 217.50,372.02 217.90,371.96C218.30,371.89 218.70,371.00 219.10,370.85C219.50,370.69 219.90,371.00 220.30,371.04C220.70,371.08 221.10,371.00 221.50,371.07C221.90,371.13 222.30,371.37 222.70,371.41C223.10,371.44 223.50,371.34 223.90,371.27C224.30,371.19 224.68,370.78 225.10,370.95C225.52,371.12 225.85,371.88 226.40,372.28C226.95,372.69 227.63,372.84 228.40,373.37C229.17,373.89 230.27,374.60 231.00,375.44C231.73,376.28 232.30,377.00 232.80,378.40C233.30,379.79 233.55,381.68 234.00,383.82C234.45,385.95 234.92,389.27 235.50,391.21C236.08,393.15 236.75,394.38 237.50,395.45C238.25,396.52 239.25,397.09 240.00,397.62C240.75,398.14 241.33,398.41 242.00,398.60C242.67,398.80 241.00,398.77 244.00,398.80C247.00,398.83 251.62,398.80 260.00,398.80C268.38,398.80 288.58,398.80 294.30,398.80" fill="none" stroke="#f7941d" stroke-width="1.3" stroke-linejoin="round"/>
<text x="202.6" y="312.2" font-size="7.4" fill="#666" font-weight="normal" text-anchor="middle" stroke="#666" stroke-width="0.2" >ii</text>
<text x="215" y="351.7" font-size="7.4" fill="#666" font-weight="normal" text-anchor="middle" stroke="#666" stroke-width="0.2" >iii</text>
<text x="245.9" y="388.2" font-size="7.6" fill="#666" font-weight="normal" text-anchor="middle" stroke="#666" stroke-width="0.2" >iv</text>
<text x="322.6" y="297.2" font-size="7.5" fill="#222" text-anchor="start" >i</text>
<text x="336.2" y="297" font-size="8" fill="#222" text-anchor="start" font-style="italic">F</text>
<line x1="349" y1="300.8" x2="337.10" y2="300.80" stroke="#111" stroke-width="1.1"/>
<polygon points="333.60,300.80 337.60,298.90 337.60,302.70" fill="#111"/>
<text x="319.3" y="310" font-size="8.3" fill="#36ade2" text-anchor="start" textLength="36" lengthAdjust="spacingAndGlyphs">N terminus</text>
<circle cx="350.1" cy="300.6" r="1.5" fill="#36ade2"/>
<path d="M351.5,300.6L356,300.3" stroke="#777" stroke-width="0.6" fill="none"/>
<path d="M356.0,300.5C356.2,300.3 357.7,300.1 357.5,299.5C357.3,298.9 355.9,298.2 355.0,297.0C354.1,295.8 352.7,293.9 352.3,292.5C351.9,291.1 352.0,289.3 352.6,288.3C353.2,287.3 354.8,286.5 356.0,286.4C357.2,286.3 359.4,286.9 360.0,287.8C360.6,288.7 360.4,290.6 359.8,291.5C359.2,292.4 356.9,292.4 356.5,293.2C356.1,294.0 356.6,295.8 357.5,296.2C358.4,296.6 360.6,295.7 362.0,295.3C363.4,294.9 364.9,293.5 366.0,293.6C367.1,293.8 368.3,295.3 368.3,296.2C368.3,297.1 367.2,298.5 366.2,299.2C365.2,299.9 362.5,299.7 362.3,300.2C362.1,300.7 363.7,302.1 364.8,302.3C365.9,302.5 368.1,300.9 369.0,301.2C369.9,301.4 369.9,303.6 370.5,303.8C371.1,304.0 372.2,302.6 372.5,302.3" fill="none" stroke="#888" stroke-width="0.65"/>
<path d="M358.0,289.5C358.6,289.7 360.5,290.6 361.5,290.5C362.5,290.4 363.2,288.9 364.0,289.0C364.8,289.1 366.5,290.2 366.5,291.0C366.5,291.8 365.0,293.0 364.0,293.5C363.0,294.0 361.1,293.9 360.5,294.0" fill="none" stroke="#999" stroke-width="0.55"/>
<path d="M361.5,302.5 L364.5,300.8 L367.5,303.8 L369.8,301.5 M363.5,304.5 L366.5,305.5" fill="none" stroke="#333" stroke-width="0.8"/>
<path d="M363,309.5L372,303.8" stroke="#9a9a9a" stroke-width="0.6" fill="none"/>
<path d="M361.5,318.8L386.5,321" stroke="#666" stroke-width="0.7" fill="none"/>
<path d="M381.4,292.5 381.5,292.5 381.6,292.6 381.7,292.7 381.8,292.8 381.8,292.9 381.8,293.0 381.7,293.1 381.6,293.3 381.5,293.5 381.3,293.7 381.1,293.9 380.8,294.1 380.5,294.4 380.2,294.6 379.8,294.9 379.4,295.2 379.0,295.4 378.5,295.7 378.1,295.9 377.7,296.2 377.2,296.4 376.9,296.5 376.5,296.7 376.2,296.8 375.9,296.9 375.7,296.9 375.4,296.9 375.3,296.9 375.1,296.9 375.0,296.8 374.9,296.7 374.8,296.6 374.7,296.4 374.7,296.3 374.7,296.1 374.7,295.9 374.7,295.7 374.7,295.6 374.7,295.4 374.8,295.2 374.9,295.1 375.0,294.9 375.1,294.8 375.2,294.7 375.4,294.7 375.6,294.6 375.8,294.6 376.0,294.6 376.2,294.6 376.5,294.6 376.7,294.7 377.0,294.7 377.2,294.8 377.5,294.9 377.7,295.0 377.9,295.1 378.0,295.3 378.2,295.4 378.3,295.5 378.3,295.7 378.3,295.8 378.3,295.9 378.2,296.0 378.1,296.1 378.0,296.2 377.8,296.3 377.6,296.4 377.4,296.4 377.2,296.5 376.9,296.5 376.7,296.6 376.5,296.6 376.2,296.7 376.0,296.7 375.8,296.8 375.7,296.9 375.5,297.0 375.4,297.1 375.3,297.3 375.2,297.5 375.2,297.7 375.1,297.9 375.1,298.2 375.1,298.6 375.2,298.9 375.2,299.3 375.3,299.7 375.4,300.1 375.5,300.5 375.7,300.8 375.9,301.2 376.1,301.5 376.4,301.8 376.7,302.1 377.1,302.3 377.4,302.5 377.9,302.6 378.3,302.8 378.7,302.9 379.2,303.0 379.6,303.0 380.1,303.1 380.5,303.1 380.8,303.1 381.1,303.2 381.4,303.2 381.6,303.2 381.8,303.2 381.9,303.1 382.0,303.1 382.1,303.1 382.1,303.0 382.0,302.9 381.9,302.9 381.8,302.7 381.7,302.6 381.5,302.4 381.3,302.2 381.1,301.9 380.8,301.6 380.6,301.2 380.3,300.8 380.1,300.3 379.9,299.9 379.6,299.4 379.5,298.9 379.3,298.4 379.2,298.0 379.2,297.7 379.2,297.4 379.2,297.2 379.3,297.1 379.5,297.0 379.7,297.0 380.0,297.0 380.3,297.2 380.7,297.3 381.1,297.6 381.6,297.8 382.1,298.1 382.6,298.4 383.1,298.7 383.6,299.1 384.1,299.3 384.5,299.6 384.8,299.9 385.1,300.1 385.3,300.2 385.5,300.4 385.7,300.5 385.8,300.5 385.9,300.5 386.0,300.5 386.1,300.4 386.1,300.2 386.2,300.0 386.2,299.8 386.2,299.5 386.2,299.1 386.2,298.7 386.2,298.2 386.2,297.7 386.2,297.2 386.2,296.6 386.1,296.0 386.1,295.5 386.0,295.0 385.9,294.5 385.8,294.1 385.6,293.8 385.4,293.4 385.2,293.2 384.9,293.0 384.6,292.8 384.1,292.7 383.7,292.6 383.1,292.6 382.6,292.6 382.0,292.6 381.4,292.6 380.8,292.7 380.3,292.8 379.8,292.9 379.3,293.0 379.0,293.2 378.7,293.4 378.4,293.6 378.3,293.7 378.2,293.9 378.1,294.1 378.1,294.3 378.2,294.4 378.3,294.5 378.5,294.6 378.7,294.6 378.9,294.6 379.2,294.6 379.5,294.5 379.8,294.4 380.2,294.2 380.6,294.1 380.9,293.9 381.3,293.6 381.6,293.4 381.9,293.2 382.2,293.0 382.4,292.8 382.6,292.6 382.8,292.5 383.0,292.3 383.1,292.2 383.1,292.1 383.2,292.0 383.2,292.0 383.2,292.0 383.1,291.9 383.0,292.0 382.9,292.0 382.8,292.1 382.6,292.2 382.4,292.3 382.2,292.5 382.0,292.7 381.7,292.9 381.4,293.2 381.2,293.6 380.9,293.9 380.6,294.4 380.3,294.8 380.1,295.3 379.8,295.7 379.6,296.2 379.4,296.6 379.2,297.0 379.1,297.4 379.0,297.7 378.9,297.9 378.8,298.1 378.8,298.1 378.8,298.2 378.8,298.1 378.8,298.0 378.9,297.9 378.9,297.6 379.0,297.3 379.1,296.9 379.2,296.5 379.3,296.1 379.4,295.6 379.5,295.1 379.6,294.7 379.7,294.2 379.7,293.8 379.8,293.4 379.8,293.0 379.8,292.7 379.8,292.5 379.7,292.3 379.7,292.1 379.6,292.0 379.4,291.9 379.3,291.8 379.1,291.8 378.9,291.7 378.7,291.7 378.5,291.7 378.2,291.8 378.0,291.9 377.7,291.9 377.5,292.1 377.2,292.2 377.0,292.4 376.7,292.6 376.5,292.9 376.3,293.2 376.1,293.6 376.0,294.0 375.8,294.4 375.7,294.9 375.6,295.3 375.5,295.8 375.4,296.3 375.3,296.8 375.3,297.3 375.2,297.8 375.2,298.2 375.2,298.6 375.2,298.9 375.2,299.3 375.2,299.5 375.2,299.8 375.3,300.0 375.3,300.2 375.4,300.4 375.4,300.6 375.5,300.7 375.6,300.9 375.7,301.0 375.8,301.1 375.8,301.2 375.9,301.3 376.0,301.4 376.1,301.5 376.2,301.6 376.3,301.7 376.4,301.8 376.5,301.9 376.5,302.0 376.6,302.0 376.6,302.1 376.7,302.2 376.7,302.2 376.7,302.3 376.8,302.3 376.8,302.3 376.8,302.4 376.8,302.4 376.8,302.4 376.7,302.4 376.7,302.4 376.7,302.4 376.7,302.4 376.6,302.3 376.6,302.3 376.6,302.2 376.5,302.2 376.5,302.1 376.5,302.0 376.4,301.9 376.4,301.8 376.4,301.7 376.3,301.6 376.3,301.5 376.3,301.4 376.3,301.2 376.3,301.1 376.2,301.0 376.2,300.9 376.2,300.7 376.2,300.6 376.2,300.5 376.2,300.4 376.2,300.4 376.2,300.3 376.2,300.3 376.3,300.3 376.3,300.3 376.3,300.3 376.3,300.3 376.4,300.3 376.4,300.3 376.5,300.4 376.6,300.4 376.7,300.4 376.8,300.4 376.9,300.5 377.1,300.5 377.2,300.5 377.4,300.5 377.7,300.4 377.9,300.4 378.2,300.3 378.5,300.2 378.9,300.1 379.3,300.0 379.7,299.9 380.1,299.7 380.6,299.5 381.1,299.3 381.5,299.1 382.0,298.8 382.5,298.6 382.9,298.3 383.3,298.0 383.7,297.7 384.1,297.5 384.4,297.2 384.6,296.9 384.9,296.7 385.1,296.5 385.2,296.3 385.4,296.1 385.5,295.9 385.6,295.8 385.7,295.6 385.7,295.5 385.8,295.5 385.8,295.4 385.8,295.3 385.9,295.3 385.9,295.3 385.8,295.2 385.8,295.2 385.8,295.2 385.8,295.1 385.7,295.1 385.6,295.1 385.5,295.0 385.4,294.9 385.3,294.8 385.1,294.7 385.0,294.6 384.8,294.4 384.5,294.3 384.3,294.1 384.0,293.9 383.6,293.7 383.3,293.5 383.0,293.4 382.6,293.2 382.3,293.0 382.0,292.9 381.7,292.7 381.4,292.6 381.2,292.5 381.0,292.4 380.9,292.3 380.8,292.3 380.7,292.3 380.7,292.3 380.8,292.3 380.8,292.3 381.0,292.4 381.1,292.5 381.3,292.6 381.5,292.8 381.8,293.0 382.0,293.2 382.3,293.5 382.5,293.9 382.8,294.2 383.0,294.6 383.2,295.0 383.4,295.5 383.6,295.9 383.8,296.4 383.9,296.8 384.0,297.2 384.1,297.5 384.1,297.8 384.1,298.0 384.1,298.2 384.1,298.3 384.1,298.3 384.0,298.2 383.9,298.1 383.8,297.9 383.6,297.7 383.4,297.3 383.2,296.9 383.0,296.4 382.7,295.9 382.4,295.3 382.1,294.8 381.8,294.2 381.5,293.7 381.2,293.2 380.9,292.8 380.6,292.4 380.4,292.1 380.1,291.8 380.0,291.6 379.8,291.5 379.7,291.4 379.6,291.3 379.6,291.2 379.6,291.1 379.7,291.1 379.8,291.1 380.0,291.1" fill="none" stroke="#e06060" stroke-width="0.55" stroke-opacity="1" stroke-linejoin="round" stroke-linecap="round"/>
<path d="M377.0,301.3 376.9,301.5 376.8,301.7 376.6,301.9 376.3,302.2 376.0,302.5 375.7,302.7 375.3,303.0 374.9,303.3 374.5,303.5 374.1,303.7 373.7,303.9 373.4,304.0 373.1,304.1 372.8,304.2 372.6,304.3 372.5,304.3 372.3,304.3 372.2,304.2 372.1,304.2 372.1,304.1 372.0,304.0 372.0,303.9 372.0,303.8 372.0,303.8 372.0,303.7 372.0,303.7 372.0,303.6 372.0,303.6 372.1,303.7 372.2,303.7 372.3,303.9 372.4,304.0 372.6,304.2 372.8,304.4 373.0,304.6 373.3,304.8 373.7,305.1 374.2,305.3 374.7,305.5 375.2,305.7 375.8,305.9 376.3,306.0 376.8,306.1 377.3,306.2 377.7,306.3 378.0,306.3 378.3,306.3 378.5,306.4 378.6,306.4 378.7,306.4 378.7,306.4 378.6,306.4 378.5,306.4 378.3,306.4 378.0,306.4 377.8,306.4 377.4,306.4 377.0,306.4 376.6,306.4 376.2,306.3 375.8,306.3 375.4,306.2 375.1,306.1 374.8,306.0 374.5,305.9 374.2,305.8 374.0,305.7 373.9,305.5 373.8,305.3 373.7,305.1 373.7,305.0 373.7,304.8 373.7,304.7 373.8,304.5 374.0,304.5 374.1,304.4 374.4,304.4 374.7,304.4 375.0,304.4 375.4,304.4 375.8,304.5 376.3,304.6 376.7,304.6 377.2,304.7 377.7,304.8 378.1,304.9 378.5,304.9 378.9,304.9 379.2,304.9 379.4,304.9 379.6,304.9 379.8,304.8 379.8,304.7 379.9,304.6 379.9,304.5 379.8,304.3 379.7,304.0 379.5,303.7 379.3,303.4 379.1,303.1 378.7,302.8 378.4,302.5 377.9,302.1 377.5,301.9 377.0,301.6 376.5,301.4 376.0,301.3 375.6,301.2 375.2,301.1 374.8,301.0 374.5,300.9 374.2,300.9 374.0,300.9 373.9,300.8 373.8,300.8 373.7,300.8 373.7,300.9 373.8,300.9 373.8,300.9 374.0,301.0 374.2,301.1 374.5,301.2 374.8,301.3 375.2,301.4 375.7,301.6 376.3,301.7 376.9,301.9 377.5,302.1 378.2,302.3 378.8,302.5 379.4,302.7 379.9,302.8 380.3,303.0 380.7,303.0 381.0,303.1 381.2,303.1 381.4,303.1 381.5,303.0 381.6,302.9 381.7,302.8 381.7,302.6 381.8,302.5 381.8,302.3 381.8,302.1 381.8,301.9 381.7,301.8 381.7,301.6 381.6,301.5 381.5,301.4 381.4,301.3 381.3,301.3 381.2,301.2 381.0,301.2 380.8,301.1 380.6,301.1 380.4,301.2 380.1,301.2 379.9,301.2 379.7,301.3 379.5,301.4 379.3,301.5 379.2,301.6 379.1,301.8 379.1,301.9 379.1,302.1 379.2,302.3 379.3,302.6 379.4,302.8 379.6,303.0 379.8,303.2 380.0,303.4 380.2,303.5 380.5,303.6 380.7,303.7 380.9,303.8 381.0,303.8 381.2,303.7 381.3,303.7 381.4,303.6 381.5,303.4 381.6,303.3 381.6,303.1 381.7,302.9 381.7,302.7 381.7,302.5 381.6,302.3 381.6,302.1 381.5,301.9 381.4,301.8 381.2,301.7 381.0,301.6 380.8,301.5 380.4,301.5 380.0,301.5 379.5,301.5 378.9,301.5 378.2,301.5 377.4,301.6 376.6,301.7 375.8,301.9 375.1,302.1 374.4,302.3 373.9,302.6 373.5,303.0 373.1,303.3 372.8,303.7 372.6,304.1 372.5,304.4 372.4,304.8 372.3,305.0 372.2,305.3 372.2,305.5 372.2,305.6 372.2,305.8 372.2,305.9 372.2,305.9 372.2,306.0 372.3,306.0 372.3,306.0 372.4,306.0 372.5,306.0 372.7,306.0 372.8,306.0 373.0,306.0 373.1,305.9 373.3,305.9 373.5,305.8 373.7,305.8 373.9,305.7 374.1,305.6 374.2,305.6 374.3,305.5 374.4,305.5 374.4,305.4 374.4,305.4 374.3,305.4 374.2,305.4 374.0,305.5 373.9,305.5 373.7,305.6 373.5,305.7 373.3,305.8 373.1,305.8 373.0,305.9 372.8,306.0 372.7,306.1 372.5,306.1 372.4,306.2 372.4,306.2 372.3,306.3 372.2,306.3 372.2,306.3 372.2,306.3 372.2,306.3 372.2,306.3 372.2,306.3 372.3,306.3 372.3,306.3 372.4,306.3 372.5,306.2 372.7,306.2 372.9,306.1 373.1,306.0 373.5,305.9 373.9,305.7 374.4,305.5 374.9,305.3 375.6,304.9 376.3,304.6 377.0,304.2 377.6,303.8 378.3,303.3 378.8,303.0 379.3,302.6 379.7,302.3 380.1,302.1 380.3,301.9 380.5,301.7 380.7,301.6 380.8,301.6 380.8,301.5 380.8,301.5 380.8,301.5 380.7,301.5 380.6,301.5 380.5,301.5 380.3,301.6 380.1,301.7 379.8,301.7 379.5,301.8" fill="none" stroke="#7d3fb5" stroke-width="0.75" stroke-opacity="1" stroke-linejoin="round" stroke-linecap="round"/>
<path d="M391.1,294.0 391.2,294.5 391.3,295.0 391.4,295.5 391.5,296.1 391.7,296.7 391.8,297.2 392.0,297.8 392.1,298.3 392.3,298.7 392.5,299.1 392.6,299.5 392.8,299.7 392.9,299.9 393.0,300.0 393.1,300.0 393.2,300.0 393.3,299.9 393.4,299.8 393.4,299.6 393.4,299.4 393.4,299.2 393.4,299.0 393.4,298.8 393.3,298.7 393.3,298.5 393.2,298.4 393.1,298.4 393.0,298.4 392.9,298.5 392.8,298.7 392.6,298.9 392.5,299.2 392.4,299.5 392.3,300.0 392.3,300.5 392.2,301.0 392.2,301.6 392.2,302.1 392.2,302.7 392.2,303.3 392.3,303.9 392.4,304.5 392.5,304.9 392.7,305.4 392.8,305.8 393.0,306.1 393.2,306.3 393.5,306.5 393.7,306.6 394.0,306.6 394.2,306.6 394.4,306.5 394.7,306.4 394.9,306.2 395.1,305.9 395.3,305.7 395.5,305.3 395.6,305.0 395.8,304.7 395.9,304.3 396.0,304.0 396.1,303.6 396.2,303.3 396.2,303.1 396.2,302.8 396.3,302.7 396.3,302.5 396.3,302.5 396.2,302.5 396.2,302.5 396.1,302.6 396.1,302.7 396.0,302.8 395.9,303.0 395.7,303.2 395.6,303.4 395.5,303.6 395.3,303.9 395.2,304.1 395.0,304.3 394.8,304.4 394.6,304.6 394.4,304.7 394.2,304.8 394.0,304.9 393.8,305.0 393.6,305.0 393.3,305.0 393.1,305.1 392.9,305.1 392.7,305.1 392.5,305.1 392.2,305.1 392.0,305.2 391.8,305.3 391.6,305.4 391.3,305.5 391.1,305.6 390.9,305.8 390.7,306.0 390.5,306.3 390.3,306.5 390.1,306.8 389.9,307.1 389.7,307.4 389.6,307.7 389.4,308.0 389.3,308.2 389.1,308.4 389.0,308.6 388.9,308.8 388.8,308.9 388.7,309.0 388.7,309.0 388.6,309.0 388.6,309.0 388.6,308.9 388.6,308.7 388.6,308.5 388.6,308.2 388.7,307.9 388.7,307.6 388.8,307.2 388.8,306.8 388.9,306.4 389.0,305.9 389.0,305.5 389.1,305.1 389.1,304.7 389.2,304.4 389.2,304.2 389.2,304.0 389.2,304.0 389.2,304.0 389.1,304.1 389.0,304.3 389.0,304.6 388.8,305.0 388.7,305.5 388.6,306.0 388.4,306.6 388.2,307.2 388.0,307.8 387.9,308.4 387.7,308.9 387.5,309.4 387.3,309.9 387.1,310.3 386.9,310.6 386.8,310.9 386.6,311.1 386.5,311.3 386.4,311.4 386.4,311.5 386.3,311.5 386.3,311.5 386.3,311.5 386.4,311.3 386.4,311.2 386.5,311.0 386.7,310.7 386.8,310.4 387.1,310.0 387.3,309.6 387.6,309.1 387.9,308.6 388.3,308.1 388.6,307.5 389.1,306.9 389.5,306.3 389.9,305.8 390.4,305.2 390.8,304.7 391.2,304.2 391.7,303.8 392.0,303.4 392.4,303.1 392.7,302.8 393.0,302.6 393.3,302.4 393.5,302.2 393.6,302.1 393.8,301.9 393.8,301.8 393.9,301.6 393.9,301.4 393.9,301.2 393.8,301.0 393.8,300.8 393.6,300.5 393.5,300.1 393.3,299.8 393.1,299.4 392.9,299.0 392.6,298.6 392.3,298.2 392.0,297.8 391.7,297.3 391.4,297.0 391.1,296.6 390.8,296.3 390.4,296.0 390.1,295.8 389.8,295.6 389.5,295.5 389.2,295.4 388.9,295.3 388.6,295.4 388.3,295.5 388.1,295.6 387.8,295.8 387.6,296.0 387.3,296.3 387.1,296.6 386.9,297.0 386.7,297.3 386.5,297.7 386.3,298.1 386.1,298.5 385.9,298.9 385.7,299.2 385.5,299.5 385.4,299.7 385.2,299.9 385.1,300.0 384.9,300.0 384.8,300.0 384.7,299.9 384.6,299.8 384.5,299.6 384.4,299.4 384.3,299.1 384.2,298.8 384.2,298.5 384.1,298.2 384.1,297.9 384.1,297.6 384.1,297.3 384.1,297.1 384.1,296.9 384.1,296.7 384.2,296.6 384.2,296.5 384.3,296.5 384.4,296.5 384.5,296.5 384.6,296.6 384.7,296.7 384.9,296.9 385.0,297.1 385.2,297.3 385.4,297.6 385.6,297.8 385.8,298.1 386.0,298.4 386.2,298.6 386.5,298.8 386.7,299.0 386.9,299.2 387.1,299.4 387.3,299.5 387.5,299.6 387.6,299.7 387.8,299.7 387.9,299.7 388.0,299.8 388.1,299.8 388.2,299.8 388.2,299.8 388.2,299.8 388.3,299.9 388.2,300.0 388.2,300.1 388.2,300.2 388.2,300.5 388.1,300.7 388.1,301.0 388.0,301.4 388.0,301.8 387.9,302.2 387.9,302.7 387.9,303.2 387.8,303.7 387.8,304.2 387.8,304.6 387.8,305.1 387.8,305.5 387.9,305.8 387.9,306.1 387.9,306.4 388.0,306.5 388.0,306.6 388.1,306.6 388.2,306.6 388.3,306.4 388.4,306.2 388.5,305.8 388.6,305.4 388.7,304.9 388.8,304.3 388.9,303.7 389.1,302.9 389.2,302.2 389.4,301.4 389.6,300.6 389.7,299.9 389.9,299.1 390.1,298.5 390.4,297.9 390.6,297.4 390.8,296.9 391.1,296.6 391.4,296.3 391.7,296.2 392.0,296.1 392.3,296.1 392.6,296.2 393.0,296.3 393.3,296.5 393.6,296.8 394.0,297.2 394.3,297.5 394.6,297.9 394.9,298.4 395.1,298.8 395.4,299.2 395.6,299.6 395.8,300.0 396.0,300.2 396.2,300.5 396.3,300.6 396.4,300.6 396.5,300.6 396.6,300.5 396.6,300.3 396.7,300.0 396.7,299.6 396.7,299.2 396.6,298.7 396.6,298.1 396.5,297.6 396.4,297.0 396.3,296.4 396.2,295.9 396.0,295.4 395.8,294.9 395.6,294.5 395.4,294.2 395.2,293.8 394.9,293.6 394.6,293.4 394.3,293.2 394.0,293.1 393.7,293.0 393.4,293.0 393.1,293.0 392.9,293.1 392.6,293.2 392.5,293.3 392.3,293.4 392.2,293.6 392.1,293.8 392.1,294.0 392.2,294.2 392.2,294.4 392.4,294.6 392.5,294.8 392.7,295.0 393.0,295.2 393.2,295.4 393.5,295.6 393.8,295.8 394.1,296.0 394.4,296.2 394.7,296.4 394.9,296.5 395.2,296.7 395.4,297.0 395.7,297.2 395.9,297.5 396.0,297.8 396.2,298.1 396.3,298.5 396.4,298.9 396.5,299.3 396.6,299.8 396.6,300.3 396.7,300.9 396.7,301.5 396.7,302.0 396.7,302.6 396.6,303.2 396.6,303.7 396.5,304.2 396.4,304.6 396.4,305.0 396.3,305.3 396.1,305.6 396.0,305.8 395.9,305.9 395.7,306.0 395.6,305.9 395.4,305.8 395.2,305.6 395.0,305.4 394.8,305.1 394.6,304.7 394.4,304.2 394.2,303.7 394.0,303.1 393.8,302.6 393.6,302.0 393.3,301.4 393.1,300.8 392.9,300.3 392.7,299.8 392.5,299.3 392.3,298.9 392.1,298.6 391.9,298.3 391.7,298.1 391.5,298.0 391.3,297.9 391.1,297.9 391.0,297.9 390.8,298.0 390.6,298.2 390.5,298.3 390.3,298.5 390.2,298.7 390.1,299.0 390.0,299.2 389.9,299.4 389.9,299.6 389.8,299.8 389.8,299.9 389.8,300.1 389.8,300.2 389.8,300.2 389.9,300.2 389.9,300.2 390.0,300.2 390.1,300.2 390.2,300.1 390.3,300.1 390.5,300.1 390.6,300.1 390.7,300.1 390.8,300.2 390.9,300.3 391.1,300.5 391.2,300.8 391.2,301.1 391.3,301.5 391.4,302.0 391.4,302.6 391.4,303.3 391.4,304.0 391.3,304.8 391.2,305.6 391.1,306.4 391.0,307.2 390.8,307.9 390.6,308.6 390.4,309.3 390.1,309.9 389.9,310.4 389.6,310.8 389.3,311.2 389.0,311.5 388.6,311.8 388.3,312.0 388.0,312.1 387.7,312.2 387.4,312.3 387.1,312.3 386.8,312.3 386.6,312.3 386.4,312.3 386.2,312.2 386.0,312.1 385.8,312.0 385.7,311.8 385.6,311.7 385.5,311.5 385.4,311.3 385.3,311.1 385.3,311.0 385.3,310.8 385.3,310.6 385.3,310.5 385.3,310.4 385.3,310.3 385.3,310.3 385.3,310.3 385.4,310.3 385.4,310.4 385.5,310.5 385.6,310.5 385.6,310.6 385.7,310.7 385.8,310.8 385.9,310.9 386.0,311.0 386.1,311.1 386.2,311.1 386.3,311.1 386.4,311.1 386.6,311.0 386.7,310.9 386.9,310.8 387.0,310.6 387.2,310.4 387.4,310.1 387.7,309.8 387.9,309.4 388.2,309.0 388.4,308.5 388.7,307.9 389.1,307.3 389.4,306.7 389.8,306.1 390.1,305.4 390.5,304.7 390.9,304.1 391.2,303.5 391.6,302.9 392.0,302.4 392.3,301.9 392.6,301.5 392.9,301.2 393.2,300.9 393.4,300.7 393.6,300.5 393.8,300.4 393.9,300.3 394.0,300.3 394.0,300.3 394.0,300.3 394.0,300.3 393.9,300.3 393.8,300.3 393.7,300.3 393.5,300.3 393.2,300.3 392.9,300.3 392.6,300.2 392.2,300.2 391.8,300.1 391.4,300.0 390.9,300.0 390.4,299.9 389.9,299.8 389.5,299.8 389.0,299.7 388.5,299.7 388.1,299.7 387.7,299.8 387.3,299.9 387.0,300.0 386.7,300.2 386.5,300.4 386.3,300.6 386.1,300.9 386.0,301.2 385.9,301.6 385.8,301.9 385.8,302.3 385.7,302.6 385.7,303.0 385.8,303.3 385.8,303.5 385.9,303.8 386.0,303.9 386.1,304.0 386.3,304.1 386.4,304.0 386.6,303.9 386.8,303.7 386.9,303.4 387.1,303.1 387.3,302.6 387.5,302.1 387.7,301.5 387.8,300.8 388.0,300.2 388.1,299.4 388.2,298.7 388.3,298.0 388.4,297.3 388.4,296.7 388.5,296.1 388.5,295.6 388.5,295.1 388.5,294.7 388.5,294.4 388.5,294.2 388.4,294.0 388.4,293.8 388.3,293.7 388.3,293.7 388.2,293.7 388.2,293.7 388.1,293.8 388.0,293.9 388.0,294.0 387.9,294.1 387.9,294.3 387.9,294.4 387.8,294.5 387.8,294.6 387.8,294.6 387.7,294.7 387.7,294.6 387.7,294.6 387.7,294.5 387.7,294.3 387.7,294.1 387.7,293.8 387.8,293.6 387.8,293.3 387.8,293.0 387.9,292.7 387.9,292.4 388.0,292.1 388.0,291.9 388.1,291.7 388.2,291.5 388.2,291.3 388.3,291.2 388.5,291.1 388.6,291.0 388.7,291.0 388.9,291.0 389.1,291.0 389.3,291.0 389.5,291.1 389.7,291.2 390.0,291.4 390.2,291.6 390.5,291.8 390.8,292.1 391.1,292.4 391.4,292.7 391.7,293.0 392.0,293.4 392.3,293.7 392.6,294.0 392.9,294.4 393.2,294.7 393.4,294.9 393.7,295.1 393.9,295.3 394.0,295.4 394.2,295.5 394.3,295.4 394.4,295.4 394.5,295.3 394.5,295.2 394.6,295.0 394.5,294.8 394.5,294.6 394.4,294.4 394.4,294.2 394.2,294.1 394.1,293.9 393.9,293.8 393.8,293.7 393.6,293.7 393.3,293.6 393.1,293.6 392.9,293.7 392.6,293.8 392.4,293.9 392.1,294.1 391.9,294.3 391.6,294.5 391.4,294.8 391.2,295.1 391.1,295.4 390.9,295.8 390.8,296.1 390.7,296.5 390.7,296.8 390.6,297.2 390.6,297.5 390.7,297.8 390.7,298.0 390.8,298.3 390.9,298.5 391.0,298.7 391.2,298.9 391.3,299.0 391.5,299.1 391.6,299.3 391.8,299.4 391.9,299.6 392.1,299.7 392.2,299.9 392.4,300.2 392.5,300.4 392.6,300.8 392.7,301.1 392.8,301.6 392.8,302.0 392.9,302.6 392.9,303.1 392.9,303.7 392.9,304.4 392.9,305.0 392.9,305.7 392.8,306.3 392.8,307.0 392.7,307.6 392.7,308.1 392.6,308.6 392.6,309.1 392.5,309.5 392.5,309.8 392.5,310.1 392.5,310.4 392.4,310.6 392.4,310.7 392.5,310.9 392.5,310.9 392.5,311.0 392.5,311.0 392.6,311.0 392.6,311.0 392.7,311.0 392.7,311.0 392.8,310.9 392.8,310.9 392.9,310.8 392.9,310.8 392.9,310.7 392.9,310.7 392.9,310.7 392.9,310.7 392.8,310.7 392.7,310.7 392.6,310.8 392.5,310.9 392.3,310.9 392.1,311.0 391.9,311.1 391.6,311.2 391.3,311.2 391.0,311.3 390.7,311.4 390.4,311.4 390.0,311.4 389.7,311.4 389.3,311.3 388.9,311.2 388.6,311.1 388.3,311.0 388.0,310.8 387.7,310.5 387.4,310.2 387.2,309.8 387.0,309.4 386.8,308.9 386.6,308.4 386.5,307.8 386.4,307.2 386.3,306.5 386.3,305.8 386.3,305.1 386.3,304.5" fill="none" stroke="#2f42b0" stroke-width="0.6" stroke-opacity="1" stroke-linejoin="round" stroke-linecap="round"/>
<path d="M391.7,309.0 391.5,309.4 391.4,309.8 391.3,310.1 391.3,310.4 391.3,310.6 391.3,310.8 391.3,311.0 391.4,311.1 391.5,311.2 391.6,311.2 391.7,311.2 391.9,311.2 392.0,311.1 392.2,310.9 392.3,310.7 392.5,310.3 392.6,309.9 392.8,309.5 392.9,308.9 393.0,308.2 393.1,307.4 393.2,306.6 393.2,305.6 393.2,304.7 393.2,303.7 393.2,302.7 393.2,301.9 393.1,301.1 393.0,300.4 392.8,299.8 392.7,299.3 392.5,299.0 392.2,298.7 392.0,298.4 391.7,298.2 391.4,298.1 391.0,298.0 390.7,297.9 390.3,297.8 390.0,297.8 389.6,297.8 389.2,297.7 388.9,297.7 388.5,297.7 388.2,297.7 387.9,297.8 387.7,297.8 387.4,297.9 387.2,297.9 387.0,298.0 386.9,298.1 386.7,298.3 386.6,298.5 386.5,298.8 386.4,299.2 386.3,299.6 386.3,300.2 386.2,300.9 386.2,301.7 386.2,302.6 386.2,303.6 386.2,304.7 386.2,305.8 386.2,306.8 386.2,307.8 386.2,308.7 386.3,309.4 386.4,310.1 386.4,310.6 386.5,311.1 386.6,311.4 386.7,311.7 386.8,311.9 386.9,312.0 387.1,312.1 387.2,312.1 387.4,312.1 387.5,312.0 387.7,311.9 387.9,311.7 388.0,311.5 388.2,311.3 388.4,310.9 388.6,310.5 388.8,310.1 388.9,309.6 389.1,309.0 389.3,308.4 389.4,307.8 389.6,307.1 389.7,306.5 389.9,305.8 390.0,305.2 390.2,304.6 390.3,304.1 390.4,303.6 390.5,303.2 390.7,302.9 390.8,302.6 390.9,302.3 391.0,302.2 391.2,302.1 391.3,302.0 391.4,302.0 391.6,302.1 391.8,302.2 391.9,302.4 392.1,302.6 392.3,302.9 392.5,303.2 392.7,303.6 392.9,304.0 393.2,304.5 393.4,305.0 393.6,305.5 393.8,306.0 394.1,306.6 394.3,307.1 394.5,307.7 394.7,308.2 394.9,308.7 395.1,309.1 395.3,309.6 395.4,309.9 395.6,310.3 395.7,310.5 395.8,310.8 395.9,311.0 396.0,311.2 396.1,311.3 396.1,311.4 396.2,311.5 396.2,311.6 396.2,311.6 396.2,311.6 396.1,311.6 396.1,311.5 396.0,311.5 395.9,311.4 395.8,311.3 395.7,311.2 395.5,311.1 395.3,311.0 395.1,310.9 394.9,310.7 394.6,310.6 394.3,310.5 393.9,310.3 393.5,310.2 393.1,310.0 392.7,309.9 392.3,309.8 391.8,309.6 391.3,309.5 390.9,309.4 390.5,309.4 390.1,309.3 389.7,309.2 389.4,309.2 389.1,309.1 388.9,309.1 388.6,309.1 388.5,309.0 388.3,309.0 388.2,309.0 388.2,309.0 388.1,309.0 388.1,308.9 388.2,308.9 388.3,308.9 388.4,308.8 388.6,308.7 388.8,308.7 389.1,308.6 389.4,308.5 389.7,308.4 390.1,308.2 390.6,308.1 391.1,307.9 391.6,307.8 392.1,307.6 392.7,307.4 393.2,307.2 393.8,306.9 394.3,306.7 394.7,306.5 395.1,306.2 395.5,306.0 395.8,305.7 396.1,305.5 396.3,305.2 396.5,305.0 396.7,304.8 396.8,304.6 396.9,304.4 397.0,304.2 397.0,304.0 397.1,303.9 397.1,303.7 397.1,303.6 397.1,303.5 397.1,303.4 397.0,303.3 397.0,303.2 396.9,303.1 396.8,303.0 396.6,303.0 396.5,302.9 396.3,302.8 396.0,302.7 395.7,302.6 395.3,302.5 394.9,302.4 394.4,302.3 393.9,302.2 393.3,302.0 392.6,301.9 391.9,301.7 391.2,301.5 390.6,301.3 390.0,301.1 389.4,300.9 388.8,300.7 388.4,300.5 388.0,300.3 387.6,300.1 387.4,299.9 387.1,299.7 386.9,299.5 386.8,299.3 386.7,299.2 386.6,299.0 386.5,298.9 386.5,298.8 386.5,298.7 386.5,298.6 386.5,298.6 386.5,298.5 386.6,298.5 386.7,298.5 386.8,298.5 387.0,298.5 387.1,298.5 387.3,298.6 387.6,298.6 387.8,298.7 388.1,298.9 388.4,299.0 388.8,299.2 389.1,299.5 389.5,299.8 389.8,300.2 390.2,300.7 390.5,301.3 390.8,302.0 391.1,302.8 391.4,303.8 391.6,304.8 391.8,305.8 391.9,306.9 392.0,308.0 392.0,309.0 392.0,309.9 391.9,310.7 391.8,311.3 391.7,311.9 391.5,312.4 391.2,312.7 390.9,313.0 390.6,313.3 390.2,313.4 389.9,313.6 389.5,313.7 389.1,313.8 388.7,313.8 388.3,313.8 388.0,313.8 387.6,313.8 387.3,313.8 387.1,313.8 386.8,313.7 386.6,313.6 386.4,313.5 386.3,313.3 386.2,313.1 386.1,312.8 386.0,312.5 385.9,312.1 385.9,311.6 385.8,311.0 385.8,310.4 385.8,309.7 385.8,308.9 385.8,308.1 385.9,307.2 385.9,306.4 386.0,305.6 386.1,304.8 386.2,304.2 386.4,303.6 386.6,303.1 386.8,302.7 387.1,302.4 387.4,302.2 387.9,302.1 388.4,302.0 388.9,302.0 389.5,302.1 390.2,302.2 391.0,302.4 391.7,302.8 392.4,303.1 393.1,303.6 393.8,304.1 394.4,304.7 394.9,305.4 395.4,306.1 395.8,306.9 396.1,307.6 396.3,308.4 396.6,309.1 396.7,309.7 396.9,310.3 397.0,310.8 397.1,311.2 397.2,311.6 397.2,311.9 397.2,312.2 397.3,312.4 397.3,312.6 397.3,312.7 397.3,312.7 397.3,312.8 397.2,312.8 397.2,312.8 397.1,312.7 397.1,312.6 397.0,312.4 396.9,312.2 396.8,312.0 396.7,311.7 396.6,311.3 396.4,310.9 396.2,310.4 396.0,309.8 395.8,309.1 395.6,308.4 395.3,307.6 395.1,306.8 394.8,305.9" fill="none" stroke="#3a4cc0" stroke-width="0.6" stroke-opacity="1" stroke-linejoin="round" stroke-linecap="round"/>
<path d="M379.8,321.9 379.8,321.8 379.7,321.6 379.7,321.3 379.7,321.0 379.7,320.7 379.7,320.2 379.7,319.7 379.7,319.1 379.7,318.5 379.8,317.8 379.8,317.0 379.9,316.3 380.0,315.6 380.1,314.9 380.2,314.3 380.3,313.8 380.4,313.3 380.5,312.9 380.6,312.6 380.8,312.3 380.9,312.1 381.1,312.0 381.2,311.8 381.4,311.8 381.5,311.7 381.6,311.7 381.8,311.7 381.9,311.7 382.1,311.7 382.2,311.7 382.3,311.7 382.5,311.7 382.6,311.7 382.7,311.6 382.8,311.6 383.0,311.5 383.1,311.4 383.2,311.3 383.3,311.2 383.5,311.1 383.6,310.9 383.8,310.7 383.9,310.6 384.1,310.4 384.2,310.2 384.4,310.1 384.6,309.9 384.8,309.8 384.9,309.7 385.1,309.6 385.3,309.5 385.4,309.4 385.6,309.4 385.7,309.3 385.9,309.3 386.0,309.3 386.1,309.3 386.2,309.4 386.3,309.4 386.4,309.5 386.5,309.7 386.5,309.8 386.6,310.0 386.6,310.2 386.6,310.4 386.6,310.7 386.6,311.0 386.6,311.3 386.6,311.7 386.5,312.1 386.4,312.5 386.3,312.8 386.2,313.2 386.1,313.5 385.9,313.8 385.7,314.1 385.5,314.3 385.2,314.4 385.0,314.5 384.6,314.5 384.3,314.5 383.9,314.4 383.5,314.2 383.2,314.0 382.8,313.8 382.4,313.5 382.0,313.2 381.7,312.9 381.4,312.6 381.2,312.3 380.9,312.1 380.7,311.8 380.6,311.6 380.4,311.4 380.3,311.2 380.3,311.1 380.2,311.1 380.2,311.0 380.2,311.0 380.3,311.1 380.4,311.2 380.5,311.3 380.6,311.5 380.8,311.8 381.0,312.1 381.2,312.5 381.5,312.9 381.7,313.4 382.1,313.9 382.4,314.5 382.8,315.1 383.2,315.7 383.6,316.3 383.9,316.8 384.3,317.3 384.6,317.8 385.0,318.2 385.3,318.5 385.5,318.8 385.8,319.0 386.0,319.1 386.2,319.2 386.3,319.3 386.4,319.3 386.6,319.2 386.7,319.0 386.7,318.9 386.8,318.6 386.9,318.3 386.9,318.0 386.9,317.6 387.0,317.2 387.0,316.7 387.0,316.2 387.0,315.7 387.0,315.2 387.0,314.8 387.0,314.3 387.0,313.9 387.0,313.6 387.0,313.3 387.0,313.0 387.0,312.8 387.0,312.6 387.0,312.5 387.0,312.4 387.0,312.4 387.0,312.4 387.0,312.5 387.0,312.6 387.0,312.7 387.0,312.8 387.0,312.9 387.0,313.1 387.0,313.3 387.0,313.4 387.0,313.6 387.0,313.8 387.0,313.9 387.0,314.0 386.9,314.0 386.9,314.1 386.9,314.1 386.8,314.0 386.8,313.9 386.7,313.8 386.7,313.6 386.6,313.5 386.5,313.2 386.4,313.0 386.3,312.8 386.2,312.5 386.1,312.3 386.0,312.0 385.8,311.8 385.7,311.6 385.5,311.5 385.3,311.3 385.2,311.2 385.0,311.2 384.8,311.1 384.7,311.2 384.5,311.2 384.4,311.3 384.3,311.5 384.2,311.7 384.1,312.0 384.0,312.3 384.0,312.7 384.0,313.2 384.0,313.7 384.0,314.3 384.0,314.9 384.1,315.6 384.2,316.3 384.3,317.0 384.4,317.6 384.6,318.2 384.7,318.8 384.8,319.3 385.0,319.7 385.1,320.1 385.3,320.4 385.4,320.6 385.5,320.8 385.6,321.0 385.7,321.1 385.8,321.1 385.9,321.2 385.9,321.2 385.9,321.2 385.9,321.2 385.9,321.1 385.9,321.0 385.9,321.0 385.8,320.8 385.7,320.7 385.6,320.6 385.4,320.4 385.2,320.3 385.0,320.2 384.7,320.1 384.4,319.9 384.1,319.9 383.8,319.8 383.4,319.8 383.0,319.8 382.6,319.8 382.2,319.9 381.8,320.0 381.4,320.1 381.0,320.3 380.7,320.5 380.4,320.6 380.2,320.8 379.9,321.0 379.7,321.2 379.6,321.3 379.4,321.5 379.3,321.6 379.2,321.7 379.1,321.8 379.1,321.9 379.0,321.9 379.0,321.9 379.0,321.9 379.0,321.9 378.9,321.9 378.9,321.9 379.0,321.8 379.0,321.7 379.0,321.6 379.0,321.4 379.1,321.2 379.1,321.0 379.2,320.7 379.3,320.3 379.3,319.9 379.4,319.4 379.5,318.9 379.6,318.3 379.7,317.7 379.7,317.1 379.8,316.5 379.9,315.9 380.0,315.3 380.1,314.8 380.2,314.4 380.3,314.0 380.4,313.7 380.5,313.5 380.6,313.3 380.6,313.2 380.7,313.1 380.8,313.1 380.9,313.1 380.9,313.2 381.0,313.3 381.1,313.5 381.2,313.7 381.2,313.9 381.3,314.1 381.4,314.3 381.5,314.6 381.6,314.8 381.7,315.0 381.8,315.1 381.9,315.3 382.1,315.4 382.2,315.4 382.3,315.4 382.5,315.4 382.6,315.4 382.7,315.2 382.9,315.1 383.0,314.9 383.1,314.7 383.2,314.5 383.3,314.2 383.4,314.0 383.5,313.7 383.5,313.4 383.5,313.2 383.5,313.0 383.5,312.8 383.5,312.6 383.4,312.5 383.4,312.4 383.2,312.3 383.1,312.3 382.9,312.4 382.8,312.4 382.6,312.6 382.3,312.7 382.1,313.0 381.8,313.2 381.5,313.6 381.3,313.9 381.0,314.3 380.7,314.8 380.5,315.2 380.3,315.7 380.0,316.2 379.8,316.6 379.7,317.0 379.5,317.4 379.4,317.8 379.3,318.1 379.2,318.3 379.1,318.5 379.0,318.6 378.9,318.7 378.9,318.7 378.9,318.7 378.8,318.6 378.8,318.5 378.8,318.3 378.8,318.1 378.8,317.8 378.9,317.5 378.9,317.1 378.9,316.7 379.0,316.2 379.0,315.8 379.1,315.3 379.2,314.9 379.3,314.5 379.4,314.1 379.5,313.7 379.6,313.4 379.8,313.2 379.9,313.0 380.1,312.9 380.2,312.8 380.4,312.8 380.5,312.8 380.7,312.9 380.8,313.0 380.9,313.2 381.0,313.4 381.1,313.7 381.2,314.0 381.2,314.4 381.3,314.8 381.3,315.1 381.3,315.5 381.3,315.9 381.2,316.2 381.2,316.5 381.1,316.8 381.0,317.0 381.0,317.2 380.9,317.3 380.8,317.4 380.7,317.3 380.7,317.3 380.6,317.1 380.5,316.9 380.4,316.6 380.4,316.2 380.4,315.7 380.3,315.2 380.3,314.7 380.3,314.1 380.3,313.5 380.3,312.9 380.4,312.3 380.4,311.8 380.5,311.3 380.5,310.9 380.6,310.5 380.7,310.2 380.9,309.9 381.0,309.7 381.1,309.5 381.3,309.3 381.5,309.2 381.6,309.1 381.8,309.0 382.0,309.0 382.2,309.0 382.4,309.0 382.6,309.0 382.7,309.0 382.9,309.0 383.1,309.0 383.2,309.1 383.4,309.2 383.5,309.2 383.7,309.3 383.8,309.4 383.9,309.5 384.0,309.6 384.1,309.7 384.2,309.8 384.3,309.9 384.3,309.9 384.4,310.0 384.5,310.1 384.6,310.1 384.6,310.2 384.7,310.2 384.8,310.2 384.9,310.2 385.0,310.2 385.1,310.2 385.2,310.2 385.3,310.2 385.5,310.2 385.6,310.3 385.7,310.3 385.8,310.4 386.0,310.5 386.1,310.6 386.2,310.7 386.4,310.9 386.5,311.2 386.6,311.5 386.7,311.8 386.8,312.2 386.9,312.7 387.0,313.3 387.0,313.9 387.1,314.6 387.2,315.3 387.2,316.1 387.2,316.8 387.3,317.6 387.3,318.3 387.3,318.9 387.3,319.4 387.3,319.9 387.3,320.3 387.3,320.6 387.3,320.9 387.3,321.1 387.3,321.2 387.2,321.4 387.2,321.4 387.1,321.5 387.0,321.5 387.0,321.4 386.9,321.4 386.7,321.3 386.6,321.1 386.5,320.9 386.3,320.7 386.1,320.4 385.9,320.0 385.7,319.6" fill="none" stroke="#4aa048" stroke-width="0.6" stroke-opacity="1" stroke-linejoin="round" stroke-linecap="round"/>
<path d="M384.3,317.4 384.3,317.4 384.4,317.4 384.6,317.4 384.9,317.5 385.3,317.6 385.7,317.9 386.0,318.2 386.3,318.8 386.6,319.5 386.7,320.3 386.8,320.8 386.7,321.2 386.6,321.5 386.4,321.6 386.0,321.6 385.5,321.5 384.9,321.4 384.2,321.2 383.5,320.9 383.0,320.6 382.6,320.4 382.3,320.2 382.2,320.1 382.1,320.0 382.0,320.1 382.0,320.2 382.0,320.4 382.0,320.6 382.0,320.9 382.0,321.1 382.1,321.3 382.3,321.5 382.5,321.6 382.8,321.6 383.2,321.6 383.7,321.6 384.3,321.5 384.8,321.4 385.4,321.3 385.9,321.1 386.3,320.9 386.6,320.8 386.8,320.6 386.9,320.6 387.1,320.5 387.2,320.5 387.2,320.4 387.3,320.4 387.3,320.4 387.4,320.3 387.4,320.2 387.4,320.0 387.4,319.7 387.5,319.4 387.5,319.0 387.4,318.6 387.4,318.2 387.4,318.0 387.3,317.8 387.2,317.6 387.1,317.6 386.9,317.5 386.7,317.5 386.5,317.5 386.2,317.6 385.8,317.7 385.5,317.9 385.2,318.3 384.9,318.9 384.6,319.7 384.5,320.6 384.3,321.4 384.3,321.9 384.2,322.2 384.3,322.3 384.3,322.4 384.4,322.4 384.6,322.4 384.7,322.3 384.7,322.1 384.8,321.8 384.7,321.3 384.6,320.7 384.5,320.0 384.2,319.4 383.9,319.0 383.5,318.7 383.1,318.6 382.8,318.7 382.5,318.9 382.3,319.3 382.2,319.8 382.1,320.4 382.0,321.1 382.0,321.6 382.0,322.0 382.0,322.2 382.0,322.3 382.1,322.3 382.2,322.3 382.5,322.3 382.9,322.2 383.5,321.9 384.4,321.5 385.4,320.8 386.3,320.0 387.0,319.1 387.5,318.4 387.7,318.0 387.9,317.8 388.0,317.6 388.0,317.6 388.0,317.5 388.0,317.5 388.0,317.6 387.9,317.6 387.8,317.7 387.7,317.9 387.5,318.1 387.2,318.4 386.8,318.8 386.3,319.1 385.9,319.5 385.4,319.8 385.1,320.0 384.9,320.1 384.8,320.2 384.8,320.3 384.9,320.4 385.0,320.4 385.3,320.5 385.5,320.6 385.8,320.7 386.0,320.9 386.2,321.1 386.3,321.2 386.4,321.4 386.4,321.6 386.3,321.7 386.1,321.7" fill="none" stroke="#2f7a2f" stroke-width="0.8" stroke-opacity="1" stroke-linejoin="round" stroke-linecap="round"/>
<path d="M394.3,316.3 394.1,316.3 394.1,316.2 394.0,316.2 394.0,316.2 394.0,316.2 394.1,316.2 394.2,316.2 394.3,316.2 394.4,316.2 394.6,316.2 394.7,316.3 394.9,316.3 395.1,316.4 395.3,316.4 395.5,316.5 395.7,316.6 395.8,316.7 396.0,316.8 396.2,317.0 396.3,317.1 396.4,317.3 396.6,317.5 396.7,317.6 396.8,317.8 396.8,318.0 396.9,318.2 396.9,318.4 396.9,318.5 397.0,318.7 396.9,318.8 396.9,318.9 396.9,319.0 396.9,319.0 396.8,319.1 396.8,319.1 396.7,319.1 396.6,319.1 396.6,319.0 396.5,319.0 396.5,318.9 396.4,318.9 396.3,318.8 396.3,318.7 396.3,318.7 396.3,318.6 396.2,318.6 396.3,318.5 396.3,318.5 396.3,318.4 396.4,318.4 396.4,318.4 396.5,318.4 396.6,318.4 396.7,318.5 396.8,318.5 396.9,318.6 397.0,318.6 397.1,318.7 397.2,318.8 397.3,319.0 397.4,319.1 397.5,319.2 397.5,319.4 397.6,319.5 397.6,319.7 397.6,319.8 397.6,319.9 397.6,320.1 397.6,320.2 397.5,320.3 397.4,320.4 397.2,320.4 397.1,320.5 396.8,320.5 396.6,320.5 396.3,320.5 395.9,320.5 395.5,320.4 395.0,320.3 394.5,320.2 393.9,320.1 393.3,320.0 392.7,319.9 392.1,319.8 391.5,319.6 390.9,319.5 390.4,319.3 390.0,319.2 389.6,319.1 389.2,319.0 388.9,318.9 388.7,318.8 388.5,318.8 388.3,318.7 388.2,318.7 388.1,318.8 388.0,318.8 387.9,318.9 387.9,319.1 387.8,319.2 387.8,319.4 387.8,319.7 387.8,320.0 387.7,320.3 387.7,320.6 387.7,321.0 387.7,321.4 387.8,321.8 387.8,322.1 387.8,322.4 387.8,322.7 387.9,323.0 387.9,323.2 388.0,323.4 388.0,323.6 388.1,323.7 388.2,323.8 388.4,323.9 388.5,324.0 388.7,324.0 389.0,324.1 389.2,324.1 389.6,324.1 389.9,324.1 390.3,324.1 390.8,324.1 391.2,324.2 391.7,324.1 392.2,324.1 392.7,324.1 393.1,324.1 393.6,324.1 393.9,324.1 394.3,324.0 394.6,324.0 394.9,323.9 395.1,323.9 395.2,323.8 395.4,323.7 395.5,323.5 395.5,323.4 395.5,323.2 395.5,323.0 395.5,322.7 395.4,322.5 395.3,322.2 395.2,321.9 395.1,321.5 394.9,321.2 394.8,320.9 394.6,320.6 394.5,320.3 394.3,320.0 394.1,319.8 394.0,319.6 393.8,319.4 393.7,319.2 393.6,319.1 393.5,319.0 393.4,318.9 393.3,318.8 393.3,318.7 393.3,318.7 393.3,318.6 393.3,318.6 393.3,318.6 393.4,318.5 393.4,318.5 393.5,318.5 393.6,318.5 393.7,318.5 393.8,318.4 393.9,318.4 394.0,318.4 394.2,318.3 394.3,318.3 394.4,318.2 394.5,318.2 394.6,318.1 394.7,318.1 394.7,318.0 394.8,317.9 394.8,317.9 394.8,317.8 394.8,317.8 394.8,317.8 394.8,317.7 394.7,317.7 394.7,317.7 394.6,317.7 394.5,317.7 394.4,317.7 394.3,317.8 394.1,317.8 394.0,317.9 393.9,318.0 393.7,318.1 393.6,318.2 393.5,318.3 393.4,318.5 393.3,318.6 393.2,318.8 393.2,319.0 393.2,319.2 393.2,319.4 393.2,319.6 393.2,319.9 393.3,320.1 393.4,320.2 393.6,320.4 393.8,320.6 394.0,320.7 394.3,320.8 394.6,320.9 394.9,320.9 395.3,320.9 395.7,320.9 396.1,320.8 396.5,320.7 396.9,320.6 397.2,320.4 397.6,320.2 398.0,319.9 398.3,319.7 398.6,319.4 398.8,319.0 399.0,318.7 399.2,318.3 399.4,318.0 399.5,317.7 399.6,317.4 399.7,317.1 399.8,316.9 399.9,316.7 399.9,316.5 400.0,316.4 400.0,316.3 400.0,316.2 400.0,316.1 400.0,316.1 400.0,316.0 400.0,316.0 400.0,316.0 400.0,316.0 399.9,315.9 399.9,315.9 399.8,315.9 399.8,315.9 399.7,316.0 399.6,316.0 399.5,316.0 399.3,316.0 399.1,316.1 398.9,316.2 398.7,316.2 398.4,316.3 398.1,316.4 397.8,316.6 397.4,316.8 397.0,317.0 396.6,317.2 396.2,317.5 395.8,317.8 395.4,318.2 395.0,318.5 394.6,318.9 394.3,319.3 394.0,319.7 393.8,320.0 393.5,320.4 393.4,320.7 393.2,320.9 393.1,321.2 393.1,321.4 393.0,321.6 393.0,321.7 393.0,321.8 393.1,321.9 393.2,322.0 393.2,322.1 393.3,322.1 393.4,322.1 393.6,322.2 393.7,322.2 393.8,322.2 393.9,322.2 394.0,322.2 394.1,322.2 394.2,322.2 394.2,322.2 394.3,322.3 394.3,322.3 394.3,322.3 394.2,322.4 394.1,322.4 394.0,322.5 393.9,322.5 393.7,322.6 393.6,322.7 393.3,322.7 393.1,322.8 392.8,322.9 392.5,323.0 392.3,323.0 392.0,323.1 391.7,323.2 391.4,323.2 391.1,323.3 390.8,323.3 390.5,323.3 390.3,323.4 390.1,323.4 389.9,323.4 389.7,323.4 389.5,323.4 389.4,323.4 389.3,323.3 389.2,323.3 389.1,323.2 389.0,323.2 389.0,323.1 389.0,323.0 389.0,322.9 389.0,322.8 389.0,322.6 389.0,322.5 389.1,322.3 389.1,322.1 389.2,321.9 389.3,321.7 389.4,321.5 389.5,321.3 389.7,321.1 389.8,320.9 390.0,320.8 390.2,320.6 390.5,320.5 390.7,320.4 390.9,320.3 391.2,320.3 391.4,320.2 391.6,320.2 391.9,320.3 392.1,320.4 392.3,320.4 392.5,320.6 392.6,320.7 392.7,320.9 392.8,321.0 392.9,321.2 392.9,321.4 392.9,321.6 392.9,321.8 392.8,322.0 392.8,322.1 392.6,322.3 392.5,322.4 392.3,322.6 392.2,322.7 392.0,322.8 391.8,322.8 391.6,322.9 391.4,322.9 391.2,323.0 391.0,323.0 390.8,323.0 390.6,322.9 390.4,322.9 390.3,322.8 390.2,322.7 390.0,322.6 390.0,322.5 389.9,322.4 389.8,322.2 389.8,322.0 389.7,321.8 389.7,321.5 389.7,321.3 389.8,321.0 389.8,320.7" fill="none" stroke="#f39a3c" stroke-width="0.65" stroke-opacity="1" stroke-linejoin="round" stroke-linecap="round"/>
<path d="M399,317L405,313.2" stroke="#f39a3c" stroke-width="0.6" fill="none"/>
<circle cx="406.2" cy="312.9" r="1.5" fill="#36ade2"/>
<text x="361" y="316.3" font-size="8" fill="#9a9a9a" text-anchor="start" >Ca</text>
<text x="370.8" y="312.6" font-size="5.5" fill="#9a9a9a" text-anchor="start" >2+</text>
<text x="414.2" y="311.2" font-size="8" fill="#222" text-anchor="start" font-style="italic">F</text>
<line x1="407.5" y1="312.9" x2="419.30" y2="312.90" stroke="#111" stroke-width="1.1"/>
<polygon points="422.80,312.90 418.80,314.80 418.80,311.00" fill="#111"/>
<text x="402.7" y="323.8" font-size="8.3" fill="#36ade2" text-anchor="start" textLength="36.2" lengthAdjust="spacingAndGlyphs">C terminus</text>
<text x="424.6" y="296.8" font-size="7.5" fill="#222" text-anchor="start" >ii</text>
<circle cx="428" cy="303.5" r="1.5" fill="#36ade2"/>
<path d="M429.5,303.7L434,304.3" stroke="#777" stroke-width="0.6" fill="none"/>
<path d="M434.0,304.3C434.6,304.4 437.5,305.1 437.5,304.8C437.5,304.5 434.9,303.6 434.0,302.5C433.1,301.4 432.4,300.0 432.0,298.5C431.6,297.0 431.6,294.9 431.8,293.5C432.1,292.1 432.6,290.8 433.5,290.0C434.4,289.2 436.2,288.6 437.5,288.6C438.8,288.6 441.0,288.9 441.5,289.8C442.0,290.7 441.2,292.6 440.5,293.8C439.8,295.0 437.6,295.7 437.3,296.8C437.0,297.9 437.8,299.9 438.6,300.6C439.4,301.3 441.0,301.2 442.3,300.8C443.6,300.4 445.1,299.0 446.2,298.0C447.3,297.0 448.9,296.0 449.2,294.8C449.5,293.6 448.8,291.9 448.0,291.0C447.2,290.1 445.3,289.3 444.2,289.4C443.1,289.5 441.3,290.6 441.2,291.5C441.1,292.4 442.6,293.8 443.5,294.5C444.4,295.2 446.0,295.3 446.5,295.5" fill="none" stroke="#555" stroke-width="0.65"/>
<path d="M435.0,296.0C435.5,295.6 437.8,294.3 438.0,293.5C438.2,292.7 437.2,291.2 436.5,291.0C435.8,290.8 434.2,291.6 434.0,292.5C433.8,293.4 434.4,295.6 435.5,296.5C436.6,297.4 439.7,297.9 440.5,298.2" fill="none" stroke="#888" stroke-width="0.55"/>
<path d="M444,302.2 L446.5,299.8 L448.5,302.6 L451,300.5 L452.5,302.5" fill="none" stroke="#111" stroke-width="0.9"/>
<path d="M451.9,298.5 451.9,298.4 451.8,298.3 451.8,298.3 451.8,298.3 451.9,298.3 451.9,298.3 452.0,298.4 452.1,298.5 452.3,298.6 452.5,298.7 452.7,298.9 453.0,299.1 453.3,299.3 453.7,299.6 454.1,299.9 454.5,300.2 454.9,300.5 455.4,300.7 455.8,301.0 456.2,301.3 456.6,301.5 457.0,301.6 457.3,301.7 457.5,301.8 457.8,301.8 458.0,301.8 458.1,301.7 458.3,301.5 458.4,301.3 458.5,301.1 458.5,300.9 458.6,300.6 458.6,300.3 458.7,300.0 458.7,299.7 458.7,299.4 458.8,299.2 458.8,298.9 458.9,298.8 458.9,298.6 459.0,298.5 459.1,298.5 459.2,298.4 459.3,298.4 459.4,298.4 459.5,298.5 459.7,298.5 459.8,298.7 459.9,298.8 460.0,299.0 460.2,299.3 460.3,299.6 460.4,299.9 460.5,300.3 460.5,300.7 460.6,301.1 460.6,301.5 460.7,301.9 460.7,302.3 460.7,302.6 460.7,302.8 460.7,303.1 460.7,303.2 460.7,303.4 460.6,303.5 460.6,303.6 460.5,303.6 460.4,303.7 460.3,303.7 460.1,303.7 459.9,303.7 459.7,303.7 459.4,303.7 459.1,303.7 458.7,303.7 458.3,303.7 457.9,303.7 457.4,303.7 457.0,303.7 456.5,303.8 456.1,303.8 455.8,303.9 455.4,303.9 455.2,304.0 454.9,304.0 454.8,304.1 454.6,304.2 454.6,304.2 454.5,304.3 454.5,304.3 454.6,304.3 454.7,304.4 454.8,304.4 455.0,304.4 455.1,304.4 455.3,304.4 455.5,304.4 455.7,304.3 455.9,304.3 456.1,304.2 456.3,304.1 456.4,304.0 456.6,303.8 456.6,303.6 456.7,303.2 456.7,302.8 456.7,302.4 456.6,301.8 456.4,301.2 456.3,300.6 456.0,300.0 455.8,299.5 455.5,299.1 455.2,298.7 454.8,298.5 454.5,298.3 454.1,298.1 453.8,298.0 453.5,297.9 453.2,297.9 452.9,297.8 452.7,297.8 452.5,297.8 452.3,297.9 452.2,297.9 452.0,298.0 451.9,298.1 451.9,298.2 451.8,298.4 451.8,298.6 451.8,298.8 451.8,299.0 451.9,299.3 451.9,299.6 452.0,299.8 452.1,300.1 452.2,300.3 452.3,300.5 452.5,300.6 452.6,300.8 452.8,300.8 453.0,300.9 453.2,300.9 453.4,300.8 453.6,300.8 453.8,300.7 453.9,300.6 454.1,300.5 454.2,300.4 454.3,300.3 454.3,300.1 454.4,300.0 454.4,299.9 454.3,299.9 454.3,299.8 454.2,299.8 454.1,299.8 454.0,299.8 453.9,299.8 453.8,299.9 453.6,299.9 453.5,300.0 453.4,300.1 453.3,300.2 453.3,300.3 453.2,300.4 453.2,300.5 453.2,300.5 453.2,300.6 453.2,300.6 453.3,300.6 453.4,300.5 453.5,300.4 453.7,300.3 453.9,300.1 454.1,299.9 454.4,299.7 454.6,299.4 454.9,299.2 455.2,298.9 455.6,298.7 455.9,298.5 456.2,298.3 456.5,298.1 456.7,298.0 457.0,297.9 457.2,297.8 457.3,297.7 457.5,297.7 457.5,297.6 457.6,297.6 457.6,297.6 457.6,297.6 457.5,297.7 457.4,297.7 457.2,297.8 457.1,297.9 456.8,298.0 456.6,298.2 456.4,298.4 456.1,298.7 455.8,299.1 455.6,299.6 455.3,300.2 455.1,300.8 454.9,301.4 454.7,301.9 454.6,302.5 454.5,302.9 454.5,303.3 454.5,303.5 454.5,303.7 454.6,303.9 454.8,304.0 455.0,304.1 455.3,304.2 455.7,304.2 456.0,304.2 456.5,304.2 456.9,304.2 457.4,304.2 457.9,304.2 458.4,304.2 458.8,304.1 459.2,304.1 459.6,304.0 459.9,304.0 460.1,303.9 460.3,303.9 460.5,303.8 460.6,303.8 460.7,303.8 460.8,303.8 460.8,303.7 460.9,303.7 460.9,303.8 460.9,303.8 461.0,303.8 461.0,303.8 460.9,303.8 460.9,303.9 460.9,303.9 460.9,303.9 460.8,303.9 460.7,303.9 460.7,303.9 460.6,303.9 460.5,303.8 460.4,303.7 460.2,303.6 460.1,303.5 459.9,303.4 459.7,303.2 459.5,302.9 459.3,302.7 459.1,302.3 458.9,302.0 458.7,301.6 458.6,301.2 458.4,300.8 458.2,300.4 458.0,300.1 457.9,299.8 457.7,299.5 457.6,299.3 457.4,299.1 457.3,299.0 457.1,299.0 456.9,298.9 456.8,298.9 456.6,299.0 456.3,299.0 456.1,299.2 455.8,299.3 455.5,299.5 455.2,299.8 454.8,300.0 454.5,300.3 454.1,300.6 453.8,300.9 453.4,301.2 453.1,301.5 452.8,301.7 452.5,301.9 452.3,302.1 452.1,302.2 451.9,302.3 451.7,302.3 451.6,302.3 451.5,302.3 451.4,302.1 451.4,302.0 451.3,301.8 451.3,301.5 451.3,301.3 451.3,301.0 451.3,300.6 451.3,300.3 451.4,300.0 451.5,299.7 451.6,299.4 451.7,299.1 451.9,298.9 452.1,298.8 452.3,298.6 452.7,298.5 453.0,298.5 453.5,298.4 453.9,298.4 454.5,298.4 455.0,298.4 455.5,298.5 456.1,298.5 456.5,298.6 457.0,298.7 457.3,298.8 457.7,298.9 457.9,299.0 458.1,299.2 458.2,299.3 458.3,299.4 458.3,299.5 458.2,299.6 458.2,299.6 458.0,299.6 457.8,299.6 457.6,299.6 457.2,299.5 456.9,299.4 456.5,299.2 456.1,299.1 455.6,299.0 455.2,298.8 454.8,298.7 454.4,298.5 454.0,298.4 453.6,298.3 453.3,298.2 453.0,298.2 452.8,298.1 452.6,298.1 452.5,298.1 452.3,298.1 452.3,298.1 452.2,298.2 452.1,298.2 452.1,298.3 452.1,298.5 452.1,298.6 452.1,298.8" fill="none" stroke="#7d3fb5" stroke-width="0.8" stroke-opacity="1" stroke-linejoin="round" stroke-linecap="round"/>
<path d="M484.28,294.55Q484.16,302.94 482.94,310.79M482.19,309.12L482.94,310.79L483.98,309.27M480.43,310.42Q481.33,302.52 482.46,294.03M481.43,295.54L482.46,294.03L483.22,295.70M480.59,295.91Q478.99,302.28 479.23,308.76M478.47,307.09L479.23,308.76L480.26,307.25M476.76,308.18Q477.23,301.23 478.44,295.56M477.40,297.07L478.44,295.56L479.19,297.23M475.94,295.47Q475.41,302.12 475.37,308.33M474.61,306.65L475.37,308.33L476.41,306.81M472.99,310.14Q472.84,301.80 474.69,293.84M473.66,295.36L474.69,293.84L475.45,295.51M472.55,294.39Q472.68,301.10 471.48,308.31M470.72,306.64L471.48,308.31L472.52,306.79M469.76,306.74Q470.29,300.85 470.64,295.60M469.61,297.12L470.64,295.60L471.40,297.27M469.44,293.75Q468.32,302.06 467.52,309.12M466.76,307.44L467.52,309.12L468.55,307.60M465.41,308.75Q466.39,300.99 466.98,292.97M465.95,294.48L466.98,292.97L467.74,294.64M465.72,291.74Q464.32,301.76 463.53,310.20M462.77,308.53L463.53,310.20L464.56,308.69" fill="none" stroke="#2f42b0" stroke-width="0.75" stroke-linejoin="round"/>
<path d="M474.7,306.6 474.2,306.2 473.7,305.9 473.3,305.4 472.8,304.9 472.3,304.3 471.8,303.7 471.3,303.1 470.8,302.4 470.4,301.7 470.0,301.1 469.6,300.5 469.2,300.0 468.9,299.5 468.7,299.1 468.5,298.8 468.3,298.6 468.1,298.5 468.0,298.5 467.9,298.6 467.9,298.8 467.9,299.2 467.9,299.6 467.9,300.1 468.0,300.7 468.0,301.3 468.1,302.0 468.2,302.8 468.3,303.6 468.4,304.3 468.4,305.0 468.5,305.6 468.5,306.2 468.5,306.7 468.5,307.1 468.5,307.5 468.4,307.8 468.2,308.0 468.0,308.2 467.8,308.3 467.5,308.4 467.2,308.5 466.9,308.6 466.5,308.6 466.1,308.6 465.7,308.5 465.2,308.4 464.8,308.3 464.4,308.2 463.9,307.9 463.5,307.7 463.1,307.3 462.8,306.8 462.5,306.3 462.2,305.6 462.0,304.8 461.7,303.8 461.5,302.7 461.4,301.6 461.2,300.4 461.1,299.1 461.0,298.0 460.9,296.9 460.9,296.0 460.8,295.2 460.8,294.5 460.8,293.9 460.8,293.5 460.8,293.1 460.8,292.8 460.8,292.6 460.8,292.5 460.8,292.4 460.9,292.3 461.0,292.3 461.1,292.3 461.2,292.3 461.3,292.4 461.5,292.5 461.7,292.6 462.0,292.7 462.3,292.9 462.7,293.1 463.1,293.3 463.7,293.6 464.3,293.8 464.9,294.1 465.7,294.4 466.5,294.6 467.4,294.8 468.2,295.0 469.1,295.2 470.0,295.3 470.9,295.4 471.6,295.4 472.4,295.4 473.0,295.3 473.6,295.2 474.0,295.0 474.4,294.8 474.7,294.6 474.9,294.3 475.1,294.0 475.1,293.8 475.1,293.5 475.0,293.2 474.9,293.0 474.6,292.8 474.4,292.6 474.0,292.4 473.7,292.3 473.3,292.2 472.8,292.1 472.4,292.0 471.9,292.0 471.4,292.0 470.9,292.0 470.5,292.0 470.1,292.1 469.7,292.2 469.4,292.3 469.1,292.5 468.9,292.7 468.7,292.9 468.6,293.2 468.6,293.6 468.6,294.1 468.7,294.6 468.9,295.1 469.2,295.8 469.5,296.5 469.9,297.2 470.4,297.9 471.0,298.6 471.6,299.3 472.3,300.0 473.1,300.6 473.9,301.2 474.7,301.6 475.6,302.0 476.4,302.3 477.2,302.5 477.9,302.6 478.6,302.7 479.2,302.7 479.8,302.6 480.3,302.4 480.7,302.1 481.1,301.8 481.4,301.4 481.7,301.0 481.9,300.5 482.1,300.1 482.2,299.5 482.3,299.0 482.4,298.5 482.5,298.0 482.5,297.6 482.6,297.2 482.6,296.9 482.6,296.6 482.5,296.4 482.5,296.3 482.4,296.2 482.3,296.2 482.2,296.3 482.1,296.5 481.9,296.7 481.7,297.0 481.5,297.5 481.2,298.0 480.9,298.6 480.6,299.3 480.2,300.0 479.8,300.8 479.4,301.6 478.9,302.4 478.4,303.2 477.9,304.0 477.4,304.7 476.9,305.3 476.3,305.8 475.8,306.3 475.4,306.6 474.9,306.9 474.5,307.2 474.2,307.4 473.9,307.5 473.6,307.6 473.4,307.6 473.2,307.5 473.1,307.5 473.0,307.3 473.0,307.1 473.0,306.9 473.1,306.5 473.1,306.1 473.2,305.5 473.3,304.8 473.5,304.0 473.6,303.0 473.8,302.0 473.9,300.8 474.1,299.6 474.2,298.4 474.4,297.3 474.5,296.3 474.6,295.4 474.7,294.6 474.7,294.0 474.8,293.5 474.8,293.1 474.8,292.7 474.7,292.5 474.7,292.3 474.6,292.2 474.5,292.2 474.3,292.2 474.2,292.2 474.0,292.3 473.8,292.5 473.7,292.7 473.5,293.0 473.3,293.4 473.1,293.8 472.9,294.4 472.7,295.2 472.5,296.0 472.4,297.0 472.3,298.1 472.2,299.2 472.2,300.4 472.1,301.5 472.2,302.6 472.2,303.6 472.3,304.4 472.5,305.2 472.6,305.8 472.9,306.3 473.1,306.6 473.4,306.9 473.8,307.2 474.1,307.3 474.5,307.4 475.0,307.5 475.4,307.5 475.8,307.4 476.3,307.3 476.7,307.2 477.2,307.0 477.6,306.8 478.0,306.5 478.3,306.2 478.7,305.8 479.0,305.3 479.2,304.8 479.5,304.3 479.7,303.7 479.9,303.2 480.0,302.6 480.1,302.1 480.2,301.6 480.2,301.2 480.3,300.9 480.2,300.6 480.2,300.4 480.1,300.3 480.0,300.4 479.8,300.5 479.7,300.7 479.4,301.0 479.2,301.4 478.8,301.8 478.5,302.4 478.1,302.9 477.6,303.5 477.2,304.1 476.6,304.7 476.1,305.3 475.5,305.8 474.9,306.3 474.3,306.8 473.7,307.1 473.1,307.4 472.6,307.7 472.1,307.9 471.6,308.1 471.1,308.2 470.7,308.3 470.4,308.4 470.1,308.5 469.9,308.5 469.7,308.5 469.6,308.4 469.6,308.4 469.6,308.3 469.6,308.2 469.7,308.0 469.9,307.8 470.1,307.6 470.4,307.3 470.7,307.0 471.0,306.6 471.4,306.1 471.7,305.6 472.1,305.0 472.5,304.4 472.9,303.7 473.3,303.1 473.7,302.4 474.1,301.7 474.4,301.1 474.7,300.6 474.9,300.1 475.1,299.6 475.2,299.3 475.3,299.0 475.3,298.8 475.3,298.7 475.2,298.6 475.0,298.6 474.7,298.6 474.4,298.8 474.0,298.9 473.5,299.1 473.0,299.3 472.3,299.6 471.6,299.8 470.9,300.0 470.1,300.3 469.2,300.5 468.4,300.6 467.5,300.7 466.7,300.8 465.9,300.8 465.2,300.7 464.5,300.6 463.9,300.3 463.4,300.0 462.9,299.6 462.5,299.2 462.2,298.6 461.9,298.0 461.7,297.4 461.5,296.7 461.3,296.0 461.2,295.3 461.1,294.6 461.0,294.0 460.9,293.5 460.8,293.0 460.8,292.6 460.8,292.2 460.8,291.9 460.7,291.7 460.7,291.5 460.8,291.3 460.8,291.2 460.8,291.1 460.8,291.0 460.9,291.0 461.0,291.0 461.0,291.0 461.1,291.0 461.2,291.0 461.3,291.0 461.5,291.1 461.6,291.2 461.8,291.3 462.0,291.5 462.3,291.7 462.5,292.0 462.8,292.4 463.1,292.9 463.4,293.4 463.8,294.1 464.1,294.9 464.5,295.8 464.8,296.8 465.2,297.8 465.6,298.8 465.9,299.8 466.2,300.8 466.5,301.6 466.8,302.4 467.1,303.0 467.3,303.5 467.5,303.8 467.7,304.1 467.8,304.2 467.9,304.3 468.0,304.2 468.1,304.1 468.2,303.8 468.2,303.5 468.3,303.0 468.3,302.5 468.4,301.8 468.4,301.1 468.4,300.3 468.5,299.5 468.5,298.6 468.6,297.8 468.7,297.0 468.8,296.2 468.9,295.6 469.0,295.0 469.2,294.5 469.4,294.1 469.6,293.7 469.8,293.5" fill="none" stroke="#2f42b0" stroke-width="0.6" stroke-opacity="1" stroke-linejoin="round" stroke-linecap="round"/>
<path d="M460.2,305.9 460.5,306.6 460.6,307.0 460.6,307.2 460.6,307.0 460.6,306.6 460.8,305.9 461.2,305.2 461.7,304.7 462.4,304.5 463.1,304.6 463.7,305.0 464.2,305.6 464.5,306.2 464.6,306.7 464.6,306.9 464.6,306.7 464.6,306.2 464.8,305.6 465.2,304.9 465.7,304.4 466.4,304.1 467.1,304.2 467.7,304.7 468.2,305.3 468.5,305.9 468.6,306.4 468.6,306.5 468.6,306.4 468.6,305.9 468.8,305.2 469.2,304.5 469.7,304.0 470.4,303.8 471.1,303.9 471.7,304.3 472.2,304.9" fill="none" stroke="#d8282a" stroke-width="0.65"/>
<path d="M460.2,309.2 460.5,309.9 460.6,310.3 460.6,310.5 460.6,310.3 460.6,309.9 460.8,309.2 461.2,308.5 461.7,308.0 462.4,307.8 463.1,307.9 463.7,308.3 464.2,308.9 464.5,309.5 464.6,310.0 464.6,310.2 464.6,310.0 464.6,309.5 464.8,308.9 465.2,308.2 465.7,307.7 466.4,307.4 467.1,307.5 467.7,308.0 468.2,308.6 468.5,309.2 468.6,309.7 468.6,309.8 468.6,309.7 468.6,309.2 468.8,308.5 469.2,307.8 469.7,307.3 470.4,307.1 471.1,307.2 471.7,307.6 472.2,308.2" fill="none" stroke="#d8282a" stroke-width="0.65"/>
<path d="M460.2,312.5 460.5,313.2 460.6,313.6 460.6,313.8 460.6,313.6 460.6,313.2 460.8,312.5 461.2,311.8 461.7,311.3 462.4,311.1 463.1,311.2 463.7,311.6 464.2,312.2 464.5,312.8 464.6,313.3 464.6,313.5 464.6,313.3 464.6,312.8 464.8,312.2 465.2,311.5 465.7,311.0 466.4,310.7 467.1,310.8 467.7,311.3 468.2,311.9 468.5,312.5 468.6,313.0 468.6,313.1 468.6,313.0 468.6,312.5 468.8,311.8 469.2,311.1 469.7,310.6 470.4,310.4 471.1,310.5 471.7,310.9 472.2,311.5" fill="none" stroke="#d8282a" stroke-width="0.65"/>
<path d="M460.2,315.8 460.5,316.5 460.6,316.9 460.6,317.1 460.6,316.9 460.6,316.5 460.8,315.8 461.2,315.1 461.7,314.6 462.4,314.4 463.1,314.5 463.7,314.9 464.2,315.5 464.5,316.1 464.6,316.6 464.6,316.8 464.6,316.6 464.6,316.1 464.8,315.5 465.2,314.8 465.7,314.3 466.4,314.0 467.1,314.1 467.7,314.6 468.2,315.2 468.5,315.8 468.6,316.3 468.6,316.4 468.6,316.3 468.6,315.8 468.8,315.1 469.2,314.4 469.7,313.9 470.4,313.7 471.1,313.8 471.7,314.2 472.2,314.8" fill="none" stroke="#d8282a" stroke-width="0.65"/>
<path d="M460.2,319.1 460.5,319.8 460.6,320.2 460.6,320.4 460.6,320.2 460.6,319.8 460.8,319.1 461.2,318.4 461.7,317.9 462.4,317.7 463.1,317.8 463.7,318.2 464.2,318.8 464.5,319.4 464.6,319.9 464.6,320.1 464.6,319.9 464.6,319.4 464.8,318.8 465.2,318.1 465.7,317.6 466.4,317.3 467.1,317.4 467.7,317.9 468.2,318.5 468.5,319.1 468.6,319.6 468.6,319.7 468.6,319.6 468.6,319.1 468.8,318.4 469.2,317.7 469.7,317.2 470.4,317.0 471.1,317.1 471.7,317.5 472.2,318.1" fill="none" stroke="#d8282a" stroke-width="0.65"/>
<path d="M462.5,320.5 462.7,320.7 462.9,320.9 463.1,321.0 463.2,321.1 463.4,321.2 463.5,321.2 463.6,321.2 463.8,321.3 463.9,321.3 464.0,321.2 464.0,321.2 464.1,321.2 464.2,321.1 464.4,321.0 464.5,320.8 464.6,320.6 464.8,320.3 464.9,319.9 465.1,319.3 465.4,318.6 465.6,317.6 465.9,316.5 466.2,315.2 466.5,313.7 466.8,312.3 467.2,310.9 467.5,309.7 467.9,308.7 468.3,307.9 468.6,307.2 468.9,306.7 469.2,306.4 469.5,306.1 469.7,305.9 469.9,305.8 470.1,305.8 470.2,305.7 470.4,305.8 470.5,305.8 470.6,305.9 470.6,306.1 470.7,306.4 470.7,306.7 470.8,307.1 470.8,307.5 470.8,308.1 470.7,308.8 470.7,309.6 470.6,310.4 470.6,311.3 470.5,312.2 470.4,313.0 470.2,313.8 470.0,314.5 469.8,315.1 469.5,315.6 469.1,316.0 468.7,316.3 468.2,316.5 467.7,316.5 467.1,316.5 466.4,316.4 465.8,316.1 465.2,315.8 464.6,315.4 464.0,314.9 463.5,314.2 463.1,313.5 462.7,312.8 462.5,312.0 462.2,311.1 462.1,310.3 462.0,309.6 462.0,308.9 462.0,308.3 462.1,307.7 462.3,307.3 462.5,306.9 462.9,306.6 463.2,306.3 463.7,306.2 464.2,306.0 464.8,305.9 465.5,305.8 466.1,305.8 466.8,305.7 467.4,305.7 468.0,305.7 468.5,305.8 469.0,305.8 469.4,305.9 469.7,306.0 469.9,306.2 470.1,306.3 470.3,306.5 470.4,306.7 470.5,306.9 470.6,307.1 470.6,307.3 470.6,307.6 470.6,307.9 470.6,308.1 470.5,308.4 470.4,308.7 470.3,309.0 470.1,309.2 469.9,309.5 469.6,309.8 469.2,310.0 468.7,310.3 468.1,310.5 467.3,310.8 466.5,311.1 465.5,311.4 464.6,311.7 463.6,312.0 462.7,312.4 461.9,312.8 461.2,313.2 460.7,313.7 460.2,314.1 459.9,314.6 459.6,315.2 459.4,315.7 459.3,316.2 459.1,316.8 459.1,317.3 459.0,317.7 459.0,318.2 458.9,318.5 458.9,318.9 458.9,319.2 458.9,319.5 458.9,319.7 459.0,319.9 459.0,320.0 459.0,320.1 459.1,320.2 459.2,320.2 459.3,320.3 459.5,320.3 459.6,320.2 459.8,320.2 460.1,320.1 460.3,319.9 460.6,319.8 461.0,319.5 461.4,319.2 461.8,318.9 462.2,318.4 462.6,317.9 463.0,317.3 463.4,316.6 463.7,315.8 464.0,315.0 464.3,314.2 464.5,313.4 464.7,312.6 464.8,311.9 464.9,311.3 464.9,310.8 464.9,310.4 464.8,310.1 464.7,309.9 464.6,309.8 464.5,309.8 464.3,310.0 464.1,310.2 463.9,310.6 463.7,311.1 463.6,311.7 463.4,312.4 463.2,313.2 463.1,314.1 463.0,315.1 462.9,316.0 462.8,316.9 462.7,317.7 462.7,318.4 462.7,319.0 462.7,319.5 462.8,319.9 462.8,320.2 462.9,320.4 463.0,320.6 463.2,320.7 463.3,320.8 463.5,320.8 463.7,320.9 463.9,320.9 464.1,320.8 464.4,320.8 464.6,320.7 464.8,320.5 465.0,320.3 465.2,320.0 465.3,319.6 465.5,319.1 465.6,318.4 465.7,317.5 465.8,316.3 465.9,315.0 465.9,313.6 465.9,312.1 465.9,310.7 465.8,309.4 465.8,308.3 465.7,307.4 465.6,306.7 465.6,306.2 465.5,305.8 465.4,305.6 465.3,305.3 465.2,305.2 465.1,305.1 465.1,305.0 465.1,305.0 465.1,305.0 465.1,305.0 465.2,305.0 465.3,305.0 465.5,305.1 465.6,305.2 465.9,305.3 466.2,305.5 466.5,305.7 466.8,305.9 467.2,306.2 467.6,306.6 468.0,307.0 468.4,307.5 468.8,308.1 469.1,308.7 469.4,309.3 469.7,309.9 470.0,310.5 470.2,311.1 470.4,311.6 470.6,312.0 470.7,312.4 470.8,312.6 470.9,312.8 471.0,312.9 471.0,313.0 471.1,312.9 471.1,312.8 471.1,312.7 471.1,312.5 471.1,312.2 471.1,311.9 471.1,311.6 471.0,311.3 471.0,311.0 470.9,310.7 470.8,310.4 470.7,310.1 470.5,309.8 470.3,309.6 470.0,309.4 469.6,309.3" fill="none" stroke="#d8282a" stroke-width="0.6" stroke-opacity="1" stroke-linejoin="round" stroke-linecap="round"/>
<path d="M478.1,305.7 477.9,305.9 477.7,306.1 477.5,306.4 477.3,306.8 477.0,307.1 476.8,307.6 476.6,308.0 476.4,308.5 476.2,309.1 476.0,309.6 475.8,310.2 475.6,310.8 475.5,311.3 475.4,311.9 475.3,312.4 475.2,312.8 475.1,313.2 475.1,313.5 475.1,313.8 475.0,314.0 475.1,314.2 475.1,314.3 475.1,314.4 475.2,314.5 475.3,314.5 475.4,314.4 475.5,314.4 475.6,314.3 475.8,314.2 475.9,314.1 476.1,314.0 476.3,313.9 476.5,313.8 476.7,313.7 476.8,313.6 477.0,313.6 477.2,313.7 477.4,313.7 477.6,313.8 477.7,314.0 477.9,314.2 478.0,314.5 478.1,314.8 478.2,315.2 478.3,315.6 478.3,316.0 478.4,316.4 478.4,316.8 478.4,317.2 478.4,317.6 478.4,318.0 478.4,318.3 478.4,318.6 478.3,318.8 478.3,319.1 478.3,319.3 478.3,319.4 478.3,319.5 478.3,319.6 478.3,319.7 478.4,319.8 478.5,319.8 478.6,319.8 478.7,319.8 478.8,319.8 479.0,319.8 479.3,319.7 479.5,319.6 479.8,319.5 480.1,319.4 480.5,319.2 480.9,318.9 481.4,318.6 481.8,318.2 482.3,317.7 482.8,317.1 483.4,316.5 483.9,315.7 484.4,314.8 485.0,313.9 485.5,312.9 486.0,312.0 486.5,311.1 487.0,310.2 487.4,309.5 487.8,308.8 488.2,308.3 488.5,307.9 488.8,307.5 489.1,307.2 489.3,307.0 489.5,306.9 489.7,306.9 489.9,306.9 490.0,307.0 490.1,307.1 490.2,307.3 490.3,307.6 490.3,307.9 490.4,308.3 490.4,308.8 490.4,309.4 490.4,310.0 490.4,310.7 490.4,311.4 490.4,312.1 490.4,312.8 490.4,313.5 490.4,314.2 490.3,314.8 490.3,315.4 490.3,315.9 490.3,316.3 490.3,316.7 490.3,317.0 490.3,317.3 490.3,317.5 490.3,317.7 490.3,317.8 490.3,318.0 490.2,318.0 490.2,318.1 490.2,318.1 490.2,318.1 490.2,318.1 490.2,318.0 490.1,318.0 490.1,317.9 490.0,317.8 489.9,317.7 489.8,317.7 489.7,317.5 489.5,317.4 489.4,317.3 489.2,317.2 488.9,317.1 488.7,317.0 488.4,316.9 488.0,316.8 487.7,316.7 487.2,316.7 486.8,316.6 486.3,316.5 485.8,316.4 485.3,316.4 484.7,316.3 484.2,316.2 483.6,316.2 483.1,316.1 482.5,316.0 482.0,315.9 481.6,315.8 481.1,315.6 480.8,315.5 480.4,315.3 480.2,315.1 480.0,314.9 479.8,314.6 479.8,314.3 479.7,314.0 479.8,313.6 479.9,313.3 480.1,312.9 480.4,312.4 480.8,312.0 481.2,311.6 481.8,311.1 482.4,310.7 483.0,310.2 483.8,309.8 484.6,309.4 485.4,309.0 486.2,308.7 487.0,308.3 487.8,308.1 488.5,307.8 489.2,307.5 489.8,307.3 490.4,307.2 490.8,307.0 491.2,306.9 491.6,306.8 491.9,306.7 492.1,306.6 492.3,306.5 492.5,306.5 492.6,306.5 492.7,306.4 492.7,306.4 492.8,306.4 492.8,306.4 492.9,306.4 492.9,306.4 492.8,306.4 492.8,306.4 492.7,306.4 492.7,306.4 492.6,306.4 492.5,306.3 492.3,306.3 492.1,306.3 491.9,306.2 491.6,306.2 491.3,306.2 491.0,306.1 490.5,306.1 490.0,306.0 489.5,306.0 488.9,305.9 488.3,305.9 487.6,305.9 486.9,305.9 486.2,305.9 485.5,305.9 484.8,305.9 484.1,305.9 483.5,306.0 483.0,306.0 482.5,306.1 482.1,306.2 481.7,306.3 481.4,306.5 481.1,306.7 480.9,306.8 480.8,307.0 480.7,307.3 480.6,307.5 480.6,307.8 480.6,308.1 480.6,308.3 480.7,308.6 480.8,308.9 480.8,309.2 480.9,309.4 481.0,309.7 481.1,309.9 481.1,310.0 481.1,310.2 481.1,310.3 481.1,310.3 481.0,310.3 480.9,310.3 480.7,310.2 480.5,310.0 480.2,309.8 480.0,309.6 479.6,309.4 479.3,309.1 478.9,308.8 478.5,308.5 478.1,308.2 477.7,307.9 477.3,307.7 476.9,307.4 476.5,307.2 476.1,307.0 475.8,306.8 475.5,306.7 475.2,306.6 474.9,306.5 474.7,306.5 474.5,306.5 474.3,306.6 474.2,306.7 474.1,306.8 474.0,307.0 473.9,307.3 473.9,307.7 473.8,308.1 473.8,308.6 473.8,309.2 473.8,309.9 473.9,310.6 473.9,311.4 474.0,312.2 474.1,313.1 474.3,313.9 474.4,314.7 474.6,315.5 474.8,316.1 475.1,316.7 475.4,317.2 475.7,317.6 476.0,317.9 476.4,318.2 476.8,318.4 477.2,318.6 477.6,318.7 478.1,318.8 478.5,318.8 478.9,318.8 479.3,318.7 479.6,318.6 480.0,318.5 480.2,318.3 480.5,318.1 480.6,317.8 480.8,317.4 480.8,317.0 480.8,316.4 480.8,315.8 480.7,315.2 480.6,314.4 480.4,313.7 480.2,312.9 479.9,312.1 479.6,311.3 479.3,310.6 479.0,309.9 478.6,309.4 478.3,308.9 478.0,308.5 477.6,308.1 477.3,307.9 477.1,307.7 476.8,307.6 476.5,307.5 476.3,307.6 476.1,307.6 476.0,307.8 475.8,308.0 475.7,308.3 475.6,308.6 475.5,309.0 475.5,309.4 475.5,309.9 475.5,310.4 475.5,311.0 475.5,311.6 475.6,312.2 475.7,312.8 475.8,313.3 475.9,313.9 476.1,314.3 476.2,314.8 476.4,315.2 476.6,315.5 476.8,315.8 477.1,316.1 477.3,316.3 477.6,316.5 477.9,316.6 478.2,316.7 478.5,316.8 478.7,316.8 479.0,316.8 479.3,316.8 479.6,316.8 479.9,316.8 480.2,316.7 480.5,316.7 480.8,316.7 481.0,316.6 481.3,316.6 481.5,316.6 481.8,316.6 482.0,316.6 482.3,316.7 482.5,316.8 482.7,316.9 483.0,317.0 483.2,317.1 483.4,317.3 483.7,317.5 483.9,317.7 484.2,317.9 484.4,318.1 484.7,318.3 484.9,318.4 485.2,318.6 485.5,318.8 485.7,318.9 486.0,319.1 486.2,319.2 486.4,319.3 486.7,319.4 486.9,319.5 487.1,319.5 487.3,319.6 487.4,319.6 487.6,319.6 487.7,319.6 487.8,319.6 487.8,319.5 487.9,319.5 487.9,319.4 487.8,319.3 487.8,319.2 487.7,319.1 487.6,318.9 487.4,318.7 487.2,318.4 487.0,318.1 486.7,317.8 486.4,317.4 486.1,316.9 485.7,316.4 485.3,315.8 484.9,315.2 484.4,314.5 484.0,313.9 483.5,313.2 483.0,312.5 482.6,311.8 482.1,311.1 481.7,310.5 481.3,309.9 480.9,309.4 480.6,308.9 480.3,308.5 480.1,308.2 479.9,307.8 479.8,307.5 479.7,307.3 479.7,307.1 479.8,306.9 479.9,306.8 480.1,306.6 480.3,306.5 480.6,306.4 481.0,306.3 481.5,306.3 482.0,306.2 482.6,306.2 483.2,306.2 483.9,306.1 484.6,306.1 485.3,306.1 486.1,306.1 486.8,306.2 487.5,306.2 488.2,306.2 488.8,306.3 489.3,306.3 489.9,306.4 490.3,306.5 490.7,306.6 491.0,306.7 491.3,306.8 491.6,307.0 491.8,307.1 491.9,307.3 492.1,307.5 492.2,307.8 492.3,308.0 492.4,308.3 492.4,308.6 492.4,308.9 492.5,309.3 492.5,309.6 492.4,310.0 492.4,310.4 492.4,310.7 492.3,311.1 492.3,311.4 492.2,311.7 492.1,312.0 492.0,312.3 491.9,312.5 491.8,312.6 491.7,312.8 491.5,312.8 491.4,312.8 491.3,312.8 491.1,312.7 491.0,312.5 490.9,312.3 490.8,312.1 490.7,311.8 490.6,311.4" fill="none" stroke="#3c9a3c" stroke-width="0.6" stroke-opacity="1" stroke-linejoin="round" stroke-linecap="round"/>
<path d="M505.7,297.6 505.8,297.8 505.9,297.9 506.1,298.1 506.2,298.4 506.3,298.7 506.4,299.2 506.6,299.7 506.7,300.3 506.8,300.9 506.8,301.6 506.9,302.3 507.0,303.0 507.0,303.6 507.0,304.1 507.1,304.6 507.1,305.0 507.1,305.3 507.1,305.5 507.0,305.7 507.0,305.9 506.9,306.0 506.8,306.0 506.7,306.1 506.6,306.1 506.4,306.2 506.2,306.2 505.9,306.2 505.6,306.2 505.2,306.2 504.8,306.2 504.3,306.2 503.7,306.2 503.0,306.1 502.3,306.1 501.6,306.1 500.8,306.0 500.0,305.9 499.3,305.8 498.5,305.6 497.9,305.5 497.2,305.2 496.7,305.0 496.3,304.6 495.9,304.3 495.5,303.8 495.3,303.4 495.1,302.9 494.9,302.4 494.8,301.9 494.8,301.5 494.8,301.1 494.8,300.7 494.9,300.4 495.0,300.2 495.2,300.0 495.4,299.8 495.7,299.7 496.0,299.7 496.4,299.7 496.8,299.7 497.3,299.7 497.9,299.8 498.4,299.9 499.0,300.0 499.6,300.2 500.2,300.3 500.8,300.4 501.4,300.6 501.9,300.7 502.3,300.8 502.7,300.9 503.0,300.9 503.3,301.0 503.5,301.0 503.7,300.9 503.8,300.9 503.8,300.8 503.8,300.6 503.7,300.4 503.6,300.2 503.4,300.0 503.1,299.7 502.8,299.5 502.4,299.2 501.9,298.9 501.3,298.7 500.7,298.4 500.0,298.2 499.3,297.9 498.5,297.7 497.8,297.6 497.1,297.4 496.4,297.3 495.8,297.2 495.2,297.1 494.7,297.1 494.3,297.0 493.9,297.0 493.6,297.0 493.4,297.1 493.2,297.1 493.0,297.2 492.9,297.3 492.8,297.5 492.7,297.6 492.7,297.8 492.6,298.1 492.6,298.3 492.6,298.6 492.6,298.9 492.6,299.2 492.6,299.6 492.6,299.9 492.7,300.2 492.7,300.5 492.8,300.8 492.9,301.1 493.0,301.2 493.1,301.4 493.2,301.5 493.4,301.5 493.6,301.5 493.8,301.4 494.0,301.3 494.3,301.1 494.5,300.9 494.8,300.6 495.1,300.2 495.4,299.9 495.7,299.5 496.0,299.0 496.3,298.6 496.6,298.2 496.8,297.9 497.0,297.6 497.2,297.3 497.4,297.0 497.5,296.8 497.7,296.6 497.8,296.5 497.8,296.4 497.9,296.3 497.9,296.2 497.9,296.2 498.0,296.2 498.0,296.2 498.0,296.2 498.0,296.2 498.1,296.2 498.1,296.3 498.2,296.4 498.3,296.5 498.5,296.6 498.6,296.8 498.8,297.1 499.1,297.4 499.4,297.8 499.7,298.3 500.1,299.0 500.5,299.7 501.0,300.4 501.4,301.2 502.0,302.0 502.5,302.8 503.0,303.4 503.6,304.0 504.1,304.4 504.6,304.8 505.0,305.1 505.4,305.3 505.8,305.5 506.1,305.6 506.4,305.7 506.6,305.8 506.8,305.8 507.0,305.9 507.1,305.9 507.2,305.9 507.3,305.9 507.4,305.9 507.4,305.9 507.5,305.8 507.5,305.8 507.5,305.7 507.5,305.7 507.5,305.6 507.5,305.5 507.5,305.3 507.4,305.2 507.4,305.1 507.3,304.9 507.2,304.8 507.1,304.6 506.9,304.4 506.7,304.3 506.5,304.1 506.2,304.0 505.9,303.9 505.5,303.8 505.0,303.7 504.5,303.7 503.9,303.7 503.2,303.7 502.5,303.7 501.8,303.7 501.1,303.8 500.4,303.9 499.8,303.9 499.2,304.0 498.7,304.1 498.3,304.2 497.9,304.2 497.6,304.3 497.4,304.3 497.2,304.3 497.1,304.3 497.1,304.3 497.2,304.2 497.3,304.2 497.5,304.1 497.7,303.9 498.0,303.8 498.4,303.6 498.8,303.3 499.3,303.0 499.8,302.7 500.3,302.3 500.9,301.9 501.5,301.5 502.1,301.1 502.6,300.6 503.1,300.1 503.6,299.7 504.0,299.3 504.4,298.9 504.7,298.6 505.0,298.3 505.2,298.1 505.4,297.9 505.6,297.7 505.7,297.6 505.7,297.5 505.8,297.4 505.8,297.4 505.7,297.4 505.7,297.5 505.5,297.6 505.4,297.7 505.2,297.8 504.9,298.0 504.6,298.2 504.2,298.5 503.8,298.8 503.3,299.2 502.8,299.6 502.1,300.0 501.5,300.4 500.8,300.9 500.1,301.3 499.3,301.7 498.6,302.0 497.9,302.3 497.3,302.6 496.7,302.8 496.2,302.9 495.8,303.0 495.4,303.1 495.0,303.1 494.7,303.0 494.5,302.9 494.3,302.7 494.1,302.4 494.0,302.1 493.9,301.7 493.8,301.3 493.8,300.8 493.7,300.2 493.7,299.7 493.7,299.1 493.7,298.5 493.8,298.1 493.8,297.6 493.9,297.2 493.9,296.9 494.0,296.7 494.1,296.5 494.1,296.3 494.2,296.2 494.3,296.1 494.4,296.0 494.4,296.0 494.5,295.9 494.5,295.9 494.5,295.9 494.5,295.9 494.5,295.9 494.5,295.9 494.5,295.9 494.4,295.9 494.3,296.0 494.3,296.0 494.2,296.1 494.1,296.2 494.0,296.3 493.9,296.5 493.8,296.7 493.6,297.0 493.6,297.3 493.5,297.7 493.4,298.1 493.3,298.6 493.2,299.1 493.2,299.7 493.2,300.3 493.1,300.8 493.1,301.4 493.1,301.8 493.1,302.3 493.2,302.6 493.2,303.0" fill="none" stroke="#f39a3c" stroke-width="0.7" stroke-opacity="1" stroke-linejoin="round" stroke-linecap="round"/>
<path d="M506,303L510,303" stroke="#f39a3c" stroke-width="0.6" fill="none"/>
<circle cx="511.3" cy="302.9" r="1.5" fill="#36ade2"/>
<text x="322.5" y="336.5" font-size="7.5" fill="#222" text-anchor="start" >iii</text>
<circle cx="324.8" cy="351.6" r="1.5" fill="#36ade2"/>
<path d="M326,351.8L330,352.5" stroke="#777" stroke-width="0.6" fill="none"/>
<path d="M326.0,351.8C326.7,352.1 329.0,353.5 330.0,353.3C331.0,353.1 331.8,352.1 332.0,350.5C332.2,348.9 331.4,345.2 331.3,343.5C331.2,341.8 331.0,340.7 331.5,340.0C332.0,339.3 333.3,339.1 334.5,339.3C335.7,339.6 337.2,340.5 338.5,341.5C339.8,342.5 341.2,343.9 342.2,345.2C343.2,346.5 344.1,348.0 344.6,349.2C345.1,350.4 345.4,351.6 345.0,352.3C344.6,353.0 343.0,353.7 342.0,353.4C341.0,353.1 339.9,351.8 339.0,350.6C338.1,349.4 337.1,347.5 336.8,346.2C336.5,344.9 336.6,343.4 337.2,342.6C337.8,341.8 339.1,341.0 340.2,341.2C341.2,341.4 342.4,342.6 343.5,343.8C344.6,345.0 345.7,347.1 346.5,348.5C347.3,349.9 348.2,351.8 348.5,352.5" fill="none" stroke="#555" stroke-width="0.65"/>
<path d="M339.5,354.5 L342.5,352.6 L344.8,355.2 L347,352.8" fill="none" stroke="#111" stroke-width="0.9"/>
<path d="M355.1,349.1 355.6,349.2 356.1,349.4 356.6,349.5 357.2,349.8 357.8,350.0 358.4,350.3 359.0,350.6 359.5,350.9 359.9,351.1 360.3,351.4 360.6,351.6 360.8,351.7 361.0,351.9 361.2,351.9 361.3,352.0 361.4,352.0 361.4,352.0 361.5,351.9 361.5,351.9 361.5,351.8 361.5,351.7 361.5,351.6 361.4,351.5 361.4,351.4 361.3,351.3 361.1,351.2 361.0,351.1 360.8,351.1 360.5,351.1 360.2,351.1 359.8,351.1 359.4,351.1 358.9,351.2 358.3,351.3 357.6,351.3 357.0,351.4 356.3,351.5 355.6,351.5 355.0,351.6 354.5,351.6 354.0,351.6 353.6,351.6 353.3,351.6 353.0,351.5 352.9,351.4 352.7,351.3 352.7,351.1 352.7,350.9 352.7,350.7 352.8,350.5 352.9,350.3 353.1,350.1 353.2,349.9 353.4,349.7 353.6,349.6 353.8,349.5 354.0,349.4 354.2,349.3 354.4,349.2 354.6,349.2 354.7,349.2 354.9,349.2 355.0,349.3 355.0,349.4 355.1,349.5 355.1,349.7 355.1,350.0 355.1,350.3 355.1,350.6 355.0,351.1 355.0,351.6 355.0,352.1 355.0,352.6 354.9,353.1 354.9,353.5 355.0,353.9 355.0,354.2 355.1,354.4 355.2,354.6 355.3,354.7 355.5,354.8 355.7,354.9 355.9,354.9 356.1,354.9 356.4,354.9 356.6,354.8 356.9,354.7 357.1,354.6 357.4,354.4 357.6,354.2 357.8,354.0 358.0,353.7 358.1,353.4 358.2,353.1 358.3,352.8 358.3,352.5 358.3,352.2 358.2,352.1 358.1,351.9 357.9,351.8 357.7,351.8 357.5,351.9 357.1,352.0 356.7,352.2 356.3,352.4 355.8,352.7 355.3,353.1 354.8,353.4 354.2,353.8 353.7,354.1 353.2,354.5 352.7,354.7 352.3,354.9 352.0,355.1 351.6,355.2 351.4,355.3 351.2,355.4 351.1,355.5 351.0,355.5 350.9,355.5 350.9,355.5 351.0,355.5 351.1,355.5 351.3,355.5 351.5,355.5 351.8,355.5 352.1,355.4 352.5,355.3 352.9,355.2 353.4,355.1 353.8,355.0 354.3,354.8 354.8,354.6 355.2,354.4 355.6,354.1 355.9,353.8 356.2,353.5 356.4,353.2 356.5,352.9 356.6,352.7 356.5,352.4 356.4,352.2 356.1,352.0 355.8,351.9 355.4,351.7 354.9,351.6 354.3,351.5 353.6,351.5 352.9,351.4 352.3,351.3 351.6,351.2 351.0,351.2 350.4,351.1 350.0,351.0 349.6,350.8 349.3,350.7 349.0,350.5 348.9,350.4 348.7,350.2 348.6,350.0 348.5,349.9 348.5,349.7 348.4,349.6 348.4,349.4 348.4,349.3 348.4,349.2 348.4,349.1 348.4,349.1 348.5,349.0 348.5,349.0 348.6,349.0 348.7,349.0 348.9,349.0 349.0,349.1 349.3,349.1 349.5,349.2 349.9,349.3 350.3,349.4 350.8,349.6 351.3,349.7 351.9,349.9 352.5,350.1 353.1,350.4 353.8,350.6 354.4,350.8 354.9,351.0 355.4,351.2 355.8,351.3 356.2,351.4 356.5,351.4 356.8,351.4 357.0,351.3 357.2,351.2 357.3,351.0 357.4,350.8 357.5,350.6 357.6,350.4 357.6,350.1 357.7,349.9 357.7,349.6 357.8,349.5 357.9,349.3 357.9,349.1 358.0,349.0 358.2,349.0 358.3,348.9 358.4,348.9 358.6,348.8 358.8,348.9 358.9,348.9 359.1,348.9 359.3,349.0 359.5,349.2 359.6,349.3 359.8,349.6 359.9,349.8 360.0,350.2 360.2,350.7 360.3,351.2 360.3,351.7 360.4,352.2 360.4,352.8 360.4,353.2 360.5,353.6 360.4,354.0 360.4,354.2 360.4,354.4 360.3,354.5 360.2,354.6 360.1,354.7 360.0,354.7 359.9,354.6 359.7,354.5 359.6,354.4 359.4,354.2 359.3,354.0 359.1,353.7 359.0,353.4 358.8,353.0 358.7,352.6 358.6,352.2 358.6,351.8 358.6,351.4 358.6,351.0 358.6,350.7 358.7,350.4 358.8,350.2 359.0,350.1 359.1,350.0 359.3,349.9 359.4,349.9 359.6,349.9 359.7,350.0 359.9,350.1 360.0,350.2 360.1,350.4 360.2,350.6 360.3,350.8 360.3,351.1 360.3,351.4 360.3,351.7 360.2,352.0 360.1,352.2 360.0,352.5 359.8,352.7 359.5,352.9 359.2,353.1 358.8,353.2 358.3,353.3 357.6,353.4 356.9,353.4 356.1,353.4 355.3,353.4 354.4,353.4 353.5,353.4 352.7,353.4 351.9,353.4 351.3,353.4 350.7,353.4 350.3,353.4 349.9,353.5 349.7,353.5 349.5,353.6 349.3,353.7 349.2,353.8 349.1,353.9 349.1,354.0 349.1,354.2 349.2,354.3 349.2,354.4 349.3,354.6 349.5,354.7 349.7,354.8 350.0,354.8 350.3,354.9 350.8,355.0 351.3,355.0 351.8,355.0 352.5,355.0 353.2,355.0 354.0,355.0 354.7,355.0 355.4,354.9 356.1,354.8 356.6,354.7 357.1,354.6 357.5,354.4 357.8,354.2 358.1,354.0 358.2,353.8 358.3,353.5 358.4,353.3 358.3,353.1 358.2,352.9 358.0,352.7 357.8,352.6 357.5,352.5 357.2,352.4 356.8,352.5 356.3,352.5 355.9,352.6 355.4,352.8 354.9,353.0 354.5,353.2 354.0,353.5 353.6,353.7 353.2,353.9 352.9,354.2 352.6,354.3 352.4,354.5 352.2,354.6 352.1,354.7 352.0,354.8 352.0,354.9 352.0,354.9 352.0,354.9 352.1,354.8 352.1,354.7 352.2,354.6 352.4,354.4 352.5,354.1 352.7,353.8 352.8,353.4 352.9,352.9 353.1,352.3 353.2,351.6 353.3,351.0 353.3,350.4 353.4,349.9 353.4,349.5" fill="none" stroke="#7d3fb5" stroke-width="0.8" stroke-opacity="1" stroke-linejoin="round" stroke-linecap="round"/>
<path d="M366.0,344.4Q373.5,341.6 381.1,344.0M363.6,346.1Q372.2,343.3 380.8,345.8M364.0,347.9Q372.6,345.1 381.2,347.5M365.9,349.6Q373.5,346.8 381.1,349.2M363.8,351.4Q372.9,348.6 381.9,351.0M365.8,353.1Q374.0,350.3 382.2,352.8M365.0,354.9Q373.3,352.1 381.7,354.5M363.9,356.6Q372.6,353.8 381.3,356.2" fill="none" stroke="#2f42b0" stroke-width="0.7"/>
<path d="M372.7,357.3 372.1,357.2 371.5,357.0 370.9,356.9 370.3,356.8 369.7,356.6 369.1,356.5 368.6,356.3 368.1,356.2 367.6,356.0 367.2,355.9 366.9,355.7 366.6,355.6 366.4,355.5 366.2,355.4 366.0,355.3 365.9,355.2 365.8,355.1 365.7,355.1 365.7,355.1 365.7,355.0 365.7,355.0 365.8,355.0 365.8,355.1 365.9,355.1 366.0,355.1 366.1,355.2 366.2,355.3 366.3,355.4 366.4,355.5 366.5,355.5 366.6,355.6 366.7,355.7 366.7,355.8 366.7,355.9 366.8,356.0 366.7,356.1 366.7,356.1 366.6,356.2 366.5,356.2 366.3,356.2 366.2,356.2 366.0,356.1 365.7,356.0 365.5,355.9 365.2,355.8 364.9,355.6 364.6,355.4 364.3,355.2 364.0,355.0 363.6,354.7 363.3,354.4 363.1,354.1 362.8,353.8 362.5,353.5 362.3,353.2 362.1,352.8 361.9,352.5 361.8,352.3 361.6,352.0 361.5,351.8 361.4,351.6 361.3,351.4 361.2,351.2 361.1,351.0 361.1,350.9 361.1,350.8 361.0,350.7 361.0,350.6 361.0,350.6 361.0,350.5 361.0,350.5 361.0,350.4 361.0,350.4 361.1,350.4 361.1,350.4 361.2,350.4 361.2,350.4 361.3,350.4 361.4,350.4 361.6,350.4 361.8,350.4 362.0,350.4 362.2,350.5 362.5,350.5 362.9,350.6 363.3,350.7 363.8,350.8 364.3,350.9 364.9,351.0 365.6,351.2 366.3,351.4 367.1,351.7 367.8,352.0 368.6,352.3 369.3,352.7 370.1,353.2 370.7,353.7 371.3,354.3 371.9,354.9 372.3,355.5 372.8,356.2 373.1,356.8 373.4,357.5 373.6,358.1 373.8,358.6 373.9,359.1 374.0,359.6 374.1,360.0 374.1,360.4 374.0,360.7 373.9,361.0 373.8,361.3 373.6,361.5 373.4,361.6 373.1,361.8 372.8,361.9 372.5,362.0 372.1,362.1 371.6,362.2 371.1,362.3 370.6,362.3 370.0,362.4 369.5,362.4 368.9,362.4 368.3,362.4 367.7,362.5 367.2,362.5 366.7,362.5 366.2,362.5 365.8,362.5 365.4,362.5 365.0,362.5 364.7,362.5 364.5,362.6 364.3,362.6 364.1,362.6 364.0,362.6 363.9,362.6 363.8,362.6 363.8,362.7 363.8,362.7 363.9,362.7 364.0,362.7 364.1,362.8 364.3,362.8 364.5,362.8 364.8,362.8 365.1,362.9 365.5,362.9 365.9,362.9 366.3,362.9 366.8,362.9 367.3,362.9 367.9,362.9 368.5,362.9 369.1,362.8 369.7,362.8 370.3,362.8 370.9,362.7 371.5,362.6 372.0,362.6 372.5,362.5 372.9,362.4 373.3,362.2 373.7,362.1 374.0,361.9 374.2,361.7 374.5,361.5 374.7,361.3 374.8,361.0 375.0,360.7 375.1,360.3 375.1,360.0 375.2,359.6 375.2,359.2 375.2,358.7 375.2,358.3 375.2,357.9 375.2,357.4 375.1,357.0 375.0,356.6 374.9,356.3 374.8,355.9 374.7,355.6 374.5,355.3 374.4,355.1 374.2,354.9 374.0,354.7 373.9,354.6 373.7,354.5 373.5,354.5 373.3,354.4 373.2,354.5 373.0,354.5 372.9,354.6 372.8,354.7 372.7,354.9 372.7,355.1 372.6,355.3 372.6,355.6 372.7,355.9 372.7,356.2 372.8,356.5 373.0,356.9 373.1,357.2 373.3,357.6 373.5,358.0 373.7,358.3 374.0,358.7 374.2,359.0 374.5,359.3 374.7,359.6 374.9,359.9 375.2,360.1 375.4,360.3 375.6,360.5 375.8,360.6 375.9,360.7 376.1,360.8 376.2,360.8 376.3,360.8 376.4,360.8 376.5,360.8 376.6,360.7 376.6,360.6 376.7,360.4 376.7,360.3 376.8,360.1 376.8,359.8 376.8,359.5 376.8,359.2 376.7,358.8 376.7,358.4 376.6,357.9 376.6,357.5 376.5,357.0 376.3,356.5 376.2,356.0 376.0,355.4 375.8,355.0 375.5,354.5 375.1,354.1 374.7,353.6 374.2,353.3 373.6,352.9 372.9,352.6 372.2,352.4 371.3,352.1 370.4,351.9 369.4,351.8 368.4,351.6 367.5,351.5 366.5,351.4 365.7,351.3 364.9,351.2 364.2,351.2 363.6,351.1 363.1,351.1 362.7,351.0 362.4,351.0 362.1,351.0 361.8,351.0 361.7,351.0 361.5,351.0 361.4,351.0 361.3,351.0 361.2,351.0 361.2,351.0 361.1,351.0 361.1,351.0 361.1,351.0 361.1,351.0 361.1,351.0 361.1,351.1 361.1,351.1 361.2,351.1 361.2,351.1 361.3,351.1 361.4,351.1 361.5,351.1 361.6,351.1 361.8,351.1 361.9,351.1 362.1,351.2 362.3,351.2 362.6,351.2 362.8,351.2 363.1,351.2 363.4,351.2 363.8,351.2 364.1,351.2 364.5,351.3 364.9,351.3 365.2,351.3 365.6,351.4 365.9,351.4 366.2,351.5 366.5,351.6 366.8,351.7 367.0,351.8 367.2,352.0 367.3,352.1 367.4,352.3 367.4,352.6 367.4,352.9 367.4,353.2 367.3,353.5 367.2,353.9 367.0,354.4 366.8,354.9 366.6,355.5 366.4,356.1 366.1,356.7 365.9,357.4 365.6,358.1 365.3,358.7 365.1,359.3 364.8,359.9 364.6,360.5 364.4,361.0" fill="none" stroke="#2f42b0" stroke-width="0.6" stroke-opacity="1" stroke-linejoin="round" stroke-linecap="round"/>
<path d="M369.3,352.3 369.0,352.4 368.7,352.4 368.5,352.3 368.3,352.2 368.1,352.0 367.9,351.7 367.8,351.3 367.6,350.9 367.5,350.3 367.4,349.6 367.3,348.8 367.2,348.0 367.1,347.0 367.0,346.1 366.9,345.3 366.8,344.5 366.7,343.9 366.6,343.4 366.5,343.0 366.3,342.6 366.2,342.4 366.1,342.2 365.9,342.1 365.8,342.0 365.7,341.9 365.5,341.9 365.4,341.8 365.2,341.8 365.1,341.8 364.9,341.8 364.8,341.8 364.7,341.8 364.6,341.9 364.5,341.9 364.4,342.0 364.3,342.1 364.2,342.2 364.2,342.4 364.1,342.6 364.1,342.8 364.1,343.1 364.1,343.5 364.1,343.9 364.1,344.4 364.2,345.0 364.3,345.6 364.4,346.2 364.5,346.8 364.6,347.4 364.8,347.9 365.1,348.3 365.3,348.7 365.6,349.0 366.0,349.2 366.4,349.3 366.9,349.4 367.4,349.4 368.0,349.3 368.6,349.2 369.2,349.0 369.9,348.8 370.6,348.5 371.3,348.2 371.9,347.9 372.6,347.5 373.2,347.2 373.7,346.8 374.2,346.5 374.6,346.2 375.0,345.9 375.3,345.7 375.6,345.5 375.8,345.3 375.9,345.2 376.0,345.2 376.0,345.2 376.0,345.2 375.9,345.3 375.8,345.5 375.6,345.7 375.4,346.0 375.2,346.4 374.9,346.8 374.6,347.3 374.3,347.8 373.9,348.4 373.6,349.0 373.2,349.6 372.9,350.2 372.6,350.7 372.3,351.2 372.1,351.7 371.9,352.1 371.8,352.5 371.7,352.8 371.7,353.0 371.7,353.2 371.9,353.4 372.1,353.5 372.4,353.6 372.7,353.7 373.1,353.7 373.6,353.8 374.2,353.8 374.8,353.8 375.4,353.8 376.1,353.8 376.7,353.8 377.3,353.7 377.9,353.7 378.4,353.6 378.9,353.6 379.3,353.5 379.7,353.4 380.0,353.2 380.2,353.1 380.4,352.9 380.6,352.7 380.8,352.5 380.9,352.3 380.9,352.0 381.0,351.7 381.1,351.4 381.1,351.1 381.1,350.9 381.1,350.6 381.1,350.3 381.0,350.0 381.0,349.7 380.9,349.5 380.8,349.3 380.7,349.1 380.5,348.9 380.2,348.7 379.9,348.6 379.6,348.4 379.1,348.3 378.5,348.2 377.8,348.2 376.9,348.1 376.0,348.0 374.9,348.0 373.7,347.9 372.6,347.9 371.4,347.8 370.3,347.7 369.3,347.7 368.4,347.6 367.7,347.6 367.1,347.5 366.6,347.4 366.2,347.3 365.9,347.2 365.6,347.1 365.5,347.0 365.4,346.8 365.4,346.7 365.4,346.6 365.5,346.4 365.7,346.3 366.0,346.1 366.3,345.9 366.7,345.8 367.1,345.6 367.7,345.4 368.3,345.3 368.9,345.1 369.7,344.9 370.4,344.8 371.2,344.6 372.0,344.5 372.7,344.3 373.4,344.2 374.0,344.0 374.6,343.9 375.0,343.7 375.3,343.6 375.6,343.5 375.7,343.4 375.8,343.3 375.7,343.2 375.6,343.1 375.3,343.0 375.0,342.9 374.5,342.9 373.9,342.8 373.1,342.8 372.3,342.7 371.3,342.7 370.3,342.7 369.3,342.6 368.3,342.6 367.3,342.6 366.4,342.6 365.6,342.7 365.0,342.7 364.4,342.7 364.0,342.8 363.6,342.9 363.4,343.0 363.2,343.1 363.0,343.3 362.9,343.4 362.8,343.7 362.7,343.9 362.7,344.2 362.7,344.5 362.6,344.9 362.6,345.4 362.6,345.8 362.7,346.4 362.7,346.9 362.7,347.4 362.8,348.0 362.9,348.5 363.0,349.1 363.2,349.6 363.4,350.0 363.7,350.4 364.2,350.7 364.7,351.0 365.4,351.3 366.2,351.5 367.3,351.7 368.5,351.8 369.8,351.9 371.2,351.9 372.5,352.0 373.8,351.9 375.0,351.9" fill="none" stroke="#4050c0" stroke-width="0.55" stroke-opacity="1" stroke-linejoin="round" stroke-linecap="round"/>
<path d="M378.2,354.3 378.6,355.0 378.8,355.4 378.9,355.6 378.8,355.4 378.8,354.9 378.9,354.2 379.2,353.4 379.7,352.7 380.3,352.4 381.0,352.4 381.7,352.8 382.3,353.3 382.8,354.0 383.0,354.4 383.0,354.6 383.0,354.4 383.0,353.9 383.1,353.2 383.3,352.4 383.8,351.7 384.5,351.4 385.2,351.4 385.9,351.8 386.5,352.3 386.9,353.0 387.2,353.4 387.2,353.6 387.2,353.4 387.1,352.9 387.2,352.2 387.5,351.4 388.0,350.7 388.6,350.4 389.4,350.4 390.1,350.8 390.7,351.3" fill="none" stroke="#d8282a" stroke-width="0.7"/>
<path d="M378.2,358.1 378.6,358.8 378.8,359.2 378.9,359.4 378.8,359.2 378.8,358.7 378.9,358.0 379.2,357.2 379.7,356.5 380.3,356.2 381.0,356.2 381.7,356.6 382.3,357.1 382.8,357.8 383.0,358.2 383.0,358.4 383.0,358.2 383.0,357.7 383.1,357.0 383.3,356.2 383.8,355.5 384.5,355.2 385.2,355.2 385.9,355.6 386.5,356.1 386.9,356.8 387.2,357.2 387.2,357.4 387.2,357.2 387.1,356.7 387.2,356.0 387.5,355.2 388.0,354.5 388.6,354.2 389.4,354.2 390.1,354.6 390.7,355.1" fill="none" stroke="#d8282a" stroke-width="0.7"/>
<path d="M378.2,361.9 378.6,362.6 378.8,363.0 378.9,363.2 378.8,363.0 378.8,362.5 378.9,361.8 379.2,361.0 379.7,360.3 380.3,360.0 381.0,360.0 381.7,360.4 382.3,360.9 382.8,361.6 383.0,362.0 383.0,362.2 383.0,362.0 383.0,361.5 383.1,360.8 383.3,360.0 383.8,359.3 384.5,359.0 385.2,359.0 385.9,359.4 386.5,359.9 386.9,360.6 387.2,361.0 387.2,361.2 387.2,361.0 387.1,360.5 387.2,359.8 387.5,359.0 388.0,358.3 388.6,358.0 389.4,358.0 390.1,358.4 390.7,358.9" fill="none" stroke="#d8282a" stroke-width="0.7"/>
<path d="M378.2,365.7 378.6,366.4 378.8,366.8 378.9,367.0 378.8,366.8 378.8,366.3 378.9,365.6 379.2,364.8 379.7,364.1 380.3,363.8 381.0,363.8 381.7,364.2 382.3,364.7 382.8,365.4 383.0,365.8 383.0,366.0 383.0,365.8 383.0,365.3 383.1,364.6 383.3,363.8 383.8,363.1 384.5,362.8 385.2,362.8 385.9,363.2 386.5,363.7 386.9,364.4 387.2,364.8 387.2,365.0 387.2,364.8 387.1,364.3 387.2,363.6 387.5,362.8 388.0,362.1 388.6,361.8 389.4,361.8 390.1,362.2 390.7,362.7" fill="none" stroke="#d8282a" stroke-width="0.7"/>
<path d="M383.1,363.4 383.1,362.9 383.0,362.4 383.0,361.9 382.9,361.5 382.7,361.0 382.6,360.5 382.4,360.1 382.2,359.7 382.0,359.3 381.8,358.9 381.5,358.6 381.2,358.3 380.9,358.0 380.6,357.7 380.4,357.4 380.1,357.2 379.8,357.0 379.6,356.8 379.3,356.6 379.1,356.4 378.9,356.3 378.8,356.2 378.6,356.1 378.5,355.9 378.4,355.9 378.3,355.8 378.3,355.7 378.2,355.7 378.2,355.6 378.1,355.6 378.1,355.6 378.1,355.5 378.1,355.5 378.1,355.6 378.1,355.6 378.1,355.6 378.2,355.7 378.3,355.7 378.3,355.8 378.5,355.9 378.6,356.0 378.8,356.2 379.0,356.3 379.3,356.5 379.6,356.7 380.1,357.0 380.6,357.3 381.2,357.6 381.8,358.0 382.6,358.4 383.4,358.8 384.2,359.2 385.0,359.7 385.7,360.1 386.4,360.6 387.0,361.0 387.5,361.4 387.9,361.8 388.3,362.1 388.6,362.4 388.8,362.7 389.0,363.0 389.1,363.2 389.2,363.4 389.3,363.5 389.4,363.6 389.4,363.7 389.4,363.7 389.4,363.8 389.3,363.8 389.3,363.8 389.2,363.8 389.1,363.9 389.0,363.9 388.8,363.9 388.6,364.0 388.4,364.1 388.2,364.2 387.9,364.3 387.6,364.5 387.3,364.6 386.9,364.9 386.6,365.1 386.2,365.4 385.9,365.7 385.6,366.0 385.3,366.3 385.1,366.6 384.9,367.0 384.8,367.3 384.7,367.5 384.7,367.8 384.8,368.0 384.9,368.2 385.0,368.4 385.2,368.5 385.5,368.6 385.8,368.7 386.1,368.8 386.5,368.9 386.8,368.9 387.2,368.9 387.6,369.0 387.9,369.0 388.2,369.0 388.5,368.9 388.7,368.9 388.9,368.8 389.1,368.7 389.3,368.6 389.4,368.4 389.5,368.2 389.6,368.0 389.6,367.6 389.6,367.2 389.7,366.6 389.7,365.9 389.6,365.1 389.6,364.2 389.5,363.2 389.4,362.2 389.3,361.2 389.1,360.2 388.9,359.4 388.5,358.6 388.2,358.0 387.7,357.4 387.0,357.0 386.3,356.7 385.5,356.4 384.5,356.3 383.6,356.1 382.6,356.0 381.7,356.0 380.9,356.0 380.2,356.0 379.6,356.0 379.2,356.1 378.8,356.2 378.5,356.4 378.3,356.5 378.2,356.7 378.1,357.0 378.0,357.3 377.9,357.6 377.9,357.9 377.8,358.2 377.8,358.6 377.8,358.9 377.8,359.2 377.8,359.4 377.8,359.6 377.9,359.8 377.9,359.8 378.0,359.8 378.0,359.8 378.1,359.6 378.3,359.4 378.4,359.1 378.6,358.8 378.9,358.5 379.2,358.1 379.5,357.7 380.0,357.3 380.4,357.0 381.0,356.6 381.5,356.4 382.1,356.1 382.7,355.9 383.3,355.7 383.8,355.6 384.2,355.5 384.6,355.4 384.9,355.3 385.2,355.3 385.3,355.3 385.4,355.3 385.5,355.3 385.4,355.4 385.3,355.5 385.2,355.6 385.0,355.8 384.7,356.1 384.4,356.5 384.0,356.9 383.6,357.5 383.2,358.3 382.8,359.3 382.3,360.4 381.9,361.6 381.5,362.9 381.2,364.1 380.9,365.2 380.6,366.2 380.4,366.9 380.2,367.5 380.1,368.0 380.0,368.3 379.9,368.6 379.9,368.8 379.9,368.9 380.0,369.0 380.1,369.1 380.3,369.1 380.6,369.1 380.9,369.1 381.3,369.1 381.8,369.1 382.3,369.1 383.0,369.0 383.7,368.9 384.5,368.8 385.3,368.7 386.1,368.5 386.8,368.3 387.5,368.0 388.1,367.7 388.5,367.3 388.9,366.9 389.3,366.4 389.5,365.8 389.7,365.3 389.8,364.7 390.0,364.2 390.0,363.7 390.1,363.3 390.2,362.9 390.2,362.7 390.2,362.5 390.2,362.4" fill="none" stroke="#d8282a" stroke-width="0.6" stroke-opacity="1" stroke-linejoin="round" stroke-linecap="round"/>
<path d="M397.1,351.4 397.1,351.2 397.1,351.0 397.1,350.9 397.3,350.8 397.4,350.7 397.6,350.7 397.9,350.6 398.3,350.6 398.6,350.6 399.1,350.6 399.6,350.6 400.1,350.6 400.6,350.7 401.2,350.7 401.7,350.8 402.3,350.8 402.8,350.9 403.3,351.0 403.8,351.1 404.3,351.2 404.7,351.4 405.0,351.5 405.4,351.7 405.6,351.8 405.8,352.0 406.0,352.1 406.2,352.2 406.3,352.3 406.3,352.5 406.4,352.6 406.4,352.6 406.3,352.7 406.3,352.8 406.2,352.8 406.1,352.9 405.9,352.9 405.8,353.0 405.6,353.0 405.4,353.1 405.2,353.2 405.0,353.3 404.7,353.4 404.5,353.5 404.3,353.7 404.1,354.0 403.9,354.3 403.7,354.6 403.6,355.0 403.4,355.4 403.3,355.8 403.2,356.3 403.2,356.8 403.2,357.3 403.2,357.8 403.2,358.2 403.2,358.7 403.2,359.1 403.2,359.4 403.3,359.7 403.3,359.9 403.3,360.1 403.3,360.3 403.2,360.4 403.1,360.5 403.0,360.6 402.8,360.6 402.5,360.6 402.3,360.6 401.9,360.6 401.5,360.6 401.0,360.5 400.4,360.4 399.8,360.3 399.1,360.2 398.3,360.0 397.5,359.8 396.8,359.6 396.0,359.4 395.2,359.1 394.5,358.9 393.9,358.6 393.3,358.4 392.8,358.2 392.4,358.0 392.0,357.9 391.7,357.8 391.4,357.7 391.2,357.7 391.0,357.8 390.9,357.9 390.8,358.0 390.7,358.2 390.7,358.4 390.6,358.6 390.6,358.8 390.6,359.0 390.6,359.2 390.7,359.4 390.7,359.6 390.8,359.7 390.9,359.9 391.0,360.0 391.2,360.0 391.4,360.1 391.6,360.1 391.9,360.1 392.2,360.0 392.5,360.0 392.9,359.9 393.3,359.7 393.7,359.6 394.2,359.4 394.6,359.1 395.1,358.8 395.5,358.5 395.9,358.2 396.2,357.8 396.6,357.4 396.8,357.0 397.0,356.7 397.2,356.3 397.2,356.0 397.3,355.8 397.3,355.6 397.2,355.4 397.1,355.4 397.0,355.3 396.8,355.4 396.7,355.5 396.5,355.6 396.4,355.8 396.3,356.1 396.2,356.4 396.1,356.7 396.1,357.0 396.1,357.4 396.1,357.7 396.2,358.0 396.4,358.3 396.6,358.5 396.9,358.7 397.2,358.9 397.6,359.0 398.0,359.1 398.5,359.2 399.0,359.2 399.6,359.2 400.2,359.1 400.8,359.0 401.4,358.8 401.9,358.6 402.5,358.4 403.0,358.1 403.4,357.8 403.8,357.5 404.1,357.2 404.3,356.8 404.5,356.5 404.6,356.2 404.6,355.9 404.6,355.7 404.5,355.6 404.3,355.5 404.0,355.5 403.6,355.5 403.2,355.6 402.6,355.8 402.0,356.1 401.3,356.4 400.5,356.8 399.7,357.2 398.9,357.7 398.1,358.2 397.2,358.6 396.5,359.1 395.8,359.5 395.1,359.8 394.6,360.1 394.1,360.3 393.7,360.5 393.4,360.7 393.2,360.8 393.0,360.9 392.8,361.0 392.8,361.0 392.7,361.0 392.8,361.0 392.8,361.0 393.0,361.0 393.1,361.0 393.4,360.9 393.6,360.8 394.0,360.6 394.4,360.5 394.8,360.3 395.3,360.1 395.8,359.8 396.4,359.5 397.0,359.1 397.5,358.8 398.1,358.4 398.6,358.1 399.0,357.7 399.4,357.4 399.7,357.1 399.9,356.8 400.1,356.7 400.1,356.5 400.1,356.4 400.0,356.4 399.8,356.3 399.5,356.4 399.2,356.4 398.8,356.5 398.4,356.6 397.9,356.6 397.4,356.7 396.9,356.7 396.4,356.8 395.9,356.7 395.4,356.7 395.0,356.6 394.7,356.4 394.4,356.2 394.1,355.9 393.9,355.5 393.8,355.1 393.7,354.7 393.7,354.2 393.7,353.7 393.8,353.2 394.0,352.7 394.2,352.2 394.4,351.8 394.8,351.5 395.2,351.2 395.7,351.0 396.3,350.8 396.9,350.6 397.6,350.5 398.3,350.4 399.1,350.4 399.9,350.3 400.6,350.3 401.3,350.3 402.0,350.3 402.5,350.3 403.1,350.3 403.5,350.4 403.9,350.4 404.2,350.5 404.4,350.6 404.5,350.8 404.6,350.9 404.6,351.1 404.5,351.4 404.4,351.7 404.3,352.0 404.0,352.4 403.8,352.8 403.5,353.2 403.1,353.6 402.8,353.9 402.4,354.3 402.1,354.6 401.7,354.8 401.4,354.9 401.2,355.0 401.0,355.1 400.8,355.1 400.8,355.0 400.8,354.9 400.9,354.7 401.1,354.5 401.4,354.3 401.8,354.1 402.3,353.9 402.8,353.7 403.4,353.6 404.0,353.4 404.6,353.3 405.3,353.2 405.9,353.1 406.5,353.1 407.0,353.1 407.5,353.2 407.9,353.3 408.2,353.4 408.5,353.6 408.8,353.8 409.0,354.1 409.1,354.4 409.2,354.7 409.3,355.0 409.4,355.3 409.5,355.6 409.5,355.9 409.5,356.2 409.5,356.4 409.4,356.6 409.4,356.7 409.3,356.8 409.2,356.8 409.1,356.8 408.9,356.7 408.8,356.5 408.5,356.3 408.2,356.0 407.9,355.6 407.4,355.2 407.0,354.8 406.4,354.4 405.8,353.9 405.2,353.5 404.6,353.0 403.9,352.7 403.2,352.3 402.6,352.0 402.0,351.8 401.5,351.6 401.1,351.4 400.7,351.3 400.4,351.2 400.2,351.1 400.0,351.1 400.0,351.1 399.9,351.1 400.0,351.1 400.0,351.2 400.2,351.2 400.3,351.3 400.4,351.5 400.6,351.6 400.8,351.8 400.9,352.0 401.0,352.3 401.1,352.5 401.1,352.8 401.1,353.0 401.0,353.3 400.9,353.5 400.7,353.7 400.5,353.9 400.2,354.0 399.8,354.1 399.4,354.2 399.0,354.2 398.5,354.1 398.0,354.0 397.5,353.9 396.9,353.8 396.4,353.6 395.9,353.4 395.5,353.2 395.1,353.0 394.7,352.8 394.4,352.7 394.2,352.5 394.0,352.4 393.9,352.3 393.8,352.2 393.8,352.1 393.8,352.1 393.9,352.1 394.1,352.2 394.4,352.2 394.8,352.3 395.2,352.5 395.8,352.6 396.4,352.8 397.2,353.1 398.0,353.4 399.0,353.7 400.0,354.0 401.0,354.4 402.0,354.7 403.1,355.1 404.0,355.5 404.8,355.8 405.6,356.2 406.2,356.5 406.8,356.7 407.2,357.0 407.6,357.2 407.9,357.3 408.2,357.5 408.3,357.5 408.5,357.6 408.6,357.6 408.6,357.6 408.7,357.6 408.7,357.6 408.7,357.5 408.6,357.5 408.5,357.4 408.4,357.4 408.3,357.3 408.1,357.3 408.0,357.3 407.7,357.3 407.5,357.3 407.2,357.4 406.9,357.5 406.6,357.7 406.3,357.8 405.9,358.0 405.6,358.2 405.3,358.5 404.9,358.7 404.6,358.9 404.4,359.2 404.1,359.4 403.9,359.6 403.8,359.8 403.6,360.0 403.5,360.2 403.5,360.3 403.4,360.5 403.4,360.6 403.4,360.7 403.4,360.7 403.4,360.8 403.3,360.8 403.3,360.8 403.3,360.8 403.2,360.8 403.1,360.8 402.9,360.8 402.7,360.7 402.5,360.7 402.2,360.6 401.8,360.5 401.4,360.4 400.9,360.3 400.4,360.1 399.8,360.0 399.1,359.8 398.5,359.6 397.8,359.4 397.1,359.2 396.4,359.0 395.7,358.8 395.1,358.5 394.5,358.3 394.0,358.1 393.5,357.9 393.1,357.8 392.7,357.6 392.4,357.5 392.1,357.3 391.9,357.2 391.8,357.1 391.6,357.1 391.5,357.0 391.5,356.9 391.4,356.9 391.4,356.8 391.4,356.8 391.4,356.8 391.4,356.7 391.5,356.7 391.6,356.6 391.7,356.6 391.9,356.6 392.0,356.5 392.2,356.5 392.4,356.4 392.6,356.4 392.9,356.3 393.1,356.3 393.4,356.2 393.7,356.2 394.0,356.2 394.3,356.2 394.5,356.2 394.8,356.2 395.0,356.2 395.2,356.2 395.3,356.3 395.4,356.3 395.5,356.4 395.5,356.5 395.5,356.7 395.5,356.8 395.4,357.0 395.3,357.2 395.2,357.4 395.0,357.5 394.9,357.8 394.7,358.0 394.6,358.2 394.4,358.4 394.3,358.6 394.2,358.8 394.0,359.0 393.9,359.1 393.9,359.3 393.8,359.5 393.8,359.6 393.8,359.7" fill="none" stroke="#3c9a3c" stroke-width="0.6" stroke-opacity="1" stroke-linejoin="round" stroke-linecap="round"/>
<path d="M427.9,356.8 428.0,356.8 428.1,356.9 428.1,356.9 428.2,356.9 428.2,356.9 428.2,356.8 428.2,356.8 428.2,356.8 428.1,356.7 428.0,356.6 427.9,356.5 427.8,356.4 427.7,356.3 427.5,356.2 427.3,356.0 427.0,355.9 426.7,355.6 426.4,355.4 426.0,355.2 425.6,354.9 425.1,354.6 424.6,354.3 424.0,353.9 423.4,353.5 422.7,353.2 422.0,352.8 421.2,352.4 420.4,352.0 419.7,351.6 418.9,351.2 418.1,350.8 417.4,350.5 416.7,350.2 416.0,349.9 415.4,349.6 414.9,349.4 414.4,349.1 414.0,348.9 413.6,348.8 413.2,348.6 412.9,348.5 412.6,348.4 412.4,348.3 412.2,348.2 412.0,348.1 411.9,348.0 411.7,348.0 411.6,347.9 411.6,347.9 411.5,347.9 411.4,347.8 411.4,347.8 411.4,347.8 411.3,347.8 411.3,347.8 411.3,347.8 411.3,347.9 411.4,347.9 411.4,347.9 411.4,347.9 411.5,348.0 411.5,348.0 411.6,348.1 411.6,348.1 411.7,348.2 411.8,348.2 411.9,348.3 412.0,348.4 412.1,348.5 412.2,348.5 412.3,348.6 412.4,348.7 412.5,348.8 412.6,348.9 412.7,349.0 412.8,349.1 412.9,349.2 413.0,349.4 413.0,349.5 413.1,349.6 413.2,349.7 413.2,349.9 413.3,350.0 413.3,350.1 413.3,350.3 413.3,350.4 413.3,350.6 413.3,350.7 413.3,350.9 413.2,351.0 413.2,351.2 413.1,351.3 413.1,351.5 413.0,351.7 412.9,351.8 412.9,352.0 412.8,352.2 412.7,352.3 412.6,352.5 412.5,352.6 412.5,352.8 412.4,352.9 412.3,353.1 412.3,353.2 412.2,353.3 412.1,353.5 412.1,353.6 412.1,353.7 412.0,353.8 412.0,353.9 412.0,353.9 412.0,354.0 412.0,354.0 412.0,354.1 412.0,354.1 412.0,354.1 412.1,354.1 412.1,354.0 412.2,354.0 412.3,353.9 412.4,353.9 412.5,353.8 412.7,353.6 412.8,353.5 413.0,353.4 413.2,353.2 413.4,353.0 413.7,352.9 414.0,352.6 414.3,352.4 414.7,352.2 415.1,352.0 415.5,351.8 415.9,351.5 416.4,351.3 417.0,351.1 417.5,350.8 418.1,350.6 418.7,350.4 419.3,350.2 419.9,350.0 420.6,349.8 421.2,349.7 421.8,349.6 422.4,349.4 423.0,349.3 423.5,349.2 424.0,349.1 424.5,349.1 425.0,349.0 425.4,349.0 425.8,349.0 426.1,349.0 426.4,349.0 426.7,349.0 427.0,349.1 427.2,349.2 427.4,349.3 427.6,349.4 427.8,349.5 427.9,349.6 428.0,349.8 428.1,350.0 428.2,350.2 428.3,350.5 428.4,350.8 428.5,351.0 428.5,351.4 428.6,351.7 428.6,352.0 428.6,352.4 428.6,352.8 428.6,353.1 428.7,353.5 428.6,353.8 428.6,354.1 428.6,354.5 428.6,354.8 428.6,355.0 428.5,355.3 428.5,355.5 428.5,355.7 428.4,355.9 428.4,356.0 428.3,356.2 428.2,356.3 428.1,356.4 428.1,356.5 428.0,356.5 427.9,356.6 427.8,356.6 427.7,356.6 427.5,356.6 427.4,356.6 427.3,356.6 427.1,356.6 427.0,356.5 426.8,356.5 426.7,356.4 426.5,356.3 426.3,356.3 426.1,356.2 425.9,356.1 425.7,356.0 425.5,355.9 425.3,355.8 425.1,355.7 424.9,355.6 424.6,355.5 424.4,355.4 424.2,355.3 424.0,355.3 423.7,355.2 423.5,355.2 423.3,355.2 423.1,355.2 422.9,355.2 422.7,355.2 422.5,355.3 422.3,355.4 422.1,355.4 421.9,355.6 421.8,355.7 421.6,355.8 421.5,356.0 421.4,356.1 421.3,356.3 421.2,356.4 421.1,356.6 421.0,356.7 421.0,356.9 421.0,357.0 421.0,357.2 421.0,357.3 421.0,357.4 421.0,357.5 421.1,357.6 421.2,357.7 421.2,357.8 421.3,357.8 421.5,357.9 421.6,357.9 421.7,357.9 421.9,358.0 422.1,358.0 422.2,358.0 422.4,358.0 422.6,358.0 422.8,358.0 423.0,358.0 423.2,357.9 423.4,357.9 423.6,357.8 423.8,357.8 424.0,357.7 424.2,357.6 424.4,357.4 424.5,357.3 424.7,357.1 424.9,356.8 425.0,356.6 425.1,356.2 425.3,355.8 425.4,355.3 425.5,354.8 425.5,354.2 425.6,353.6 425.6,353.0 425.7,352.3 425.7,351.6 425.7,351.0 425.7,350.4 425.6,349.9 425.6,349.4 425.5,349.0 425.4,348.7 425.3,348.4 425.2,348.1 425.0,347.9 424.8,347.8 424.6,347.6 424.4,347.5 424.2,347.4 423.9,347.4 423.6,347.3 423.3,347.3 422.9,347.2 422.5,347.2 422.1,347.2 421.7,347.2 421.3,347.2 420.9,347.2 420.4,347.2 419.9,347.2 419.5,347.2 419.0,347.3 418.6,347.3 418.1,347.3 417.7,347.4 417.2,347.5 416.8,347.6 416.5,347.6 416.1,347.8 415.8,347.9 415.5,348.0 415.2,348.2 414.9,348.4 414.7,348.6 414.5,348.8 414.3,349.0 414.1,349.3 414.0,349.5 413.9,349.8 413.7,350.1 413.7,350.3 413.6,350.6 413.5,350.8 413.5,351.1 413.5,351.3 413.5,351.5 413.5,351.7 413.5,351.8 413.6,351.9 413.6,352.0 413.7,352.1 413.8,352.2 413.8,352.2 413.9,352.2 414.0,352.1 414.2,352.1 414.3,352.0 414.4,352.0 414.5,351.9 414.6,351.7 414.8,351.6 414.9,351.5 415.0,351.4 415.1,351.2 415.2,351.1 415.3,351.0 415.4,350.8 415.4,350.7 415.5,350.6 415.5,350.5 415.5,350.4 415.5,350.3 415.4,350.2 415.4,350.2 415.3,350.1 415.2,350.1 415.1,350.1 414.9,350.1 414.7,350.1 414.6,350.2 414.4,350.2 414.2,350.3 413.9,350.3 413.7,350.4 413.5,350.6 413.3,350.7 413.0,350.8 412.8,351.0 412.6,351.2 412.4,351.3 412.2,351.5 412.0,351.8 411.8,352.0 411.6,352.2 411.5,352.4 411.4,352.6 411.2,352.8 411.1,353.0 411.0,353.2 410.9,353.4 410.8,353.6 410.8,353.8 410.7,354.0 410.7,354.1 410.6,354.2 410.6,354.3" fill="none" stroke="#f39a3c" stroke-width="0.7" stroke-opacity="1" stroke-linejoin="round" stroke-linecap="round"/>
<path d="M428,351L433.5,349.8" stroke="#f39a3c" stroke-width="0.6" fill="none"/>
<circle cx="434.6" cy="349.7" r="1.5" fill="#36ade2"/>
<rect x="454.7" y="334.9" width="58.4" height="33.5" fill="#e2e2e2"/>
<text x="460" y="345.6" font-size="8" fill="#8a8a8a" textLength="11.5" lengthAdjust="spacingAndGlyphs">TIL'</text>
<text x="460" y="354.4" font-size="8" fill="#9b4fc0" textLength="5.8" lengthAdjust="spacingAndGlyphs">E'</text>
<text x="460" y="363.2" font-size="8" fill="#3347a8" textLength="20.8" lengthAdjust="spacingAndGlyphs">VWD3</text>
<text x="491.9" y="345.6" font-size="8" fill="#d42a2a" textLength="15.9" lengthAdjust="spacingAndGlyphs">C8-3</text>
<text x="491.9" y="354.4" font-size="8" fill="#5ab046" textLength="13.1" lengthAdjust="spacingAndGlyphs">TIL3</text>
<text x="491.9" y="363.2" font-size="8" fill="#f2a04a" textLength="7.8" lengthAdjust="spacingAndGlyphs">E3</text>
<text x="322.5" y="381.9" font-size="7.5" fill="#222" text-anchor="start" >iv</text>
<circle cx="324.2" cy="391.3" r="1.5" fill="#36ade2"/>
<path d="M325.5,391.3L329,391" stroke="#777" stroke-width="0.6" fill="none"/>
<path d="M329.0,391.0 329.5,391.1 329.8,391.1 330.1,391.1 330.3,391.1 330.5,391.1 330.7,391.1 330.8,391.0 330.9,391.0 331.0,391.0 331.1,391.0 331.1,390.9 331.2,390.9 331.3,390.9 331.3,390.9 331.4,390.9 331.5,390.9 331.6,390.9 331.7,390.9 331.8,390.9 332.0,390.9 332.2,390.9 332.3,391.0 332.5,391.0 332.7,391.0 332.9,391.0 333.1,391.0 333.3,391.0 333.4,390.9 333.6,390.9 333.7,390.8 333.8,390.7 333.8,390.6 333.9,390.5 333.9,390.4 333.9,390.3 333.8,390.2 333.7,390.1 333.6,390.0 333.4,389.9 333.3,389.7 333.1,389.7 332.9,389.6 332.7,389.5 332.5,389.4 332.4,389.3 332.3,389.3 332.2,389.2 332.2,389.2 332.3,389.1 332.3,389.1 332.5,389.0 332.6,389.0 332.9,389.0 333.1,388.9 333.4,388.8 333.7,388.8 334.0,388.7 334.3,388.7 334.6,388.6 334.8,388.6 335.1,388.5 335.3,388.5 335.4,388.4 335.5,388.4 335.6,388.4 335.6,388.4 335.6,388.4 335.5,388.4 335.3,388.5 335.2,388.6 335.0,388.7 334.7,388.8 334.5,389.1 334.2,389.3 334.0,389.7 333.7,390.1 333.6,390.5 333.5,391.0 333.4,391.4 333.5,391.8 333.6,392.2 333.8,392.5 334.1,392.8 334.5,393.0 335.0,393.1 335.6,393.2 336.2,393.3 336.9,393.2 337.7,393.2 338.4,393.0 339.1,392.9 339.8,392.6 340.4,392.3 340.9,392.0 341.4,391.6 341.8,391.3 342.2,390.9 342.5,390.6 342.7,390.4 342.9,390.2 343.1,390.0 343.2,390.0 343.2,390.0 343.2,390.1 343.2,390.3 343.1,390.5 342.9,390.9 342.6,391.3 342.3,391.7 341.8,392.2 341.2,392.7 340.5,393.1 339.6,393.5 338.7,393.8 337.7,394.0 336.6,394.2 335.6,394.4 334.6,394.5 333.6,394.5 332.8,394.5 332.1,394.5 331.5,394.4 331.0,394.3 330.6,394.2 330.3,393.9 330.1,393.6 329.9,393.2 329.8,392.7 329.7,392.2 329.7,391.6 329.7,391.0 329.8,390.4 329.8,389.9 330.0,389.5 330.1,389.1 330.3,388.8 330.5,388.6 330.7,388.5 331.0,388.3 331.2,388.3 331.5,388.3 331.9,388.3 332.2,388.3 332.6,388.4 332.9,388.5 333.3,388.6 333.7,388.8 334.0,388.9 334.3,389.1 334.6,389.3 334.9,389.4 335.1,389.6 335.3,389.8 335.4,390.0 335.5,390.2 335.5,390.5 335.5,390.7 335.4,391.0 335.3,391.2 335.1,391.5 334.9,391.9 334.7,392.2 334.4,392.6 334.2,392.9 333.9,393.3 333.7,393.6 333.4,393.9 333.2,394.2 333.0,394.4 332.8,394.6 332.7,394.8 332.6,395.0 332.6,395.1 332.6,395.1 332.6,395.2 332.6,395.2 332.7,395.2 332.8,395.2 333.0,395.2 333.2,395.1 333.4,395.0 333.7,394.9 334.0,394.7 334.3,394.5 334.7,394.3 335.0,393.9 335.4,393.6 335.8,393.2 336.2,392.9 336.5,392.5 336.9,392.1 337.2,391.8 337.4,391.6 337.6,391.4 337.8,391.3 337.9,391.2 338.0,391.2 338.1,391.3 338.1,391.4 338.1,391.6 338.1,391.8 338.1,392.0 338.1,392.2 338.1,392.3 338.1,392.5 338.2,392.6 338.3,392.7 338.4,392.8 338.6,392.8 338.9,392.7 339.1,392.6 339.5,392.5 339.9,392.2 340.4,392.0 340.9,391.7 341.4,391.3 342.0,390.9 342.6,390.5 343.2,390.1 343.8,389.8 344.4,389.4 345.0,389.1 345.5,388.9 345.9,388.7 346.3,388.5 346.7,388.4 346.9,388.3 347.2,388.3 347.4,388.3 347.5,388.3 347.6,388.3 347.6,388.4 347.6,388.5 347.6,388.6 347.6,388.7 347.6,388.8 347.6,388.9 347.6,389.0 347.6,389.1 347.7,389.1 347.8,389.2 347.9,389.2 348.1,389.2 348.3,389.2 348.5,389.2 348.8,389.2 349.1,389.1 349.5,389.0 349.8,389.0 350.1,388.9 350.5,388.8 350.8,388.8 351.0,388.7 351.3,388.7 351.5,388.7 351.6,388.6 351.8,388.6 351.9,388.7 351.9,388.7 351.9,388.7 351.9,388.8 351.8,388.8 351.7,388.9 351.5,389.0 351.3,389.1 351.1,389.2 350.8,389.4 350.4,389.5 350.0,389.6 349.6,389.8 349.1,389.9 348.7,390.0 348.2,390.2 347.8,390.3 347.5,390.5 347.2,390.6 346.9,390.7 346.8,390.8 346.7,391.0 346.7,391.1 346.8,391.2 346.9,391.2 347.1,391.3 347.3,391.4 347.5,391.4 347.8,391.4 348.0,391.4 348.3,391.4 348.5,391.4 348.7,391.4 348.9,391.4 349.0,391.3 349.1,391.2 349.1,391.2 349.1,391.1 349.0,391.0 348.9,390.9 348.7,390.9 348.5,390.8 348.3,390.8 348.0,390.8 347.7,390.8 347.5,390.8 347.3,390.8 347.1,390.9 347.0,391.0 346.9,391.1 346.9,391.2 346.9,391.4 347.0,391.6 347.2,391.8 347.5,391.9 347.9,392.1 348.3,392.3 348.8,392.4 349.3,392.5 349.9,392.6 350.5,392.7 351.0,392.7 351.5,392.7 352.0,392.7 352.3,392.7 352.6,392.7 352.8,392.6 353.0,392.6 353.1,392.5 353.1,392.4 353.2,392.3 353.2,392.1 353.2,392.0 353.1,391.8 353.1,391.6 353.0,391.4 352.9,391.2 352.8,391.1 352.6,390.9 352.4,390.8 352.2,390.7 352.0,390.7 351.7,390.6 351.4,390.6 351.1,390.6 350.8,390.6 350.6,390.7 350.4,390.7 350.4,390.8 350.4,390.9 350.4,391.0 350.6,391.0 351.0,391.2" fill="none" stroke="#777" stroke-width="0.55" stroke-opacity="1" stroke-linejoin="round" stroke-linecap="round"/>
<path d="M336,389.5 L339,387.8 L341.5,390.5 L344,388 L346.5,390.8 L348.5,389" fill="none" stroke="#222" stroke-width="0.7"/>
<path d="M351.0,391.2 351.4,391.3 351.7,391.4 352.0,391.5 352.2,391.5 352.4,391.6 352.7,391.6 352.9,391.7 353.1,391.7 353.3,391.7 353.5,391.7 353.7,391.7 353.8,391.7 354.0,391.6 354.1,391.6 354.3,391.6 354.4,391.5 354.5,391.5 354.6,391.4 354.7,391.4 354.7,391.4 354.6,391.4 354.5,391.4 354.4,391.3 354.1,391.3 353.8,391.3 353.3,391.3 352.9,391.3 352.4,391.3 351.9,391.2 351.5,391.2 351.2,391.1 350.9,391.0 350.6,390.9 350.4,390.7 350.3,390.6 350.2,390.4 350.1,390.2 350.0,390.0 350.0,389.8 350.0,389.6 350.0,389.5 350.0,389.3 350.0,389.2 350.1,389.0 350.1,388.9 350.2,388.9 350.3,388.8 350.3,388.7 350.4,388.7 350.4,388.7 350.5,388.7 350.6,388.7 350.6,388.7 350.7,388.7 350.7,388.8 350.8,388.9 350.8,389.0 350.8,389.2 350.8,389.4 350.9,389.7 350.9,390.0 350.9,390.3 350.9,390.7 351.0,391.1 351.0,391.4 351.1,391.7 351.2,392.0 351.3,392.2 351.5,392.3 351.6,392.4 351.8,392.5 352.1,392.5 352.4,392.5 352.8,392.4 353.2,392.4 353.7,392.2 354.3,392.1 354.9,392.0 355.5,391.8 356.2,391.6 356.8,391.5 357.4,391.3 358.0,391.2 358.5,391.1 359.0,391.1 359.4,391.1 359.7,391.1 359.9,391.2 360.1,391.3 360.3,391.4 360.3,391.6 360.4,391.9 360.3,392.1 360.2,392.4 360.0,392.6 359.8,392.9 359.5,393.1 359.2,393.3 358.8,393.4 358.3,393.6 357.9,393.7 357.5,393.8 357.0,393.8 356.7,393.9 356.3,393.9 356.1,393.9 355.9,393.9 355.8,393.9 355.7,393.8 355.7,393.8 355.8,393.7 356.0,393.6 356.2,393.5 356.6,393.4 357.0,393.3 357.5,393.3 358.0,393.2 358.6,393.1 359.3,393.0 359.9,393.0 360.6,393.0 361.2,393.0 361.8,393.0 362.3,393.0 362.8,393.0 363.2,393.1 363.5,393.1 363.8,393.1 364.0,393.1 364.2,393.1 364.3,393.1 364.4,393.1 364.5,393.0 364.5,392.9 364.5,392.7 364.5,392.5 364.4,392.2 364.3,391.9 364.2,391.5 364.0,391.1 363.9,390.6 363.7,390.1 363.5,389.7 363.2,389.2 363.0,388.9 362.8,388.6 362.6,388.4 362.4,388.2 362.3,388.1 362.2,388.0 362.2,387.9 362.2,387.9 362.2,387.9 362.2,387.9 362.3,387.9 362.4,387.9 362.6,388.0 362.7,388.0 362.8,388.1 363.0,388.2 363.1,388.3 363.2,388.4 363.3,388.6 363.4,388.9 363.4,389.1 363.4,389.5 363.3,389.8 363.3,390.2 363.2,390.6 363.0,390.9 362.8,391.2 362.6,391.5 362.4,391.7 362.2,391.9 361.9,392.0 361.7,392.1 361.4,392.2 361.2,392.2 361.1,392.2 360.9,392.2 360.8,392.1 360.8,392.1 360.8,392.0 360.8,391.9 360.9,391.9 361.0,391.8 361.1,391.7 361.3,391.7 361.6,391.6 361.8,391.6 362.2,391.6 362.5,391.6 362.9,391.5 363.3,391.5 363.8,391.5 364.2,391.5 364.6,391.5 364.9,391.5 365.3,391.4 365.6,391.4 365.8,391.3 366.0,391.3 366.1,391.2 366.2,391.1 366.3,390.9 366.3,390.8 366.3,390.7 366.3,390.5 366.2,390.4 366.1,390.3 366.0,390.2 365.8,390.1 365.6,390.0 365.4,390.0 365.1,390.0 364.9,390.0 364.7,390.0 364.5,390.0 364.4,390.0 364.3,390.1 364.3,390.1 364.3,390.2 364.4,390.3 364.5,390.4 364.6,390.5 364.8,390.6 365.0,390.7 365.2,390.8 365.5,390.9 366.0,391.0" fill="none" stroke="#7d3fb5" stroke-width="0.7" stroke-opacity="1" stroke-linejoin="round" stroke-linecap="round"/>
<path d="M366,391L379,391.2" stroke="#5a4fb8" stroke-width="0.6" fill="none"/>
<path d="M379.0,391.2 378.8,391.3 378.6,391.4 378.4,391.4 378.2,391.4 378.1,391.4 377.9,391.4 377.8,391.4 377.7,391.3 377.6,391.3 377.5,391.2 377.4,391.1 377.4,391.0 377.4,390.9 377.4,390.8 377.4,390.7 377.5,390.6 377.5,390.5 377.7,390.4 377.8,390.4 378.0,390.3 378.2,390.3 378.4,390.3 378.7,390.3 378.9,390.4 379.2,390.4 379.5,390.5 379.7,390.6 380.0,390.7 380.2,390.9 380.5,391.0 380.7,391.2 380.9,391.3 381.1,391.4 381.3,391.6 381.5,391.7 381.7,391.8 381.8,391.8 382.0,391.8 382.2,391.8 382.4,391.8 382.6,391.7 382.8,391.6 383.1,391.5 383.3,391.3 383.6,391.2 384.0,391.0 384.3,390.8 384.7,390.6 385.1,390.5 385.5,390.3 385.9,390.2 386.3,390.1 386.7,390.1 387.1,390.0 387.4,390.1 387.8,390.1 388.1,390.3 388.5,390.4 388.8,390.7 389.0,390.9 389.3,391.3 389.5,391.7 389.7,392.1 389.9,392.4 390.0,392.8 390.2,393.1 390.3,393.4 390.4,393.6 390.5,393.8 390.5,394.0 390.6,394.1 390.6,394.2 390.7,394.3 390.7,394.3 390.8,394.4 390.8,394.4 390.9,394.4 391.0,394.4 391.0,394.4 391.2,394.4 391.3,394.3 391.4,394.3 391.6,394.2 391.8,394.1 392.0,393.9 392.2,393.7 392.5,393.5 392.7,393.2 392.9,392.9 393.1,392.6 393.3,392.3 393.5,392.0 393.7,391.7 393.8,391.5 394.0,391.3 394.1,391.1 394.1,391.0 394.1,391.0 394.1,391.0 394.0,391.0 393.9,391.0 393.6,391.1 393.3,391.2 392.9,391.3 392.4,391.5 391.8,391.6 391.0,391.8 390.2,391.9 389.2,392.0 388.2,392.1 387.1,392.2 386.0,392.3 385.0,392.3 384.0,392.3 383.1,392.3 382.3,392.3 381.6,392.3 381.0,392.3 380.5,392.3 380.1,392.2 379.8,392.2 379.6,392.1 379.5,392.1 379.5,392.1 379.5,392.0 379.5,392.0 379.6,392.0 379.8,392.1 380.0,392.1 380.3,392.1 380.6,392.2 380.9,392.2 381.3,392.3 381.6,392.3 382.0,392.4 382.4,392.4 382.8,392.5 383.2,392.5 383.5,392.5 383.8,392.4 384.1,392.4 384.3,392.3 384.4,392.2 384.5,392.0 384.6,391.8 384.6,391.6 384.6,391.4 384.5,391.1 384.5,390.9 384.4,390.6 384.4,390.3 384.4,390.0 384.4,389.7 384.4,389.5 384.5,389.2 384.7,389.1 384.9,388.9 385.2,388.8 385.6,388.7 386.1,388.6 386.6,388.6 387.3,388.5 388.1,388.6 388.9,388.6 389.9,388.7 390.9,388.8 391.9,388.9 392.9,389.0 393.9,389.2 394.9,389.4 395.8,389.5 396.6,389.7 397.3,389.9 397.9,390.0 398.4,390.1 398.7,390.3 399.0,390.3 399.1,390.4 399.1,390.4 399.1,390.4 398.8,390.4 398.5,390.3 398.0,390.2 397.3,390.1 396.5,390.0 395.5,389.8 394.4,389.7 393.2,389.6 391.9,389.4 390.6,389.3 389.3,389.2 388.2,389.1 387.1,389.1 386.2,389.0 385.4,389.0 384.8,389.0 384.4,389.1 384.0,389.1 383.8,389.2 383.7,389.2 383.7,389.3 383.8,389.4 384.0,389.5 384.3,389.6 384.7,389.7 385.2,389.8 385.8,389.9 386.6,389.9 387.5,389.9 388.5,389.9 389.6,389.9 390.8,389.8 392.0,389.7 393.3,389.6 394.4,389.5 395.5,389.3 396.5,389.2 397.3,389.1 397.9,388.9 398.4,388.8 398.7,388.7 398.8,388.6 398.7,388.5 398.5,388.5 398.1,388.5 397.5,388.5 396.8,388.5 395.9,388.6 394.9,388.8 393.8,388.9 392.6,389.1 391.5,389.4 390.4,389.6 389.4,390.0 388.5,390.3 387.8,390.6 387.2,391.0 386.7,391.3 386.4,391.6 386.1,391.9 386.0,392.1 385.9,392.3 385.9,392.4 385.9,392.4 386.1,392.4 386.2,392.3 386.5,392.1 386.8,391.9 387.1,391.6 387.6,391.2 388.1,390.8 388.7,390.3 389.4,389.9 390.2,389.4 391.1,389.0 392.0,388.6 393.0,388.3 394.0,388.0 394.9,387.8 395.8,387.6 396.6,387.5 397.3,387.5 397.9,387.4 398.4,387.4 398.7,387.4 399.0,387.5 399.1,387.5 399.1,387.6 399.1,387.8 398.9,388.0 398.7,388.2 398.5,388.6 398.2,389.0 397.9,389.5 397.6,390.0 397.3,390.7 397.1,391.3 396.9,391.9 396.8,392.4 396.8,392.9 396.9,393.2 397.0,393.5 397.3,393.7 397.6,393.9 398.0,394.0 398.5,394.0 399.2,394.0 399.8,394.0 400.6,394.0 401.4,394.0 402.2,393.9 403.0,393.8 403.8,393.7 404.5,393.6 405.1,393.5 405.7,393.4 406.2,393.2 406.6,393.1 407.0,393.0 407.3,392.9 407.5,392.8 407.6,392.8 407.7,392.8 407.8,392.8 407.8,392.8 407.7,392.9 407.6,393.0 407.5,393.0 407.3,393.1 407.0,393.2 406.7,393.3 406.4,393.4 406.0,393.4 405.6,393.4 405.1,393.5 404.7,393.5 404.3,393.5 403.9,393.4 403.5,393.4 403.3,393.3 403.0,393.2 402.9,393.1 402.8,393.0 402.9,392.8 403.0,392.6 403.2,392.4 403.4,392.2 403.7,391.9 404.1,391.6 404.5,391.3 405.0,391.1 405.4,390.8 405.8,390.6 406.3,390.4 406.6,390.3 407.0,390.2 407.3,390.1 407.6,390.1 407.8,390.1 408.0,390.2 408.1,390.3 408.2,390.4 408.2,390.5 408.2,390.7 408.2,390.8 408.2,391.0 408.1,391.2 408.0,391.4 407.9,391.5 407.7,391.7 407.5,391.8 407.3,391.8 407.0,391.9 406.7,391.9 406.4,392.0 406.1,391.9 405.7,391.9 405.4,391.9 405.0,391.8 404.7,391.7 404.4,391.6 404.2,391.5 404.0,391.4 403.9,391.3 403.8,391.1 403.8,391.0 403.8,390.9 403.8,390.8 403.9,390.8 404.0,390.7 404.1,390.7 404.2,390.7 404.4,390.7 404.6,390.7 404.8,390.7 405.0,390.8 405.2,390.8 405.4,390.9 405.6,390.9 406.0,391.0" fill="none" stroke="#2f42b0" stroke-width="0.6" stroke-opacity="1" stroke-linejoin="round" stroke-linecap="round"/>
<path d="M391.5,391 L392.5,382 L393.5,388 L395,383 L396,389" fill="none" stroke="#2f42b0" stroke-width="0.6"/>
<path d="M386.2,393.2Q393.4,395.0 400.5,393.2M387.6,395.3Q393.6,397.1 399.6,395.3M386.3,397.4Q392.7,399.2 399.2,397.4M386.5,399.5Q392.8,401.3 399.2,399.5M386.9,401.6Q393.5,403.4 400.2,401.6" fill="none" stroke="#2f42b0" stroke-width="0.75"/>
<path d="M406,391L415,391" stroke="#2f42b0" stroke-width="0.6" fill="none"/>
<path d="M415,391L431,391.6" stroke="#d8282a" stroke-width="0.6" fill="none"/>
<path d="M431.0,391.6 431.3,391.7 431.5,391.7 431.6,391.8 431.8,391.8 431.9,391.9 432.0,391.9 432.0,391.9 432.0,392.0 432.0,392.0 431.9,392.0 431.8,392.0 431.6,392.0 431.4,392.0 431.2,392.0 431.0,392.0 430.7,392.0 430.5,392.0 430.4,392.0 430.2,392.0 430.1,392.0 430.0,392.0 430.0,392.0 429.9,392.0 429.9,392.0 430.0,391.9 430.0,391.9 430.1,391.8 430.2,391.8 430.3,391.7 430.5,391.6 430.7,391.4 430.9,391.3 431.1,391.2 431.3,391.0 431.4,390.9 431.6,390.7 431.8,390.6 431.9,390.5 432.1,390.4 432.1,390.4 432.2,390.4 432.3,390.4 432.3,390.5 432.3,390.6 432.3,390.8 432.3,391.0 432.3,391.3 432.2,391.6 432.2,392.0 432.2,392.3 432.2,392.7 432.2,393.0 432.2,393.2 432.2,393.4 432.2,393.5 432.2,393.7 432.2,393.7 432.1,393.8 432.1,393.8 432.1,393.7 432.1,393.7 432.0,393.5 432.0,393.4 431.9,393.1 431.9,392.8 431.8,392.4 431.8,391.9 431.7,391.5 431.7,391.0 431.7,390.6 431.7,390.2 431.8,389.9 431.8,389.7 432.0,389.5 432.1,389.4 432.4,389.3 432.6,389.3 433.0,389.3 433.3,389.3 433.8,389.4 434.2,389.4 434.8,389.5 435.3,389.6 435.8,389.7 436.4,389.8 436.9,389.8 437.3,389.8 437.8,389.8 438.1,389.7 438.4,389.6 438.7,389.5 438.9,389.4 439.0,389.2 439.1,389.1 439.1,389.0 439.1,388.8 439.1,388.7 439.1,388.6 439.0,388.6 438.9,388.5 438.9,388.5 438.9,388.6 438.9,388.6 438.9,388.7 439.1,388.8 439.2,388.9 439.5,389.0 439.7,389.2 440.1,389.3 440.5,389.5 440.8,389.6 441.2,389.7 441.6,389.8 442.0,389.8 442.4,389.7 442.7,389.6 442.9,389.5 443.2,389.4 443.4,389.2 443.5,389.0 443.6,388.8 443.7,388.6 443.7,388.5 443.7,388.3 443.6,388.2 443.5,388.1 443.3,388.0 443.1,388.0 442.9,388.0 442.6,388.0 442.4,388.1 442.1,388.2 441.9,388.3 441.7,388.4 441.6,388.6 441.6,388.8 441.6,389.1 441.7,389.3 441.9,389.6 442.2,389.9 442.6,390.1 443.0,390.4 443.4,390.6 443.7,390.8 444.1,391.0 444.4,391.2 444.7,391.4 444.9,391.5 445.1,391.6 445.2,391.7 445.2,391.8 445.2,391.9 445.1,392.1 444.8,392.2 444.4,392.3 443.9,392.4 443.2,392.5 442.4,392.7 441.4,392.8 440.2,392.9 439.0,393.0 437.9,393.1 436.8,393.2 435.8,393.2 435.1,393.3 434.5,393.3 434.0,393.4 433.7,393.4 433.6,393.4 433.5,393.5 433.5,393.5 433.7,393.6 433.9,393.6 434.2,393.7 434.6,393.8 435.2,394.0 435.9,394.1 436.7,394.2 437.5,394.4 438.5,394.5 439.4,394.7 440.3,394.8 441.2,394.9 441.9,395.0 442.5,395.1 443.0,395.1 443.3,395.1 443.5,395.1 443.6,395.1 443.5,395.1 443.3,395.0 443.0,394.9 442.5,394.7 442.0,394.5 441.4,394.2 440.8,393.8 440.2,393.4 439.5,393.0 438.9,392.5 438.4,392.0 437.9,391.5 437.4,391.1 437.1,390.8 436.8,390.6 436.6,390.5 436.4,390.5 436.3,390.6 436.3,390.8 436.2,391.1 436.2,391.4 436.3,391.8 436.3,392.2 436.4,392.6 436.5,393.0 436.6,393.3 436.7,393.6 436.8,393.7 436.9,393.9 437.1,393.9 437.3,393.9 437.4,393.9 437.6,393.7 437.9,393.5 438.1,393.2 438.4,392.9 438.7,392.5 439.1,392.0 439.5,391.5 439.9,391.0 440.4,390.5 440.9,390.0 441.4,389.7 442.0,389.4 442.5,389.2 443.0,389.0 443.5,389.0 444.0,388.9 444.4,389.0 444.7,389.1 445.0,389.3 445.2,389.4 445.4,389.6 445.4,389.9 445.5,390.1 445.4,390.3 445.4,390.4 445.2,390.6 445.1,390.7 444.9,390.7 444.8,390.7 444.6,390.6 444.4,390.5 444.3,390.4 444.2,390.3 444.2,390.1 444.2,390.0 444.3,389.8 444.5,389.7 444.7,389.6 444.9,389.5 445.2,389.5 445.4,389.5 445.7,389.5 446.0,389.6 446.3,389.7 446.6,389.8 446.8,390.0 446.9,390.1 447.0,390.3 447.0,390.4 447.0,390.5 446.8,390.6 446.6,390.7 446.2,390.7 445.9,390.7 445.4,390.6 444.9,390.5 444.4,390.4 443.8,390.3 443.3,390.1 442.9,390.0 442.5,389.8 442.1,389.7 441.9,389.5 441.7,389.4 441.6,389.3 441.6,389.3 441.7,389.2 441.8,389.2 442.0,389.2 442.2,389.3 442.5,389.4 442.9,389.4 443.4,389.5 443.9,389.6 444.4,389.8 445.0,389.9 445.5,390.0 446.0,390.1 446.5,390.2 446.9,390.2 447.3,390.3 447.5,390.3 447.7,390.3 447.8,390.3 447.8,390.3 447.8,390.3 447.7,390.3 447.5,390.2 447.3,390.2 447.1,390.1 446.9,390.1 446.8,390.0 446.6,390.0 446.5,390.0 446.5,389.9 446.5,389.8 446.6,389.8 446.8,389.7 447.0,389.6 447.4,389.5 447.7,389.4 448.2,389.3 448.7,389.1 449.1,389.0 449.6,388.9 450.1,388.8 450.5,388.7 450.9,388.6 451.2,388.5 451.4,388.5 451.6,388.5 451.7,388.5 451.7,388.5 451.7,388.5 451.7,388.5 451.6,388.6 451.4,388.7 451.2,388.8 450.9,389.0 450.5,389.1 450.1,389.4 449.7,389.6 449.3,389.9 448.9,390.2 448.5,390.5 448.2,390.8 448.0,391.0 447.9,391.2 447.8,391.3 447.8,391.4 447.9,391.5 448.0,391.5 448.2,391.4 448.4,391.3 448.7,391.3 449.0,391.1 449.4,391.0 449.8,390.8 450.2,390.7 450.7,390.6 451.0,390.4 451.4,390.3 451.6,390.3 451.9,390.2 452.0,390.2 452.1,390.2 452.2,390.3 452.2,390.3 452.2,390.4 452.2,390.5 452.2,390.6 452.1,390.6 452.0,390.7 451.9,390.8 451.8,390.8 451.7,390.8 451.6,390.7 451.4,390.7 451.0,390.5" fill="none" stroke="#d8282a" stroke-width="0.6" stroke-opacity="1" stroke-linejoin="round" stroke-linecap="round"/>
<path d="M448.6,384.9 448.6,385.0 448.6,385.1 448.5,385.2 448.5,385.3 448.5,385.4 448.6,385.5 448.6,385.6 448.7,385.7 448.7,385.8 448.8,385.9 448.9,385.9 449.0,386.0 449.0,386.0 449.1,386.1 449.2,386.1 449.2,386.1 449.3,386.2 449.3,386.3 449.4,386.4 449.4,386.5 449.4,386.6 449.4,386.8 449.4,387.0 449.3,387.3 449.2,387.6 449.1,387.9 449.0,388.3 448.8,388.6 448.6,389.0 448.3,389.3 447.9,389.5 447.5,389.8 447.0,390.0 446.5,390.1 445.9,390.2 445.4,390.3 444.9,390.4 444.4,390.4 444.1,390.5 443.8,390.5 443.5,390.5 443.4,390.5 443.2,390.5 443.1,390.4 443.0,390.4 443.0,390.4 442.9,390.3 442.9,390.2 442.9,390.0 442.9,389.8 442.9,389.6 442.9,389.3 442.9,389.0 442.9,388.6 442.9,388.2 442.9,387.8 443.0,387.5 443.0,387.1 443.1,386.9 443.1,386.7 443.2,386.5 443.3,386.5 443.5,386.4 443.6,386.5 443.8,386.5 444.0,386.7 444.2,386.8 444.4,387.1 444.6,387.3 444.8,387.6 445.0,387.9 445.2,388.3 445.3,388.6 445.4,388.8 445.5,389.1 445.6,389.3 445.7,389.4 445.7,389.6 445.7,389.6 445.7,389.7 445.7,389.7 445.7,389.8 445.7,389.7 445.7,389.7 445.7,389.6 445.7,389.5 445.7,389.4 445.7,389.3 445.8,389.1 445.8,388.9 445.9,388.6 446.0,388.4 446.1,388.1 446.3,387.8 446.5,387.6 446.6,387.3 446.8,387.1 447.0,387.0 447.2,386.8 447.4,386.7 447.6,386.6 447.8,386.5 447.9,386.5 448.1,386.5 448.2,386.5 448.3,386.5 448.4,386.5 448.4,386.5 448.4,386.5 448.4,386.4 448.4,386.4 448.4,386.4 448.3,386.3 448.2,386.2 448.1,386.1 447.9,385.9 447.8,385.8 447.6,385.6 447.4,385.4 447.2,385.3 447.0,385.1 446.8,385.0 446.6,384.8 446.4,384.7 446.3,384.6 446.2,384.6 446.1,384.5 446.0,384.5 446.0,384.5 446.1,384.4 446.1,384.4 446.3,384.4 446.4,384.4 446.7,384.4 446.9,384.4 447.2,384.5 447.5,384.5 447.9,384.6 448.2,384.7 448.5,384.8" fill="none" stroke="#b01818" stroke-width="0.8" stroke-opacity="1" stroke-linejoin="round" stroke-linecap="round"/>
<path d="M451.0,390.5 451.2,390.7 451.3,390.9 451.4,390.9 451.4,391.0 451.5,391.1 451.5,391.1 451.5,391.1 451.5,391.1 451.5,391.1 451.5,391.1 451.5,391.1 451.5,391.1 451.5,391.1 451.6,391.1 451.6,391.1 451.7,391.1 451.7,391.1 451.8,391.1 452.0,391.1 452.1,391.1 452.3,391.2 452.6,391.2 452.8,391.2 453.1,391.3 453.5,391.3 453.8,391.4 454.2,391.4 454.6,391.5 455.0,391.5 455.4,391.6 455.9,391.6 456.3,391.6 456.7,391.7 457.1,391.7 457.5,391.7 457.9,391.7 458.3,391.7 458.7,391.7 459.0,391.7 459.3,391.6 459.7,391.6 460.0,391.5 460.2,391.5 460.5,391.4 460.8,391.4 461.0,391.3 461.3,391.3 461.5,391.2 461.7,391.1 461.9,391.1 462.1,391.0 462.3,391.0 462.5,390.9 462.7,390.9 462.8,390.9 463.0,390.8 463.1,390.8 463.3,390.7 463.4,390.6 463.5,390.5 463.6,390.4 463.7,390.3 463.7,390.1 463.7,390.0 463.7,389.8 463.7,389.5 463.6,389.3 463.5,389.0 463.3,388.8 463.0,388.5 462.7,388.2 462.3,387.9 461.8,387.7 461.3,387.4 460.7,387.2 460.0,387.0 459.2,386.8 458.4,386.7 457.6,386.5 456.9,386.4 456.1,386.3 455.5,386.3 454.8,386.2 454.3,386.1 453.9,386.1 453.5,386.1 453.2,386.0 453.0,386.0 452.9,386.0 452.9,386.0 452.9,386.1 453.1,386.1 453.3,386.2 453.6,386.2 453.9,386.3 454.4,386.4 454.9,386.6 455.4,386.7 456.0,386.9 456.7,387.1 457.3,387.3 458.0,387.5 458.6,387.7 459.2,387.8 459.8,388.0 460.3,388.2 460.7,388.3 461.1,388.4 461.3,388.4 461.5,388.5 461.6,388.5 461.6,388.5 461.5,388.5 461.3,388.5 461.1,388.5 460.7,388.5 460.3,388.6 459.9,388.6 459.4,388.6 458.9,388.7 458.4,388.8 457.9,389.0 457.4,389.1 457.0,389.3 456.6,389.5 456.4,389.8 456.2,390.0 456.0,390.3 456.0,390.6 456.1,390.9 456.3,391.1 456.6,391.4 456.9,391.6 457.4,391.8 458.0,391.9 458.7,392.0 459.4,392.0 460.3,392.0 461.2,392.0 462.1,391.9 463.0,391.7 463.9,391.5 464.7,391.2 465.5,390.9 466.2,390.5 466.8,390.1 467.2,389.7 467.6,389.2 467.8,388.8 467.9,388.4 467.8,388.1 467.6,387.7 467.2,387.5 466.7,387.3 466.0,387.1 465.1,387.0 464.1,387.0 463.0,387.0 461.8,387.1 460.5,387.3 459.2,387.5 458.0,387.8 456.9,388.2 455.9,388.7 455.0,389.2 454.3,389.8 453.7,390.4 453.3,391.0 453.0,391.6 452.8,392.2 452.6,392.7 452.6,393.2 452.7,393.5 452.8,393.8 453.1,394.1 453.4,394.3 453.9,394.4 454.6,394.4 455.3,394.5 456.3,394.5 457.5,394.4 458.9,394.3 460.5,394.1 462.2,393.9 464.1,393.7 465.9,393.4 467.7,393.0 469.4,392.7 470.9,392.3 472.2,391.9 473.3,391.5 474.2,391.1 475.0,390.8 475.5,390.5 475.9,390.3 476.1,390.1 476.3,390.0 476.3,390.0 476.1,390.0 475.8,390.1 475.4,390.2 474.8,390.4 474.1,390.6 473.3,390.8 472.2,391.1 471.1,391.3 469.8,391.6 468.5,391.8 467.2,392.0 466.0,392.2 464.8,392.3 463.7,392.3 462.8,392.3 462.0,392.3 461.4,392.2 460.9,392.1 460.6,391.8 460.5,391.6 460.4,391.2 460.5,390.8 460.7,390.4 461.1,390.0 461.5,389.5 462.1,389.0 462.7,388.6 463.4,388.2 464.2,387.8 465.1,387.5 466.0,387.2 466.9,387.0 467.7,386.9 468.5,386.8 469.2,386.8 469.9,386.9 470.4,387.0 470.8,387.2 471.0,387.4 471.2,387.7 471.1,388.1 471.0,388.6 470.7,389.1 470.3,389.6 469.7,390.2 469.0,390.8 468.3,391.3 467.5,391.9 466.6,392.4 465.7,392.8 464.8,393.1 464.0,393.4 463.3,393.7 462.6,393.9 462.0,394.0 461.4,394.1 461.0,394.2 460.7,394.2 460.4,394.2 460.2,394.1 460.1,394.0 460.1,393.9 460.1,393.8 460.2,393.6 460.4,393.4 460.6,393.2 460.9,393.0 461.2,392.8 461.6,392.6 462.0,392.4 462.5,392.2 463.1,392.0 463.7,391.9 464.3,391.8 465.0,391.7 465.7,391.6 466.4,391.6 467.1,391.7 467.8,391.7 468.5,391.8 469.1,391.9 469.7,392.0 470.2,392.1 470.7,392.3 471.1,392.4 471.4,392.6 471.7,392.7 471.9,392.8 472.0,392.9 472.2,393.0 472.2,393.0 472.3,393.1 472.3,393.1 472.3,393.1 472.3,393.1 472.3,393.0 472.3,393.0 472.3,392.9 472.3,392.8 472.3,392.6 472.4,392.5 472.5,392.3 472.6,392.1 472.8,391.9 473.0,391.6 473.2,391.4 473.5,391.1 473.8,390.8 474.1,390.6 474.5,390.3 474.8,390.0 475.2,389.7 475.7,389.5 476.1,389.2 476.6,389.0 477.0,388.7 477.5,388.5 478.0,388.3 478.4,388.2 478.9,388.0 479.4,387.9 479.8,387.8 480.3,387.7 480.7,387.7 481.1,387.6 481.5,387.6 481.9,387.6 482.3,387.6 482.7,387.6 483.0,387.7 483.4,387.7 483.7,387.8 484.0,387.8 484.2,387.9 484.5,388.0 484.7,388.1 485.0,388.2 485.2,388.3 485.3,388.4 485.5,388.4 485.6,388.5 485.7,388.5 485.8,388.5 485.9,388.5 485.9,388.5 486.0,388.4 485.9,388.3 485.9,388.2 485.8,388.1 485.8,387.9 485.6,387.8 485.5,387.6 485.3,387.4 485.1,387.2 484.9,387.1 484.7,386.9 484.4,386.7 484.1,386.6 483.9,386.5 483.6,386.4 483.3,386.3 483.1,386.2 482.8,386.2 482.7,386.1 482.5,386.1 482.4,386.1 482.4,386.1 482.4,386.1 482.5,386.2 482.6,386.2 482.8,386.2 483.1,386.3 483.4,386.4 483.7,386.5 484.1,386.6 484.5,386.7 484.9,386.8 485.3,386.9 485.7,387.0 486.1,387.1 486.4,387.2 486.7,387.3 487.0,387.4 487.2,387.5 487.4,387.6 487.6,387.6 487.7,387.6 487.8,387.6 487.8,387.6 487.9,387.6 487.9,387.5 487.8,387.5 487.8,387.4 487.7,387.4 487.6,387.4 487.4,387.3 487.2,387.3 487.0,387.3 486.7,387.3 486.4,387.3 486.0,387.4 485.6,387.4 485.1,387.5 484.6,387.6 484.1,387.7 483.5,387.9 483.0,388.0 482.5,388.3 482.1,388.5 481.7,388.8 481.4,389.1 481.1,389.5 480.9,389.8 480.8,390.1 480.7,390.4 480.7,390.7 480.7,390.9 480.7,391.0 480.8,391.1 480.9,391.2 481.0,391.2 481.2,391.2 481.3,391.2 481.5,391.2 481.7,391.1 481.9,391.1 482.0,391.0 482.2,390.9 482.3,390.9 482.5,390.8 482.6,390.7 482.7,390.6 482.9,390.5 483.0,390.4 483.1,390.2 483.3,390.1 483.4,390.0 483.6,389.9 483.8,389.8 484.0,389.7 484.4,389.6 485.0,389.5" fill="none" stroke="#3c9a3c" stroke-width="0.6" stroke-opacity="1" stroke-linejoin="round" stroke-linecap="round"/>
<path d="M485.0,389.5 485.4,389.6 485.6,389.6 485.8,389.6 485.9,389.6 485.9,389.6 485.8,389.6 485.8,389.5 485.7,389.5 485.5,389.5 485.4,389.4 485.3,389.4 485.3,389.4 485.2,389.4 485.2,389.3 485.3,389.4 485.4,389.4 485.6,389.4 485.8,389.4 486.1,389.4 486.4,389.5 486.8,389.5 487.3,389.6 487.7,389.6 488.1,389.6 488.5,389.7 488.9,389.7 489.2,389.7 489.5,389.7 489.7,389.7 489.9,389.8 490.0,389.8 490.1,389.8 490.1,389.8 490.1,389.7 490.0,389.7 489.8,389.7 489.5,389.7 489.0,389.8 488.5,389.8 487.8,389.8 487.1,389.9 486.3,389.9 485.6,390.0 485.0,390.1 484.5,390.2 484.0,390.3 483.7,390.4 483.5,390.5 483.3,390.7 483.2,390.8 483.1,390.9 483.1,391.0 483.1,391.1 483.1,391.2 483.1,391.3 483.2,391.4 483.4,391.5 483.6,391.5 483.8,391.5 484.0,391.5 484.3,391.5 484.6,391.5 484.9,391.5 485.2,391.5 485.5,391.4 485.8,391.3 486.0,391.2 486.1,391.1 486.2,391.0 486.2,390.9 486.1,390.8 485.9,390.7 485.8,390.6 485.5,390.5 485.3,390.4 485.1,390.3 484.8,390.2 484.6,390.2 484.5,390.1 484.3,390.1 484.2,390.1 484.2,390.1 484.2,390.1 484.2,390.1 484.3,390.1 484.4,390.1 484.6,390.1 484.9,390.1 485.3,390.1 485.7,390.0 486.2,389.9 486.9,389.8 487.6,389.7 488.4,389.6 489.2,389.4 490.1,389.2 490.9,389.0 491.6,388.8 492.3,388.6 492.8,388.4 493.3,388.2 493.6,388.1 493.8,387.9 493.8,387.8 493.8,387.6 493.6,387.6 493.3,387.5 492.9,387.4 492.4,387.4 491.8,387.4 491.1,387.4 490.4,387.4 489.7,387.4 489.0,387.4 488.4,387.5 487.9,387.5 487.4,387.6 487.0,387.7 486.7,387.7 486.5,387.8 486.3,387.9 486.2,387.9 486.2,388.0 486.2,388.1 486.3,388.1 486.4,388.2 486.5,388.2 486.7,388.3 487.0,388.4 487.3,388.5 487.6,388.6 487.9,388.7 488.2,388.9 488.6,389.0 488.9,389.2 489.3,389.5 489.6,389.7 489.9,389.9 490.2,390.2 490.5,390.4 490.8,390.6 491.0,390.8 491.3,391.0 491.5,391.1 491.8,391.2 492.1,391.3 492.4,391.2 492.7,391.2 493.1,391.1 493.6,390.9 494.1,390.6 494.6,390.2 495.2,389.8 495.8,389.3 496.5,388.8 497.2,388.2 497.8,387.7 498.5,387.2 499.1,386.8 499.7,386.4 500.2,386.2 500.6,385.9 501.0,385.8 501.3,385.7 501.6,385.6 501.8,385.6 501.9,385.5 502.0,385.5 502.1,385.6 502.1,385.6 502.0,385.7 501.9,385.8 501.8,386.0 501.6,386.3 501.3,386.6 501.1,387.0 500.8,387.5 500.4,388.0 500.1,388.6 499.9,389.2 499.6,389.7 499.5,390.2 499.4,390.5 499.4,390.8 499.5,391.0 499.7,391.1 500.0,391.1 500.4,391.1 500.8,391.0 501.3,390.8 501.8,390.6 502.3,390.4 502.8,390.1 503.3,389.8 503.6,389.6 504.0,389.3 504.3,389.2 504.5,389.0 504.7,389.0 504.8,389.0 504.9,389.1 504.9,389.3 504.9,389.5 504.8,389.8 504.7,390.2 504.5,390.6 504.2,391.0 503.8,391.5 503.3,391.8 502.6,392.1 501.9,392.4 501.1,392.6 500.2,392.8 499.3,392.9 498.4,392.9 497.6,392.9 497.0,392.9 496.4,392.8 496.0,392.7 495.8,392.5 495.7,392.3 495.8,392.0 496.0,391.6 496.4,391.1 496.8,390.6 497.4,390.0 498.1,389.4 498.9,388.9 499.7,388.5 500.6,388.1 501.3,387.9 502.1,387.7 502.7,387.6 503.2,387.6 503.7,387.7 504.0,387.8 504.3,388.1 504.4,388.4 504.5,388.8 504.4,389.3 504.3,389.8 504.1,390.3 503.8,390.8 503.4,391.2 502.9,391.6 502.4,391.8 501.8,392.1 501.2,392.2 500.5,392.3 500.0,392.3 499.5,392.3 499.1,392.3 498.8,392.2 498.6,392.0 498.6,391.8 498.6,391.6 498.8,391.3 499.1,390.9 499.5,390.5 500.0,390.1 500.6,389.7 501.2,389.4 501.9,389.1 502.6,388.9 503.2,388.7 503.8,388.6 504.3,388.6 504.7,388.7 505.0,388.8 505.2,389.0 505.4,389.3 505.4,389.6 505.3,389.9 505.1,390.3 504.8,390.7 504.4,391.0 503.8,391.3 503.1,391.6 502.2,391.7 501.3,391.9 500.4,392.0 499.5,392.1 498.7,392.1 498.0,392.1 497.5,392.1 497.1,392.0 496.9,391.9 496.7,391.8 496.7,391.7 496.6,391.5 496.7,391.3 496.7,391.1 496.8,390.8 496.9,390.5 497.1,390.2 497.2,389.9 497.4,389.6 497.6,389.3 497.8,389.1 498.1,388.8 498.4,388.7 498.7,388.5 499.0,388.4 499.3,388.3 499.7,388.3 500.1,388.2 500.4,388.2 500.7,388.2 501.0,388.2 501.2,388.2 501.4,388.2 501.5,388.2 501.6,388.2 501.6,388.2 501.6,388.2 501.7,388.2 501.7,388.2 501.7,388.3 501.7,388.3 501.7,388.3 501.8,388.3 501.9,388.3 502.0,388.4 502.1,388.4 502.2,388.5 502.4,388.5 502.7,388.6 502.9,388.7 503.2,388.7 503.5,388.8 503.8,388.9 504.1,389.0 504.5,389.1 504.8,389.2 505.1,389.3 505.3,389.4 505.6,389.5 505.7,389.6 505.9,389.7 506.0,389.7 506.0,389.7 506.0,389.8 506.0,389.8 506.0,389.8 506.0,389.7 505.9,389.7 505.9,389.7 505.8,389.7 505.9,389.6 506.0,389.6" fill="none" stroke="#f39a3c" stroke-width="0.6" stroke-opacity="1" stroke-linejoin="round" stroke-linecap="round"/>
<circle cx="508.5" cy="389.6" r="1.5" fill="#36ade2"/>
<line x1="412.3" y1="408.8" x2="413.68" y2="396.18" stroke="#d0284a" stroke-width="0.9"/>
<polygon points="414.00,393.20 415.21,396.85 412.03,396.51" fill="#d0284a"/>
<text x="380.9" y="416.5" font-size="8" fill="#d0284a" text-anchor="start" textLength="73.8" lengthAdjust="spacingAndGlyphs">Position of linker insert</text>
<rect x="0.5" y="0.5" width="519" height="431" fill="none" stroke="#000" stroke-width="1.2"/>
</svg></body></html>
